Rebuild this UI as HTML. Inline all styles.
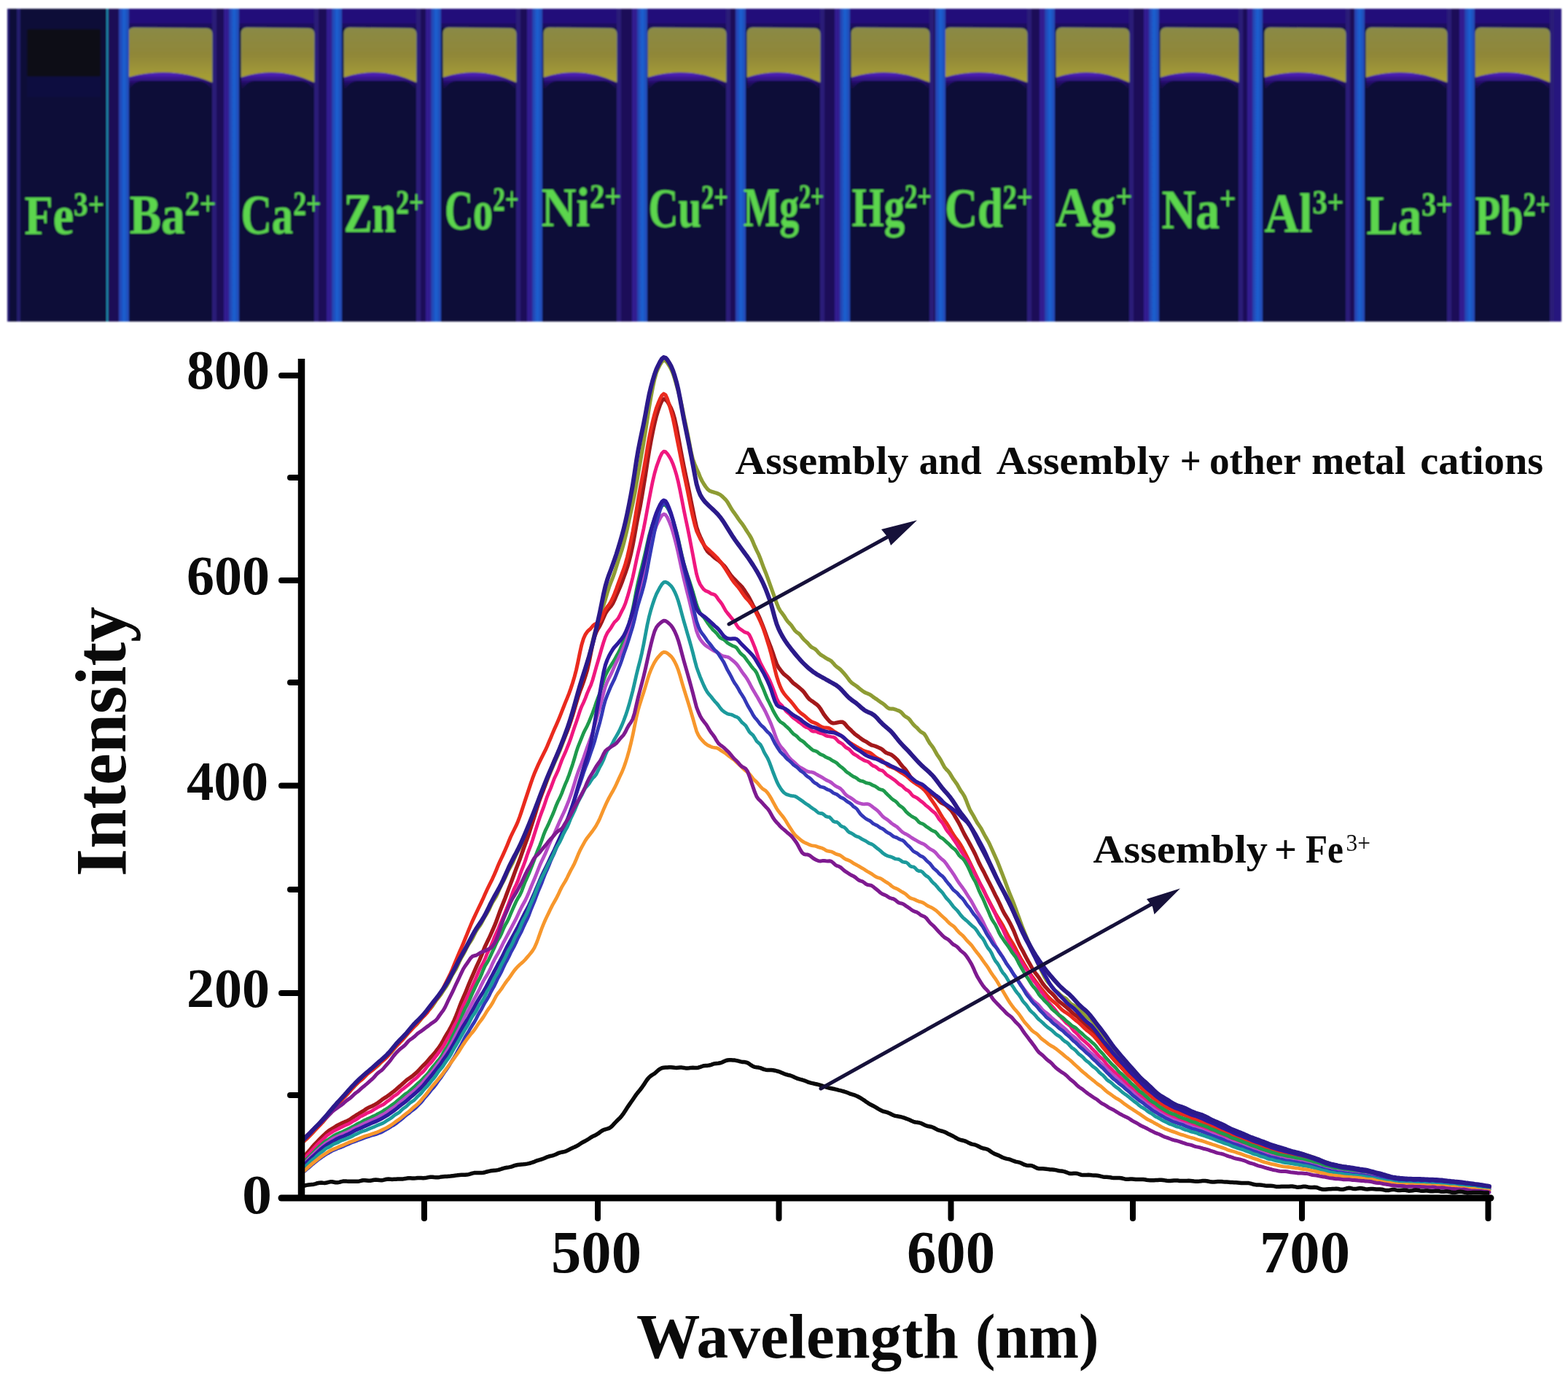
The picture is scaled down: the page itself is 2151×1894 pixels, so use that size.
<!DOCTYPE html>
<html><head><meta charset="utf-8"><title>Fluorescence spectra</title>
<style>
html,body{margin:0;padding:0;background:#fff;}
body{width:2151px;height:1894px;overflow:hidden;}
svg{display:block;}
.lab{font-family:"Liberation Serif",serif;font-weight:bold;font-size:77px;fill:#5cd64e;}
.tick{font-family:"Liberation Serif",serif;font-weight:bold;font-size:76px;fill:#0a0a0a;}
.tickx{font-family:"Liberation Serif",serif;font-weight:bold;font-size:83px;fill:#0a0a0a;}
.ylab{font-family:"Liberation Serif",serif;font-weight:bold;font-size:100px;fill:#0a0a0a;}
.xlab{font-family:"Liberation Serif",serif;font-weight:bold;font-size:86px;fill:#0a0a0a;}
.ann{font-family:"Liberation Serif",serif;font-weight:bold;font-size:55px;fill:#0a0a0a;}
.sup{font-family:"Liberation Serif",serif;font-size:34px;fill:#0a0a0a;}
</style></head>
<body>
<svg width="2151" height="1894" viewBox="0 0 2151 1894">
<defs>
<linearGradient id="yel" x1="0" y1="0" x2="0" y2="1">
<stop offset="0" stop-color="#8a8a46"/><stop offset="0.5" stop-color="#908738"/><stop offset="1" stop-color="#aaa236"/>
</linearGradient>
<linearGradient id="rim" gradientUnits="userSpaceOnUse" x1="0" y1="92" x2="0" y2="122">
<stop offset="0" stop-color="#6a34d4"/><stop offset="0.35" stop-color="#4a1eb0"/><stop offset="0.75" stop-color="#1e0c60"/><stop offset="1" stop-color="#0f0838"/>
</linearGradient>
<linearGradient id="bluestripe" x1="0" y1="0" x2="1" y2="0">
<stop offset="0" stop-color="#2a3aa8"/><stop offset="0.5" stop-color="#1a62d2"/><stop offset="1" stop-color="#2446b0"/>
</linearGradient>
<filter id="blurP" x="-1%" y="-3%" width="102%" height="106%"><feGaussianBlur stdDeviation="1.1"/></filter>
</defs>
<rect width="2151" height="1894" fill="#fff"/>
<g filter="url(#blurP)">
<rect x="10" y="12" width="2132" height="429" fill="#0f0838"/>
<rect x="170" y="12" width="1972" height="22" fill="#22107a"/>
<rect x="170" y="32" width="1972" height="6" fill="#1a0c5e"/>
<rect x="10" y="12" width="3" height="429" fill="#241470"/>
<rect x="23" y="12" width="5" height="429" fill="#262070" opacity="0.9"/>
<rect x="37" y="40" width="101" height="65" rx="3" fill="#101016"/>
<rect x="37" y="105" width="101" height="28" fill="#0d0c42" opacity="0.8"/>
<rect x="146" y="12" width="2.5" height="429" fill="#1a8ab0"/>
<rect x="149" y="12" width="14" height="429" fill="#1a0a56"/>
<rect x="291" y="12" width="6" height="429" fill="#2a1c78"/>
<rect x="297" y="12" width="17" height="429" fill="#1c0a58"/>
<rect x="307" y="12" width="7" height="429" fill="#301c90"/>
<rect x="431" y="12" width="6" height="429" fill="#2a1c78"/>
<rect x="437" y="12" width="18" height="429" fill="#1c0a58"/>
<rect x="448" y="12" width="7" height="429" fill="#301c90"/>
<rect x="571" y="12" width="6" height="429" fill="#2a1c78"/>
<rect x="577" y="12" width="14" height="429" fill="#1c0a58"/>
<rect x="584" y="12" width="7" height="429" fill="#301c90"/>
<rect x="708" y="12" width="6" height="429" fill="#2a1c78"/>
<rect x="714" y="12" width="16" height="429" fill="#1c0a58"/>
<rect x="723" y="12" width="7" height="429" fill="#301c90"/>
<rect x="846" y="12" width="6" height="429" fill="#2a1c78"/>
<rect x="852" y="12" width="22" height="429" fill="#1c0a58"/>
<rect x="867" y="12" width="7" height="429" fill="#301c90"/>
<rect x="996" y="12" width="6" height="429" fill="#2a1c78"/>
<rect x="1002" y="12" width="7" height="429" fill="#1c0a58"/>
<rect x="1125" y="12" width="6" height="429" fill="#2a1c78"/>
<rect x="1131" y="12" width="21" height="429" fill="#1c0a58"/>
<rect x="1145" y="12" width="7" height="429" fill="#301c90"/>
<rect x="1275" y="12" width="6" height="429" fill="#2a1c78"/>
<rect x="1281" y="12" width="2" height="429" fill="#1c0a58"/>
<rect x="1409" y="12" width="6" height="429" fill="#2a1c78"/>
<rect x="1415" y="12" width="18" height="429" fill="#1c0a58"/>
<rect x="1426" y="12" width="7" height="429" fill="#301c90"/>
<rect x="1549" y="12" width="6" height="429" fill="#2a1c78"/>
<rect x="1555" y="12" width="21" height="429" fill="#1c0a58"/>
<rect x="1569" y="12" width="7" height="429" fill="#301c90"/>
<rect x="1699" y="12" width="6" height="429" fill="#2a1c78"/>
<rect x="1705" y="12" width="13" height="429" fill="#1c0a58"/>
<rect x="1711" y="12" width="7" height="429" fill="#301c90"/>
<rect x="1846" y="12" width="6" height="429" fill="#2a1c78"/>
<rect x="1852" y="12" width="6" height="429" fill="#1c0a58"/>
<rect x="1985" y="12" width="6" height="429" fill="#2a1c78"/>
<rect x="1991" y="12" width="18" height="429" fill="#1c0a58"/>
<rect x="2002" y="12" width="7" height="429" fill="#301c90"/>
<rect x="2126" y="12" width="6" height="429" fill="#2a1c78"/>
<rect x="2132" y="12" width="3" height="429" fill="#1c0a58"/>
<path d="M176 441 L176 106 Q233.5 89.5 291 113 L291 441 Z" fill="url(#rim)"/>
<rect x="178" y="111" width="111" height="330" rx="17" fill="#0f0838"/>
<rect x="178" y="135" width="111" height="306" fill="#0f0838"/>
<path d="M176 106 L176 46 Q176 38 184 38 L283 39 Q291 39 291 47 L291 113 Q233.5 89.5 176 106 Z" fill="url(#yel)"/>
<path d="M176 106 L176 46 Q176 38 184 38 L283 39 Q291 39 291 47 L291 113" fill="none" stroke="#8a9a70" stroke-width="1.5" opacity="0.6"/>
<path d="M331 441 L331 106 Q381.0 89.5 431 113 L431 441 Z" fill="url(#rim)"/>
<rect x="333" y="111" width="96" height="330" rx="17" fill="#0f0838"/>
<rect x="333" y="135" width="96" height="306" fill="#0f0838"/>
<path d="M331 106 L331 46 Q331 38 339 38 L423 39 Q431 39 431 47 L431 113 Q381.0 89.5 331 106 Z" fill="url(#yel)"/>
<path d="M331 106 L331 46 Q331 38 339 38 L423 39 Q431 39 431 47 L431 113" fill="none" stroke="#8a9a70" stroke-width="1.5" opacity="0.6"/>
<path d="M472 441 L472 106 Q521.5 89.5 571 113 L571 441 Z" fill="url(#rim)"/>
<rect x="474" y="111" width="95" height="330" rx="17" fill="#0f0838"/>
<rect x="474" y="135" width="95" height="306" fill="#0f0838"/>
<path d="M472 106 L472 46 Q472 38 480 38 L563 39 Q571 39 571 47 L571 113 Q521.5 89.5 472 106 Z" fill="url(#yel)"/>
<path d="M472 106 L472 46 Q472 38 480 38 L563 39 Q571 39 571 47 L571 113" fill="none" stroke="#8a9a70" stroke-width="1.5" opacity="0.6"/>
<path d="M608 441 L608 106 Q658.0 89.5 708 113 L708 441 Z" fill="url(#rim)"/>
<rect x="610" y="111" width="96" height="330" rx="17" fill="#0f0838"/>
<rect x="610" y="135" width="96" height="306" fill="#0f0838"/>
<path d="M608 106 L608 46 Q608 38 616 38 L700 39 Q708 39 708 47 L708 113 Q658.0 89.5 608 106 Z" fill="url(#yel)"/>
<path d="M608 106 L608 46 Q608 38 616 38 L700 39 Q708 39 708 47 L708 113" fill="none" stroke="#8a9a70" stroke-width="1.5" opacity="0.6"/>
<path d="M746 441 L746 106 Q796.0 89.5 846 113 L846 441 Z" fill="url(#rim)"/>
<rect x="748" y="111" width="96" height="330" rx="17" fill="#0f0838"/>
<rect x="748" y="135" width="96" height="306" fill="#0f0838"/>
<path d="M746 106 L746 46 Q746 38 754 38 L838 39 Q846 39 846 47 L846 113 Q796.0 89.5 746 106 Z" fill="url(#yel)"/>
<path d="M746 106 L746 46 Q746 38 754 38 L838 39 Q846 39 846 47 L846 113" fill="none" stroke="#8a9a70" stroke-width="1.5" opacity="0.6"/>
<path d="M889 441 L889 106 Q942.5 89.5 996 113 L996 441 Z" fill="url(#rim)"/>
<rect x="891" y="111" width="103" height="330" rx="17" fill="#0f0838"/>
<rect x="891" y="135" width="103" height="306" fill="#0f0838"/>
<path d="M889 106 L889 46 Q889 38 897 38 L988 39 Q996 39 996 47 L996 113 Q942.5 89.5 889 106 Z" fill="url(#yel)"/>
<path d="M889 106 L889 46 Q889 38 897 38 L988 39 Q996 39 996 47 L996 113" fill="none" stroke="#8a9a70" stroke-width="1.5" opacity="0.6"/>
<path d="M1025 441 L1025 106 Q1075.0 89.5 1125 113 L1125 441 Z" fill="url(#rim)"/>
<rect x="1027" y="111" width="96" height="330" rx="17" fill="#0f0838"/>
<rect x="1027" y="135" width="96" height="306" fill="#0f0838"/>
<path d="M1025 106 L1025 46 Q1025 38 1033 38 L1117 39 Q1125 39 1125 47 L1125 113 Q1075.0 89.5 1025 106 Z" fill="url(#yel)"/>
<path d="M1025 106 L1025 46 Q1025 38 1033 38 L1117 39 Q1125 39 1125 47 L1125 113" fill="none" stroke="#8a9a70" stroke-width="1.5" opacity="0.6"/>
<path d="M1168 441 L1168 106 Q1221.5 89.5 1275 113 L1275 441 Z" fill="url(#rim)"/>
<rect x="1170" y="111" width="103" height="330" rx="17" fill="#0f0838"/>
<rect x="1170" y="135" width="103" height="306" fill="#0f0838"/>
<path d="M1168 106 L1168 46 Q1168 38 1176 38 L1267 39 Q1275 39 1275 47 L1275 113 Q1221.5 89.5 1168 106 Z" fill="url(#yel)"/>
<path d="M1168 106 L1168 46 Q1168 38 1176 38 L1267 39 Q1275 39 1275 47 L1275 113" fill="none" stroke="#8a9a70" stroke-width="1.5" opacity="0.6"/>
<path d="M1296 441 L1296 106 Q1352.5 89.5 1409 113 L1409 441 Z" fill="url(#rim)"/>
<rect x="1298" y="111" width="109" height="330" rx="17" fill="#0f0838"/>
<rect x="1298" y="135" width="109" height="306" fill="#0f0838"/>
<path d="M1296 106 L1296 46 Q1296 38 1304 38 L1401 39 Q1409 39 1409 47 L1409 113 Q1352.5 89.5 1296 106 Z" fill="url(#yel)"/>
<path d="M1296 106 L1296 46 Q1296 38 1304 38 L1401 39 Q1409 39 1409 47 L1409 113" fill="none" stroke="#8a9a70" stroke-width="1.5" opacity="0.6"/>
<path d="M1449 441 L1449 106 Q1499.0 89.5 1549 113 L1549 441 Z" fill="url(#rim)"/>
<rect x="1451" y="111" width="96" height="330" rx="17" fill="#0f0838"/>
<rect x="1451" y="135" width="96" height="306" fill="#0f0838"/>
<path d="M1449 106 L1449 46 Q1449 38 1457 38 L1541 39 Q1549 39 1549 47 L1549 113 Q1499.0 89.5 1449 106 Z" fill="url(#yel)"/>
<path d="M1449 106 L1449 46 Q1449 38 1457 38 L1541 39 Q1549 39 1549 47 L1549 113" fill="none" stroke="#8a9a70" stroke-width="1.5" opacity="0.6"/>
<path d="M1592 441 L1592 106 Q1645.5 89.5 1699 113 L1699 441 Z" fill="url(#rim)"/>
<rect x="1594" y="111" width="103" height="330" rx="17" fill="#0f0838"/>
<rect x="1594" y="135" width="103" height="306" fill="#0f0838"/>
<path d="M1592 106 L1592 46 Q1592 38 1600 38 L1691 39 Q1699 39 1699 47 L1699 113 Q1645.5 89.5 1592 106 Z" fill="url(#yel)"/>
<path d="M1592 106 L1592 46 Q1592 38 1600 38 L1691 39 Q1699 39 1699 47 L1699 113" fill="none" stroke="#8a9a70" stroke-width="1.5" opacity="0.6"/>
<path d="M1735 441 L1735 106 Q1790.5 89.5 1846 113 L1846 441 Z" fill="url(#rim)"/>
<rect x="1737" y="111" width="107" height="330" rx="17" fill="#0f0838"/>
<rect x="1737" y="135" width="107" height="306" fill="#0f0838"/>
<path d="M1735 106 L1735 46 Q1735 38 1743 38 L1838 39 Q1846 39 1846 47 L1846 113 Q1790.5 89.5 1735 106 Z" fill="url(#yel)"/>
<path d="M1735 106 L1735 46 Q1735 38 1743 38 L1838 39 Q1846 39 1846 47 L1846 113" fill="none" stroke="#8a9a70" stroke-width="1.5" opacity="0.6"/>
<path d="M1874 441 L1874 106 Q1929.5 89.5 1985 113 L1985 441 Z" fill="url(#rim)"/>
<rect x="1876" y="111" width="107" height="330" rx="17" fill="#0f0838"/>
<rect x="1876" y="135" width="107" height="306" fill="#0f0838"/>
<path d="M1874 106 L1874 46 Q1874 38 1882 38 L1977 39 Q1985 39 1985 47 L1985 113 Q1929.5 89.5 1874 106 Z" fill="url(#yel)"/>
<path d="M1874 106 L1874 46 Q1874 38 1882 38 L1977 39 Q1985 39 1985 47 L1985 113" fill="none" stroke="#8a9a70" stroke-width="1.5" opacity="0.6"/>
<path d="M2024 441 L2024 106 Q2075.0 89.5 2126 113 L2126 441 Z" fill="url(#rim)"/>
<rect x="2026" y="111" width="98" height="330" rx="17" fill="#0f0838"/>
<rect x="2026" y="135" width="98" height="306" fill="#0f0838"/>
<path d="M2024 106 L2024 46 Q2024 38 2032 38 L2118 39 Q2126 39 2126 47 L2126 113 Q2075.0 89.5 2024 106 Z" fill="url(#yel)"/>
<path d="M2024 106 L2024 46 Q2024 38 2032 38 L2118 39 Q2126 39 2126 47 L2126 113" fill="none" stroke="#8a9a70" stroke-width="1.5" opacity="0.6"/>
<rect x="163" y="12" width="14" height="429" fill="url(#bluestripe)"/>
<rect x="314" y="12" width="14" height="429" fill="url(#bluestripe)"/>
<rect x="455" y="12" width="14" height="429" fill="url(#bluestripe)"/>
<rect x="591" y="12" width="14" height="429" fill="url(#bluestripe)"/>
<rect x="730" y="12" width="14" height="429" fill="url(#bluestripe)"/>
<rect x="874" y="12" width="14" height="429" fill="url(#bluestripe)"/>
<rect x="1009" y="12" width="14" height="429" fill="url(#bluestripe)"/>
<rect x="1152" y="12" width="14" height="429" fill="url(#bluestripe)"/>
<rect x="1283" y="12" width="14" height="429" fill="url(#bluestripe)"/>
<rect x="1433" y="12" width="14" height="429" fill="url(#bluestripe)"/>
<rect x="1576" y="12" width="14" height="429" fill="url(#bluestripe)"/>
<rect x="1718" y="12" width="14" height="429" fill="url(#bluestripe)"/>
<rect x="1858" y="12" width="14" height="429" fill="url(#bluestripe)"/>
<rect x="2009" y="12" width="14" height="429" fill="url(#bluestripe)"/>
<rect x="2132" y="12" width="10" height="429" fill="#26167e"/>
<text x="33.5" y="321" class="lab" textLength="109.5" lengthAdjust="spacingAndGlyphs">Fe<tspan font-size="47" dy="-25">3+</tspan></text>
<text x="177.5" y="319.5" class="lab" textLength="119.0" lengthAdjust="spacingAndGlyphs">Ba<tspan font-size="47" dy="-25">2+</tspan></text>
<text x="330.5" y="320" class="lab" textLength="110.0" lengthAdjust="spacingAndGlyphs">Ca<tspan font-size="47" dy="-25">2+</tspan></text>
<text x="471.5" y="318" class="lab" textLength="110.0" lengthAdjust="spacingAndGlyphs">Zn<tspan font-size="47" dy="-25">2+</tspan></text>
<text x="610.0" y="314" class="lab" textLength="101.5" lengthAdjust="spacingAndGlyphs">Co<tspan font-size="47" dy="-25">2+</tspan></text>
<text x="742.5" y="310" class="lab" textLength="110.0" lengthAdjust="spacingAndGlyphs">Ni<tspan font-size="47" dy="-25">2+</tspan></text>
<text x="889.5" y="311" class="lab" textLength="109.5" lengthAdjust="spacingAndGlyphs">Cu<tspan font-size="47" dy="-25">2+</tspan></text>
<text x="1019.5" y="310" class="lab" textLength="111.0" lengthAdjust="spacingAndGlyphs">Mg<tspan font-size="47" dy="-25">2+</tspan></text>
<text x="1168.5" y="310" class="lab" textLength="109.6" lengthAdjust="spacingAndGlyphs">Hg<tspan font-size="47" dy="-25">2+</tspan></text>
<text x="1296.0" y="311" class="lab" textLength="120.5" lengthAdjust="spacingAndGlyphs">Cd<tspan font-size="47" dy="-25">2+</tspan></text>
<text x="1448.1" y="310" class="lab" textLength="105.4" lengthAdjust="spacingAndGlyphs">Ag<tspan font-size="47" dy="-25">+</tspan></text>
<text x="1593.5" y="312.6" class="lab" textLength="102.0" lengthAdjust="spacingAndGlyphs">Na<tspan font-size="47" dy="-25">+</tspan></text>
<text x="1734.5" y="317.5" class="lab" textLength="109.0" lengthAdjust="spacingAndGlyphs">Al<tspan font-size="47" dy="-25">3+</tspan></text>
<text x="1874.5" y="321" class="lab" textLength="118.0" lengthAdjust="spacingAndGlyphs">La<tspan font-size="47" dy="-25">3+</tspan></text>
<text x="2023.5" y="321" class="lab" textLength="103.0" lengthAdjust="spacingAndGlyphs">Pb<tspan font-size="47" dy="-25">2+</tspan></text>
</g>
<path d="M413.0 1568.8 L415.5 1566.3 L418.0 1564.1 L420.5 1562.0 L423.0 1559.5 L425.5 1556.8 L428.0 1554.3 L430.5 1551.8 L433.0 1549.1 L435.5 1546.2 L438.0 1543.5 L440.5 1541.1 L443.0 1538.6 L445.5 1535.5 L448.0 1532.3 L450.5 1529.4 L453.0 1526.8 L455.5 1523.8 L458.0 1520.7 L460.5 1518.0 L463.0 1515.5 L465.5 1512.7 L468.0 1509.5 L470.5 1506.5 L473.0 1504.0 L475.5 1501.7 L478.0 1498.9 L480.5 1495.8 L483.0 1493.1 L485.5 1490.6 L488.0 1488.0 L490.5 1485.2 L493.0 1482.8 L495.5 1481.0 L498.0 1479.0 L500.5 1476.3 L503.0 1473.6 L505.5 1471.4 L508.0 1469.7 L510.5 1467.8 L513.0 1465.7 L515.5 1463.8 L518.0 1461.8 L520.5 1459.3 L523.0 1456.4 L525.5 1453.8 L528.0 1451.6 L530.5 1449.7 L533.0 1447.3 L535.5 1444.6 L538.0 1441.7 L540.5 1438.6 L543.0 1435.3 L545.5 1432.3 L548.0 1429.8 L550.5 1427.6 L553.0 1425.1 L555.5 1422.2 L558.0 1419.1 L560.5 1415.9 L563.0 1412.9 L565.5 1410.2 L568.0 1408.0 L570.5 1406.0 L573.0 1403.4 L575.5 1400.3 L578.0 1397.2 L580.5 1394.2 L583.0 1391.2 L585.5 1388.2 L588.0 1385.4 L590.5 1383.0 L593.0 1380.1 L595.5 1376.4 L598.0 1372.5 L600.5 1369.3 L603.0 1366.3 L605.5 1362.9 L608.0 1358.9 L610.5 1355.2 L613.0 1351.5 L615.5 1347.1 L618.0 1341.8 L620.5 1336.9 L623.0 1332.9 L625.5 1328.9 L628.0 1323.7 L630.5 1318.0 L633.0 1313.1 L635.5 1308.9 L638.0 1304.3 L640.5 1299.2 L643.0 1294.8 L645.5 1291.1 L648.0 1287.1 L650.5 1282.0 L653.0 1277.0 L655.5 1273.2 L658.0 1270.0 L660.5 1265.9 L663.0 1261.0 L665.5 1256.5 L668.0 1252.6 L670.5 1248.1 L673.0 1242.6 L675.5 1237.5 L678.0 1233.5 L680.5 1229.5 L683.0 1224.3 L685.5 1218.5 L688.0 1213.3 L690.5 1208.8 L693.0 1203.7 L695.5 1197.9 L698.0 1192.7 L700.5 1188.2 L703.0 1183.6 L705.5 1178.0 L708.0 1172.3 L710.5 1167.2 L713.0 1162.5 L715.5 1157.0 L718.0 1151.1 L720.5 1145.6 L723.0 1140.6 L725.5 1135.0 L728.0 1128.4 L730.5 1121.5 L733.0 1114.9 L735.5 1108.3 L738.0 1101.3 L740.5 1094.5 L743.0 1088.5 L745.5 1082.8 L748.0 1076.9 L750.5 1070.5 L753.0 1064.2 L755.5 1058.2 L758.0 1052.2 L760.5 1046.3 L763.0 1040.6 L765.5 1035.1 L768.0 1029.2 L770.5 1022.7 L773.0 1016.0 L775.5 1009.3 L778.0 1002.3 L780.5 995.1 L783.0 987.6 L785.5 979.7 L788.0 970.9 L790.5 961.3 L793.0 951.7 L795.5 943.1 L798.0 935.1 L800.5 926.6 L803.0 917.8 L805.5 909.1 L808.0 900.1 L810.5 890.0 L813.0 879.3 L815.5 869.4 L818.0 860.7 L820.5 851.8 L823.0 843.9 L825.5 836.5 L828.0 829.6 L830.5 821.9 L833.0 813.2 L835.5 805.2 L838.0 798.6 L840.5 792.4 L843.0 785.3 L845.5 777.2 L848.0 769.2 L850.5 762.0 L853.0 754.5 L855.5 745.5 L858.0 735.5 L860.5 724.8 L863.0 713.3 L865.5 701.7 L868.0 690.7 L870.5 678.3 L873.0 664.1 L875.5 649.5 L878.0 635.2 L880.5 621.0 L883.0 606.6 L885.5 591.2 L888.0 574.9 L890.5 558.5 L893.0 544.0 L895.5 530.9 L898.0 519.5 L900.5 510.7 L903.0 505.0 L905.5 500.1 L908.0 496.1 L910.5 494.1 L913.0 494.8 L915.5 497.6 L918.0 501.5 L920.5 505.9 L923.0 511.8 L925.5 519.3 L928.0 528.0 L930.5 536.9 L933.0 546.4 L935.5 557.5 L938.0 570.0 L940.5 581.8 L943.0 593.9 L945.5 606.6 L948.0 619.9 L950.5 630.0 L953.0 636.7 L955.5 642.6 L958.0 648.0 L960.5 654.5 L963.0 659.5 L965.5 663.8 L968.0 667.5 L970.5 670.7 L973.0 672.8 L975.5 674.0 L978.0 674.8 L980.5 675.6 L983.0 676.3 L985.5 677.2 L988.0 678.5 L990.5 680.5 L993.0 682.8 L995.5 685.3 L998.0 688.6 L1000.5 692.9 L1003.0 697.3 L1005.5 701.1 L1008.0 704.4 L1010.5 708.0 L1013.0 711.8 L1015.5 715.2 L1018.0 718.3 L1020.5 721.9 L1023.0 726.0 L1025.5 729.9 L1028.0 733.6 L1030.5 737.9 L1033.0 743.4 L1035.5 749.4 L1038.0 754.8 L1040.5 759.8 L1043.0 765.9 L1045.5 772.9 L1048.0 779.6 L1050.5 785.7 L1053.0 792.3 L1055.5 799.4 L1058.0 806.4 L1060.5 813.3 L1063.0 820.3 L1065.5 827.5 L1068.0 833.6 L1070.5 838.0 L1073.0 841.2 L1075.5 844.6 L1078.0 848.7 L1080.5 852.3 L1083.0 854.9 L1085.5 857.6 L1088.0 861.2 L1090.5 864.8 L1093.0 867.1 L1095.5 868.7 L1098.0 871.2 L1100.5 874.5 L1103.0 877.4 L1105.5 879.6 L1108.0 882.0 L1110.5 884.9 L1113.0 887.4 L1115.5 888.7 L1118.0 890.0 L1120.5 892.3 L1123.0 895.3 L1125.5 897.7 L1128.0 899.3 L1130.5 900.8 L1133.0 902.5 L1135.5 904.0 L1138.0 905.1 L1140.5 906.7 L1143.0 909.4 L1145.5 912.4 L1148.0 914.6 L1150.5 916.4 L1153.0 918.4 L1155.5 921.0 L1158.0 923.8 L1160.5 926.7 L1163.0 930.0 L1165.5 933.4 L1168.0 936.1 L1170.5 938.0 L1173.0 939.6 L1175.5 941.4 L1178.0 943.4 L1180.5 945.5 L1183.0 947.4 L1185.5 949.1 L1188.0 950.4 L1190.5 951.3 L1193.0 952.4 L1195.5 954.0 L1198.0 956.0 L1200.5 957.7 L1203.0 959.3 L1205.5 961.2 L1208.0 963.0 L1210.5 964.5 L1213.0 966.3 L1215.5 968.7 L1218.0 970.9 L1220.5 972.0 L1223.0 972.1 L1225.5 972.2 L1228.0 972.9 L1230.5 973.9 L1233.0 974.7 L1235.5 976.2 L1238.0 978.7 L1240.5 981.5 L1243.0 983.3 L1245.5 984.7 L1248.0 987.1 L1250.5 990.5 L1253.0 993.7 L1255.5 996.1 L1258.0 998.3 L1260.5 1001.1 L1263.0 1003.4 L1265.5 1004.9 L1268.0 1006.7 L1270.5 1010.4 L1273.0 1015.2 L1275.5 1019.3 L1278.0 1022.5 L1280.5 1026.1 L1283.0 1030.6 L1285.5 1034.9 L1288.0 1038.5 L1290.5 1042.4 L1293.0 1047.2 L1295.5 1051.8 L1298.0 1055.0 L1300.5 1057.4 L1303.0 1060.6 L1305.5 1064.8 L1308.0 1068.8 L1310.5 1072.2 L1313.0 1075.8 L1315.5 1080.3 L1318.0 1084.6 L1320.5 1088.0 L1323.0 1092.1 L1325.5 1097.9 L1328.0 1104.6 L1330.5 1110.5 L1333.0 1114.9 L1335.5 1119.0 L1338.0 1123.7 L1340.5 1128.2 L1343.0 1131.9 L1345.5 1135.6 L1348.0 1140.2 L1350.5 1145.0 L1353.0 1149.4 L1355.5 1153.7 L1358.0 1158.7 L1360.5 1164.3 L1363.0 1169.9 L1365.5 1175.3 L1368.0 1181.0 L1370.5 1187.3 L1373.0 1193.7 L1375.5 1200.1 L1378.0 1206.6 L1380.5 1213.4 L1383.0 1220.1 L1385.5 1226.4 L1388.0 1232.4 L1390.5 1238.8 L1393.0 1245.5 L1395.5 1252.3 L1398.0 1259.1 L1400.5 1266.1 L1403.0 1272.8 L1405.5 1279.0 L1408.0 1285.0 L1410.5 1291.2 L1413.0 1297.1 L1415.5 1302.7 L1418.0 1308.1 L1420.5 1313.9 L1423.0 1319.8 L1425.5 1325.2 L1428.0 1330.1 L1430.5 1335.0 L1433.0 1340.0 L1435.5 1344.3 L1438.0 1347.4 L1440.5 1349.9 L1443.0 1353.0 L1445.5 1356.3 L1448.0 1358.8 L1450.5 1360.7 L1453.0 1363.0 L1455.5 1365.4 L1458.0 1367.3 L1460.5 1368.5 L1463.0 1370.2 L1465.5 1373.0 L1468.0 1375.8 L1470.5 1377.6 L1473.0 1378.8 L1475.5 1380.5 L1478.0 1382.8 L1480.5 1384.8 L1483.0 1386.5 L1485.5 1389.0 L1488.0 1392.3 L1490.5 1394.9 L1493.0 1396.4 L1495.5 1397.8 L1498.0 1400.2 L1500.5 1403.5 L1503.0 1406.6 L1505.5 1409.6 L1508.0 1413.1 L1510.5 1416.9 L1513.0 1420.1 L1515.5 1422.4 L1518.0 1425.2 L1520.5 1429.0 L1523.0 1433.1 L1525.5 1436.3 L1528.0 1439.0 L1530.5 1441.9 L1533.0 1445.0 L1535.5 1447.6 L1538.0 1450.1 L1540.5 1453.0 L1543.0 1456.5 L1545.5 1459.8 L1548.0 1462.3 L1550.5 1464.6 L1553.0 1467.2 L1555.5 1470.1 L1558.0 1472.8 L1560.5 1475.4 L1563.0 1478.2 L1565.5 1481.0 L1568.0 1483.4 L1570.5 1485.5 L1573.0 1487.7 L1575.5 1490.1 L1578.0 1492.6 L1580.5 1494.9 L1583.0 1497.0 L1585.5 1499.0 L1588.0 1501.0 L1590.5 1502.8 L1593.0 1504.7 L1595.5 1506.7 L1598.0 1508.6 L1600.5 1510.1 L1603.0 1511.4 L1605.5 1512.5 L1608.0 1513.7 L1610.5 1514.8 L1613.0 1516.1 L1615.5 1517.5 L1618.0 1518.8 L1620.5 1519.8 L1623.0 1520.6 L1625.5 1521.4 L1628.0 1522.5 L1630.5 1523.6 L1633.0 1524.6 L1635.5 1525.7 L1638.0 1526.9 L1640.5 1527.9 L1643.0 1528.5 L1645.5 1529.2 L1648.0 1530.2 L1650.5 1531.6 L1653.0 1532.7 L1655.5 1533.8 L1658.0 1534.9 L1660.5 1536.2 L1663.0 1537.3 L1665.5 1538.1 L1668.0 1539.1 L1670.5 1540.6 L1673.0 1542.0 L1675.5 1543.2 L1678.0 1544.1 L1680.5 1545.3 L1683.0 1546.7 L1685.5 1547.8 L1688.0 1548.7 L1690.5 1549.8 L1693.0 1551.1 L1695.5 1552.4 L1698.0 1553.3 L1700.5 1554.2 L1703.0 1555.3 L1705.5 1556.5 L1708.0 1557.5 L1710.5 1558.2 L1713.0 1559.2 L1715.5 1560.4 L1718.0 1561.6 L1720.5 1562.4 L1723.0 1563.2 L1725.5 1564.3 L1728.0 1565.4 L1730.5 1566.1 L1733.0 1566.8 L1735.5 1567.8 L1738.0 1569.0 L1740.5 1570.0 L1743.0 1570.7 L1745.5 1571.4 L1748.0 1572.3 L1750.5 1573.2 L1753.0 1573.9 L1755.5 1574.5 L1758.0 1575.4 L1760.5 1576.3 L1763.0 1576.9 L1765.5 1577.4 L1768.0 1577.9 L1770.5 1578.6 L1773.0 1579.3 L1775.5 1579.9 L1778.0 1580.5 L1780.5 1581.2 L1783.0 1581.8 L1785.5 1582.4 L1788.0 1583.0 L1790.5 1583.7 L1793.0 1584.6 L1795.5 1585.4 L1798.0 1586.1 L1800.5 1586.9 L1803.0 1587.8 L1805.5 1588.8 L1808.0 1589.8 L1810.5 1590.9 L1813.0 1592.0 L1815.5 1593.0 L1818.0 1593.8 L1820.5 1594.6 L1823.0 1595.4 L1825.5 1596.3 L1828.0 1597.0 L1830.5 1597.8 L1833.0 1598.4 L1835.5 1598.9 L1838.0 1599.1 L1840.5 1599.4 L1843.0 1600.0 L1845.5 1600.7 L1848.0 1601.2 L1850.5 1601.6 L1853.0 1602.0 L1855.5 1602.4 L1858.0 1602.6 L1860.5 1602.7 L1863.0 1603.2 L1865.5 1604.0 L1868.0 1604.7 L1870.5 1605.0 L1873.0 1605.3 L1875.5 1605.8 L1878.0 1606.3 L1880.5 1606.7 L1883.0 1607.3 L1885.5 1608.2 L1888.0 1609.3 L1890.5 1610.0 L1893.0 1610.4 L1895.5 1610.8 L1898.0 1611.6 L1900.5 1612.5 L1903.0 1613.1 L1905.5 1613.7 L1908.0 1614.5 L1910.5 1615.2 L1913.0 1615.5 L1915.5 1615.6 L1918.0 1615.9 L1920.5 1616.5 L1923.0 1616.9 L1925.5 1616.9 L1928.0 1616.9 L1930.5 1617.1 L1933.0 1617.3 L1935.5 1617.3 L1938.0 1617.2 L1940.5 1617.4 L1943.0 1617.8 L1945.5 1617.9 L1948.0 1617.6 L1950.5 1617.5 L1953.0 1617.8 L1955.5 1618.0 L1958.0 1618.1 L1960.5 1618.1 L1963.0 1618.3 L1965.5 1618.5 L1968.0 1618.5 L1970.5 1618.4 L1973.0 1618.6 L1975.5 1619.0 L1978.0 1619.4 L1980.5 1619.6 L1983.0 1619.6 L1985.5 1619.8 L1988.0 1620.1 L1990.5 1620.3 L1993.0 1620.5 L1995.5 1621.0 L1998.0 1621.4 L2000.5 1621.7 L2003.0 1621.8 L2005.5 1621.9 L2008.0 1622.2 L2010.5 1622.5 L2013.0 1622.9 L2015.5 1623.3 L2018.0 1623.7 L2020.5 1624.0 L2023.0 1624.2 L2025.5 1624.5 L2028.0 1624.8 L2030.5 1625.2 L2033.0 1625.5 L2035.5 1625.9 L2038.0 1626.4 L2040.5 1626.8 L2043.0 1627.1" stroke="#8e9c34" stroke-width="5.2" fill="none" stroke-linejoin="round" stroke-linecap="round"/>
<path d="M413.0 1588.7 L415.5 1587.1 L418.0 1585.0 L420.5 1582.3 L423.0 1579.6 L425.5 1576.7 L428.0 1573.6 L430.5 1570.7 L433.0 1568.1 L435.5 1565.5 L438.0 1562.9 L440.5 1560.4 L443.0 1558.0 L445.5 1555.6 L448.0 1553.3 L450.5 1551.2 L453.0 1549.5 L455.5 1548.0 L458.0 1546.5 L460.5 1544.9 L463.0 1543.4 L465.5 1542.1 L468.0 1540.9 L470.5 1539.7 L473.0 1538.6 L475.5 1537.7 L478.0 1536.5 L480.5 1534.9 L483.0 1533.2 L485.5 1531.5 L488.0 1529.9 L490.5 1528.4 L493.0 1526.8 L495.5 1525.4 L498.0 1523.9 L500.5 1522.3 L503.0 1520.5 L505.5 1519.1 L508.0 1518.0 L510.5 1517.0 L513.0 1515.7 L515.5 1514.2 L518.0 1512.7 L520.5 1511.0 L523.0 1509.1 L525.5 1507.2 L528.0 1505.6 L530.5 1504.1 L533.0 1502.3 L535.5 1500.3 L538.0 1498.4 L540.5 1496.6 L543.0 1494.5 L545.5 1492.3 L548.0 1490.1 L550.5 1488.0 L553.0 1485.7 L555.5 1483.4 L558.0 1481.2 L560.5 1479.4 L563.0 1477.8 L565.5 1476.0 L568.0 1473.9 L570.5 1471.7 L573.0 1469.4 L575.5 1466.8 L578.0 1464.0 L580.5 1461.4 L583.0 1459.0 L585.5 1456.4 L588.0 1453.4 L590.5 1450.4 L593.0 1447.8 L595.5 1445.1 L598.0 1442.0 L600.5 1438.7 L603.0 1435.2 L605.5 1431.4 L608.0 1427.0 L610.5 1422.4 L613.0 1418.2 L615.5 1414.1 L618.0 1409.7 L620.5 1404.7 L623.0 1399.3 L625.5 1393.5 L628.0 1387.2 L630.5 1380.4 L633.0 1374.0 L635.5 1368.2 L638.0 1362.7 L640.5 1356.6 L643.0 1350.3 L645.5 1344.3 L648.0 1338.6 L650.5 1332.7 L653.0 1327.0 L655.5 1321.6 L658.0 1316.3 L660.5 1310.3 L663.0 1303.9 L665.5 1297.9 L668.0 1292.6 L670.5 1287.5 L673.0 1282.0 L675.5 1276.4 L678.0 1270.7 L680.5 1264.5 L683.0 1257.6 L685.5 1250.6 L688.0 1244.2 L690.5 1238.1 L693.0 1231.8 L695.5 1225.0 L698.0 1218.4 L700.5 1211.9 L703.0 1205.2 L705.5 1198.3 L708.0 1191.6 L710.5 1185.3 L713.0 1178.8 L715.5 1171.7 L718.0 1164.5 L720.5 1157.6 L723.0 1150.9 L725.5 1143.6 L728.0 1135.8 L730.5 1127.9 L733.0 1120.1 L735.5 1112.0 L738.0 1103.9 L740.5 1096.5 L743.0 1089.8 L745.5 1083.2 L748.0 1076.1 L750.5 1068.8 L753.0 1062.0 L755.5 1055.6 L758.0 1049.2 L760.5 1043.1 L763.0 1037.6 L765.5 1032.3 L768.0 1026.5 L770.5 1020.3 L773.0 1014.4 L775.5 1008.7 L778.0 1002.8 L780.5 996.1 L783.0 988.7 L785.5 981.0 L788.0 972.6 L790.5 963.9 L793.0 955.6 L795.5 948.4 L798.0 941.9 L800.5 934.9 L803.0 927.2 L805.5 919.0 L808.0 908.2 L810.5 895.4 L813.0 882.9 L815.5 873.3 L818.0 866.8 L820.5 862.1 L823.0 857.8 L825.5 852.5 L828.0 847.0 L830.5 841.4 L833.0 837.3 L835.5 834.2 L838.0 831.5 L840.5 827.8 L843.0 822.6 L845.5 816.8 L848.0 810.9 L850.5 805.2 L853.0 799.1 L855.5 792.2 L858.0 785.3 L860.5 777.9 L863.0 769.4 L865.5 759.4 L868.0 747.7 L870.5 734.2 L873.0 720.0 L875.5 707.0 L878.0 695.2 L880.5 681.2 L883.0 666.1 L885.5 650.7 L888.0 634.4 L890.5 618.6 L893.0 604.7 L895.5 592.0 L898.0 580.4 L900.5 570.4 L903.0 562.3 L905.5 555.2 L908.0 549.7 L910.5 547.1 L913.0 547.8 L915.5 550.7 L918.0 554.9 L920.5 559.7 L923.0 566.0 L925.5 574.5 L928.0 585.8 L930.5 599.2 L933.0 613.0 L935.5 626.2 L938.0 639.1 L940.5 651.0 L943.0 662.7 L945.5 674.8 L948.0 687.4 L950.5 699.6 L953.0 711.7 L955.5 722.8 L958.0 730.2 L960.5 736.1 L963.0 741.4 L965.5 746.9 L968.0 752.1 L970.5 756.1 L973.0 758.5 L975.5 760.4 L978.0 762.8 L980.5 765.1 L983.0 766.9 L985.5 768.5 L988.0 770.6 L990.5 773.1 L993.0 775.6 L995.5 778.6 L998.0 782.2 L1000.5 786.2 L1003.0 789.6 L1005.5 792.3 L1008.0 794.8 L1010.5 797.5 L1013.0 800.1 L1015.5 802.5 L1018.0 805.2 L1020.5 808.6 L1023.0 812.4 L1025.5 816.2 L1028.0 820.4 L1030.5 825.3 L1033.0 830.3 L1035.5 834.7 L1038.0 839.1 L1040.5 844.1 L1043.0 849.9 L1045.5 856.1 L1048.0 862.5 L1050.5 869.4 L1053.0 876.5 L1055.5 883.0 L1058.0 889.3 L1060.5 896.4 L1063.0 904.0 L1065.5 910.8 L1068.0 915.3 L1070.5 918.7 L1073.0 921.9 L1075.5 924.7 L1078.0 926.7 L1080.5 928.6 L1083.0 931.0 L1085.5 933.9 L1088.0 936.6 L1090.5 938.5 L1093.0 940.4 L1095.5 942.4 L1098.0 944.5 L1100.5 946.7 L1103.0 949.4 L1105.5 952.9 L1108.0 956.4 L1110.5 959.1 L1113.0 960.9 L1115.5 962.6 L1118.0 964.5 L1120.5 966.2 L1123.0 968.6 L1125.5 972.0 L1128.0 976.2 L1130.5 980.2 L1133.0 983.5 L1135.5 986.5 L1138.0 989.3 L1140.5 991.2 L1143.0 991.9 L1145.5 991.6 L1148.0 991.1 L1150.5 990.6 L1153.0 990.2 L1155.5 990.2 L1158.0 991.6 L1160.5 994.4 L1163.0 997.4 L1165.5 999.8 L1168.0 1002.1 L1170.5 1004.6 L1173.0 1006.9 L1175.5 1008.7 L1178.0 1010.5 L1180.5 1012.5 L1183.0 1014.4 L1185.5 1015.9 L1188.0 1017.1 L1190.5 1018.7 L1193.0 1020.4 L1195.5 1021.8 L1198.0 1022.5 L1200.5 1023.3 L1203.0 1024.3 L1205.5 1025.4 L1208.0 1026.5 L1210.5 1028.1 L1213.0 1030.3 L1215.5 1032.3 L1218.0 1033.4 L1220.5 1034.1 L1223.0 1035.3 L1225.5 1037.1 L1228.0 1039.2 L1230.5 1041.6 L1233.0 1044.6 L1235.5 1048.0 L1238.0 1051.0 L1240.5 1053.6 L1243.0 1056.6 L1245.5 1060.3 L1248.0 1064.1 L1250.5 1067.4 L1253.0 1070.1 L1255.5 1072.7 L1258.0 1074.8 L1260.5 1076.5 L1263.0 1078.1 L1265.5 1080.3 L1268.0 1082.7 L1270.5 1084.6 L1273.0 1085.8 L1275.5 1087.0 L1278.0 1088.7 L1280.5 1090.6 L1283.0 1092.7 L1285.5 1095.1 L1288.0 1098.0 L1290.5 1100.4 L1293.0 1101.9 L1295.5 1103.1 L1298.0 1104.8 L1300.5 1107.0 L1303.0 1109.5 L1305.5 1112.3 L1308.0 1116.0 L1310.5 1120.3 L1313.0 1124.7 L1315.5 1129.0 L1318.0 1133.8 L1320.5 1139.1 L1323.0 1144.1 L1325.5 1148.6 L1328.0 1153.0 L1330.5 1157.6 L1333.0 1162.3 L1335.5 1167.0 L1338.0 1172.0 L1340.5 1177.6 L1343.0 1183.3 L1345.5 1188.3 L1348.0 1192.9 L1350.5 1197.6 L1353.0 1202.7 L1355.5 1207.8 L1358.0 1212.5 L1360.5 1217.4 L1363.0 1222.6 L1365.5 1227.7 L1368.0 1232.5 L1370.5 1237.6 L1373.0 1243.0 L1375.5 1248.5 L1378.0 1253.2 L1380.5 1257.2 L1383.0 1261.4 L1385.5 1266.1 L1388.0 1271.0 L1390.5 1276.3 L1393.0 1282.4 L1395.5 1288.9 L1398.0 1294.8 L1400.5 1299.7 L1403.0 1304.1 L1405.5 1308.9 L1408.0 1313.8 L1410.5 1318.4 L1413.0 1322.7 L1415.5 1327.1 L1418.0 1331.2 L1420.5 1334.6 L1423.0 1337.7 L1425.5 1341.2 L1428.0 1345.3 L1430.5 1349.0 L1433.0 1352.2 L1435.5 1355.0 L1438.0 1357.8 L1440.5 1360.3 L1443.0 1362.5 L1445.5 1365.0 L1448.0 1368.0 L1450.5 1371.1 L1453.0 1373.5 L1455.5 1375.4 L1458.0 1377.3 L1460.5 1379.5 L1463.0 1381.5 L1465.5 1383.6 L1468.0 1385.8 L1470.5 1388.4 L1473.0 1390.6 L1475.5 1392.4 L1478.0 1394.3 L1480.5 1396.8 L1483.0 1399.4 L1485.5 1401.7 L1488.0 1403.9 L1490.5 1406.3 L1493.0 1408.9 L1495.5 1411.3 L1498.0 1413.6 L1500.5 1416.3 L1503.0 1419.4 L1505.5 1422.2 L1508.0 1424.8 L1510.5 1427.6 L1513.0 1431.0 L1515.5 1434.5 L1518.0 1437.9 L1520.5 1441.2 L1523.0 1444.4 L1525.5 1447.2 L1528.0 1449.5 L1530.5 1451.7 L1533.0 1454.3 L1535.5 1457.3 L1538.0 1460.3 L1540.5 1463.0 L1543.0 1465.8 L1545.5 1468.5 L1548.0 1471.1 L1550.5 1473.4 L1553.0 1476.0 L1555.5 1478.8 L1558.0 1481.5 L1560.5 1483.7 L1563.0 1485.7 L1565.5 1488.0 L1568.0 1490.4 L1570.5 1492.9 L1573.0 1495.4 L1575.5 1497.9 L1578.0 1500.3 L1580.5 1502.3 L1583.0 1503.8 L1585.5 1505.4 L1588.0 1507.2 L1590.5 1509.2 L1593.0 1511.1 L1595.5 1513.0 L1598.0 1514.8 L1600.5 1516.5 L1603.0 1517.7 L1605.5 1518.8 L1608.0 1519.9 L1610.5 1521.2 L1613.0 1522.2 L1615.5 1523.1 L1618.0 1524.0 L1620.5 1525.1 L1623.0 1526.2 L1625.5 1527.3 L1628.0 1528.5 L1630.5 1529.7 L1633.0 1530.7 L1635.5 1531.5 L1638.0 1532.1 L1640.5 1533.0 L1643.0 1533.9 L1645.5 1534.8 L1648.0 1535.8 L1650.5 1536.9 L1653.0 1538.1 L1655.5 1539.1 L1658.0 1540.1 L1660.5 1541.2 L1663.0 1542.5 L1665.5 1543.6 L1668.0 1544.5 L1670.5 1545.5 L1673.0 1546.6 L1675.5 1547.8 L1678.0 1548.9 L1680.5 1550.2 L1683.0 1551.5 L1685.5 1552.7 L1688.0 1553.7 L1690.5 1554.5 L1693.0 1555.5 L1695.5 1556.6 L1698.0 1557.7 L1700.5 1558.8 L1703.0 1559.8 L1705.5 1560.9 L1708.0 1561.8 L1710.5 1562.6 L1713.0 1563.4 L1715.5 1564.5 L1718.0 1565.7 L1720.5 1566.8 L1723.0 1567.7 L1725.5 1568.6 L1728.0 1569.4 L1730.5 1570.2 L1733.0 1571.0 L1735.5 1572.0 L1738.0 1573.1 L1740.5 1574.0 L1743.0 1574.8 L1745.5 1575.4 L1748.0 1576.2 L1750.5 1577.1 L1753.0 1577.8 L1755.5 1578.6 L1758.0 1579.4 L1760.5 1580.1 L1763.0 1580.5 L1765.5 1580.9 L1768.0 1581.4 L1770.5 1582.0 L1773.0 1582.8 L1775.5 1583.4 L1778.0 1584.0 L1780.5 1584.7 L1783.0 1585.3 L1785.5 1585.7 L1788.0 1586.2 L1790.5 1586.9 L1793.0 1587.6 L1795.5 1588.2 L1798.0 1588.9 L1800.5 1589.8 L1803.0 1590.8 L1805.5 1591.9 L1808.0 1592.9 L1810.5 1593.8 L1813.0 1594.8 L1815.5 1595.6 L1818.0 1596.2 L1820.5 1596.9 L1823.0 1597.8 L1825.5 1598.7 L1828.0 1599.4 L1830.5 1600.0 L1833.0 1600.6 L1835.5 1601.2 L1838.0 1601.5 L1840.5 1601.9 L1843.0 1602.3 L1845.5 1602.8 L1848.0 1603.1 L1850.5 1603.3 L1853.0 1603.6 L1855.5 1604.0 L1858.0 1604.6 L1860.5 1605.1 L1863.0 1605.6 L1865.5 1606.2 L1868.0 1606.5 L1870.5 1606.6 L1873.0 1606.7 L1875.5 1607.1 L1878.0 1607.8 L1880.5 1608.5 L1883.0 1609.3 L1885.5 1610.1 L1888.0 1610.8 L1890.5 1611.4 L1893.0 1611.9 L1895.5 1612.4 L1898.0 1613.2 L1900.5 1614.0 L1903.0 1614.6 L1905.5 1615.1 L1908.0 1615.7 L1910.5 1616.2 L1913.0 1616.7 L1915.5 1617.1 L1918.0 1617.6 L1920.5 1618.0 L1923.0 1618.2 L1925.5 1618.1 L1928.0 1618.1 L1930.5 1618.2 L1933.0 1618.4 L1935.5 1618.5 L1938.0 1618.6 L1940.5 1618.9 L1943.0 1619.0 L1945.5 1619.0 L1948.0 1618.9 L1950.5 1619.0 L1953.0 1619.2 L1955.5 1619.3 L1958.0 1619.3 L1960.5 1619.3 L1963.0 1619.5 L1965.5 1619.6 L1968.0 1619.7 L1970.5 1619.9 L1973.0 1620.2 L1975.5 1620.4 L1978.0 1620.4 L1980.5 1620.5 L1983.0 1620.8 L1985.5 1621.2 L1988.0 1621.5 L1990.5 1621.8 L1993.0 1622.0 L1995.5 1622.2 L1998.0 1622.3 L2000.5 1622.4 L2003.0 1622.7 L2005.5 1623.3 L2008.0 1623.8 L2010.5 1624.1 L2013.0 1624.2 L2015.5 1624.4 L2018.0 1624.6 L2020.5 1624.8 L2023.0 1625.1 L2025.5 1625.5 L2028.0 1626.1 L2030.5 1626.4 L2033.0 1626.6 L2035.5 1626.9 L2038.0 1627.3 L2040.5 1627.8 L2043.0 1628.2" stroke="#a3191b" stroke-width="5.4" fill="none" stroke-linejoin="round" stroke-linecap="round"/>
<path d="M413.0 1568.8 L415.5 1566.4 L418.0 1564.1 L420.5 1561.9 L423.0 1559.6 L425.5 1557.0 L428.0 1554.3 L430.5 1551.6 L433.0 1549.0 L435.5 1546.5 L438.0 1543.9 L440.5 1541.2 L443.0 1538.3 L445.5 1535.3 L448.0 1532.3 L450.5 1529.5 L453.0 1526.7 L455.5 1523.9 L458.0 1521.0 L460.5 1518.1 L463.0 1515.1 L465.5 1512.3 L468.0 1509.6 L470.5 1506.9 L473.0 1504.2 L475.5 1501.6 L478.0 1498.9 L480.5 1496.1 L483.0 1493.2 L485.5 1490.3 L488.0 1487.6 L490.5 1485.3 L493.0 1483.2 L495.5 1481.1 L498.0 1478.8 L500.5 1476.4 L503.0 1473.9 L505.5 1471.7 L508.0 1469.7 L510.5 1467.9 L513.0 1465.8 L515.5 1463.5 L518.0 1461.0 L520.5 1458.6 L523.0 1456.5 L525.5 1454.6 L528.0 1452.6 L530.5 1450.1 L533.0 1447.2 L535.5 1444.0 L538.0 1440.9 L540.5 1438.1 L543.0 1435.5 L545.5 1433.0 L548.0 1430.4 L550.5 1427.6 L553.0 1424.8 L555.5 1421.9 L558.0 1419.1 L560.5 1416.4 L563.0 1413.7 L565.5 1411.0 L568.0 1408.3 L570.5 1405.5 L573.0 1402.6 L575.5 1399.8 L578.0 1397.1 L580.5 1394.6 L583.0 1392.2 L585.5 1389.4 L588.0 1386.0 L590.5 1382.2 L593.0 1378.2 L595.5 1374.5 L598.0 1371.2 L600.5 1368.0 L603.0 1364.4 L605.5 1360.0 L608.0 1355.0 L610.5 1350.0 L613.0 1345.1 L615.5 1340.2 L618.0 1335.1 L620.5 1329.4 L623.0 1323.3 L625.5 1317.1 L628.0 1311.1 L630.5 1305.3 L633.0 1299.7 L635.5 1293.9 L638.0 1287.8 L640.5 1281.6 L643.0 1275.4 L645.5 1269.4 L648.0 1263.6 L650.5 1258.1 L653.0 1252.7 L655.5 1247.5 L658.0 1242.4 L660.5 1237.2 L663.0 1231.7 L665.5 1226.0 L668.0 1220.5 L670.5 1215.4 L673.0 1210.4 L675.5 1205.3 L678.0 1199.8 L680.5 1193.9 L683.0 1187.8 L685.5 1182.1 L688.0 1176.7 L690.5 1171.4 L693.0 1165.8 L695.5 1159.9 L698.0 1153.7 L700.5 1147.8 L703.0 1142.5 L705.5 1137.5 L708.0 1132.4 L710.5 1126.7 L713.0 1120.0 L715.5 1112.6 L718.0 1105.0 L720.5 1097.4 L723.0 1089.9 L725.5 1082.4 L728.0 1074.9 L730.5 1067.7 L733.0 1061.1 L735.5 1055.2 L738.0 1049.6 L740.5 1044.2 L743.0 1039.1 L745.5 1034.2 L748.0 1029.2 L750.5 1023.7 L753.0 1017.8 L755.5 1011.9 L758.0 1005.9 L760.5 1000.1 L763.0 994.4 L765.5 988.7 L768.0 982.7 L770.5 976.4 L773.0 970.0 L775.5 963.7 L778.0 957.6 L780.5 951.4 L783.0 944.4 L785.5 936.8 L788.0 928.4 L790.5 918.9 L793.0 907.4 L795.5 895.1 L798.0 883.9 L800.5 875.7 L803.0 870.2 L805.5 866.6 L808.0 864.1 L810.5 861.8 L813.0 858.7 L815.5 856.5 L818.0 855.1 L820.5 853.8 L823.0 851.9 L825.5 847.3 L828.0 841.0 L830.5 835.9 L833.0 832.4 L835.5 829.3 L838.0 825.3 L840.5 820.1 L843.0 814.1 L845.5 807.6 L848.0 800.6 L850.5 793.8 L853.0 787.4 L855.5 780.7 L858.0 773.0 L860.5 763.8 L863.0 753.1 L865.5 741.4 L868.0 729.3 L870.5 715.2 L873.0 700.0 L875.5 685.2 L878.0 670.8 L880.5 657.4 L883.0 644.2 L885.5 630.0 L888.0 614.9 L890.5 600.5 L893.0 588.2 L895.5 577.4 L898.0 567.6 L900.5 559.3 L903.0 552.8 L905.5 546.9 L908.0 542.3 L910.5 540.1 L913.0 541.6 L915.5 547.1 L918.0 555.0 L920.5 563.6 L923.0 573.1 L925.5 585.1 L928.0 598.0 L930.5 610.6 L933.0 622.9 L935.5 635.8 L938.0 648.5 L940.5 660.3 L943.0 672.3 L945.5 684.7 L948.0 697.4 L950.5 709.0 L953.0 719.2 L955.5 727.9 L958.0 733.4 L960.5 738.7 L963.0 743.2 L965.5 747.0 L968.0 750.0 L970.5 752.5 L973.0 754.7 L975.5 757.0 L978.0 759.3 L980.5 761.7 L983.0 764.2 L985.5 767.0 L988.0 770.1 L990.5 773.5 L993.0 777.1 L995.5 780.9 L998.0 784.9 L1000.5 788.9 L1003.0 793.0 L1005.5 796.7 L1008.0 799.9 L1010.5 802.8 L1013.0 805.7 L1015.5 809.1 L1018.0 812.8 L1020.5 816.4 L1023.0 819.7 L1025.5 822.4 L1028.0 825.2 L1030.5 828.5 L1033.0 832.5 L1035.5 836.9 L1038.0 841.8 L1040.5 846.9 L1043.0 852.2 L1045.5 858.0 L1048.0 864.7 L1050.5 872.3 L1053.0 880.2 L1055.5 888.3 L1058.0 897.3 L1060.5 907.5 L1063.0 918.0 L1065.5 927.8 L1068.0 935.6 L1070.5 942.1 L1073.0 947.3 L1075.5 951.2 L1078.0 954.3 L1080.5 957.1 L1083.0 959.9 L1085.5 962.7 L1088.0 965.8 L1090.5 969.0 L1093.0 972.3 L1095.5 975.2 L1098.0 977.5 L1100.5 979.4 L1103.0 981.2 L1105.5 983.3 L1108.0 985.7 L1110.5 987.9 L1113.0 989.6 L1115.5 990.7 L1118.0 991.6 L1120.5 992.7 L1123.0 994.3 L1125.5 996.0 L1128.0 997.3 L1130.5 997.9 L1133.0 998.0 L1135.5 998.2 L1138.0 999.0 L1140.5 1000.4 L1143.0 1002.3 L1145.5 1004.0 L1148.0 1005.5 L1150.5 1006.9 L1153.0 1008.5 L1155.5 1010.3 L1158.0 1012.4 L1160.5 1014.5 L1163.0 1016.5 L1165.5 1018.3 L1168.0 1019.9 L1170.5 1021.5 L1173.0 1023.0 L1175.5 1024.4 L1178.0 1025.9 L1180.5 1027.3 L1183.0 1028.7 L1185.5 1029.8 L1188.0 1030.6 L1190.5 1031.3 L1193.0 1032.2 L1195.5 1033.7 L1198.0 1035.7 L1200.5 1037.8 L1203.0 1039.4 L1205.5 1040.7 L1208.0 1041.8 L1210.5 1043.4 L1213.0 1045.6 L1215.5 1047.9 L1218.0 1050.0 L1220.5 1051.4 L1223.0 1052.2 L1225.5 1053.1 L1228.0 1054.2 L1230.5 1055.8 L1233.0 1057.5 L1235.5 1059.1 L1238.0 1060.6 L1240.5 1062.1 L1243.0 1063.9 L1245.5 1066.0 L1248.0 1068.3 L1250.5 1070.5 L1253.0 1072.5 L1255.5 1074.2 L1258.0 1075.9 L1260.5 1077.5 L1263.0 1079.2 L1265.5 1081.1 L1268.0 1083.4 L1270.5 1086.4 L1273.0 1089.9 L1275.5 1093.7 L1278.0 1097.3 L1280.5 1100.9 L1283.0 1104.5 L1285.5 1108.5 L1288.0 1112.8 L1290.5 1117.1 L1293.0 1121.1 L1295.5 1124.6 L1298.0 1128.1 L1300.5 1132.0 L1303.0 1136.2 L1305.5 1140.7 L1308.0 1144.9 L1310.5 1148.5 L1313.0 1151.8 L1315.5 1155.1 L1318.0 1158.9 L1320.5 1163.3 L1323.0 1168.1 L1325.5 1173.0 L1328.0 1177.9 L1330.5 1182.9 L1333.0 1188.0 L1335.5 1193.3 L1338.0 1198.6 L1340.5 1203.8 L1343.0 1208.8 L1345.5 1213.8 L1348.0 1218.7 L1350.5 1223.7 L1353.0 1228.6 L1355.5 1233.4 L1358.0 1238.1 L1360.5 1242.9 L1363.0 1247.7 L1365.5 1252.4 L1368.0 1256.7 L1370.5 1260.7 L1373.0 1264.7 L1375.5 1269.0 L1378.0 1273.8 L1380.5 1278.7 L1383.0 1283.4 L1385.5 1287.7 L1388.0 1291.8 L1390.5 1295.9 L1393.0 1300.5 L1395.5 1305.3 L1398.0 1310.2 L1400.5 1314.7 L1403.0 1318.9 L1405.5 1323.0 L1408.0 1327.1 L1410.5 1331.2 L1413.0 1335.1 L1415.5 1338.7 L1418.0 1342.1 L1420.5 1345.4 L1423.0 1348.8 L1425.5 1352.1 L1428.0 1355.4 L1430.5 1358.4 L1433.0 1361.4 L1435.5 1364.3 L1438.0 1367.1 L1440.5 1369.7 L1443.0 1372.0 L1445.5 1374.0 L1448.0 1376.0 L1450.5 1378.3 L1453.0 1380.9 L1455.5 1383.6 L1458.0 1385.8 L1460.5 1387.6 L1463.0 1389.2 L1465.5 1390.8 L1468.0 1392.7 L1470.5 1394.9 L1473.0 1397.1 L1475.5 1399.2 L1478.0 1401.1 L1480.5 1403.1 L1483.0 1405.5 L1485.5 1408.0 L1488.0 1410.4 L1490.5 1412.7 L1493.0 1414.6 L1495.5 1416.5 L1498.0 1418.6 L1500.5 1421.0 L1503.0 1423.8 L1505.5 1426.8 L1508.0 1429.9 L1510.5 1433.2 L1513.0 1436.4 L1515.5 1439.4 L1518.0 1442.3 L1520.5 1445.0 L1523.0 1447.8 L1525.5 1450.6 L1528.0 1453.5 L1530.5 1456.3 L1533.0 1459.0 L1535.5 1461.6 L1538.0 1464.1 L1540.5 1466.7 L1543.0 1469.6 L1545.5 1472.4 L1548.0 1475.0 L1550.5 1477.2 L1553.0 1479.3 L1555.5 1481.6 L1558.0 1484.2 L1560.5 1487.0 L1563.0 1489.7 L1565.5 1492.1 L1568.0 1494.2 L1570.5 1496.2 L1573.0 1498.2 L1575.5 1500.4 L1578.0 1502.6 L1580.5 1504.7 L1583.0 1506.7 L1585.5 1508.6 L1588.0 1510.4 L1590.5 1512.2 L1593.0 1514.0 L1595.5 1515.7 L1598.0 1517.3 L1600.5 1518.7 L1603.0 1520.1 L1605.5 1521.3 L1608.0 1522.4 L1610.5 1523.5 L1613.0 1524.6 L1615.5 1525.7 L1618.0 1526.9 L1620.5 1528.0 L1623.0 1528.9 L1625.5 1529.7 L1628.0 1530.5 L1630.5 1531.4 L1633.0 1532.6 L1635.5 1533.8 L1638.0 1534.9 L1640.5 1535.7 L1643.0 1536.4 L1645.5 1537.1 L1648.0 1538.0 L1650.5 1539.1 L1653.0 1540.3 L1655.5 1541.3 L1658.0 1542.3 L1660.5 1543.2 L1663.0 1544.3 L1665.5 1545.5 L1668.0 1546.8 L1670.5 1548.0 L1673.0 1549.1 L1675.5 1550.0 L1678.0 1551.0 L1680.5 1552.0 L1683.0 1553.1 L1685.5 1554.2 L1688.0 1555.5 L1690.5 1556.7 L1693.0 1557.8 L1695.5 1558.8 L1698.0 1559.7 L1700.5 1560.5 L1703.0 1561.4 L1705.5 1562.4 L1708.0 1563.5 L1710.5 1564.6 L1713.0 1565.5 L1715.5 1566.4 L1718.0 1567.3 L1720.5 1568.3 L1723.0 1569.4 L1725.5 1570.5 L1728.0 1571.4 L1730.5 1572.2 L1733.0 1572.8 L1735.5 1573.6 L1738.0 1574.5 L1740.5 1575.5 L1743.0 1576.6 L1745.5 1577.4 L1748.0 1578.1 L1750.5 1578.7 L1753.0 1579.4 L1755.5 1580.1 L1758.0 1580.8 L1760.5 1581.5 L1763.0 1582.1 L1765.5 1582.6 L1768.0 1583.1 L1770.5 1583.6 L1773.0 1584.2 L1775.5 1584.8 L1778.0 1585.4 L1780.5 1585.9 L1783.0 1586.5 L1785.5 1587.1 L1788.0 1587.6 L1790.5 1588.2 L1793.0 1588.8 L1795.5 1589.6 L1798.0 1590.5 L1800.5 1591.3 L1803.0 1592.1 L1805.5 1592.8 L1808.0 1593.6 L1810.5 1594.5 L1813.0 1595.6 L1815.5 1596.7 L1818.0 1597.7 L1820.5 1598.5 L1823.0 1599.1 L1825.5 1599.7 L1828.0 1600.3 L1830.5 1600.9 L1833.0 1601.5 L1835.5 1602.0 L1838.0 1602.3 L1840.5 1602.7 L1843.0 1603.1 L1845.5 1603.6 L1848.0 1604.1 L1850.5 1604.6 L1853.0 1604.9 L1855.5 1605.1 L1858.0 1605.3 L1860.5 1605.6 L1863.0 1606.0 L1865.5 1606.4 L1868.0 1606.9 L1870.5 1607.4 L1873.0 1607.9 L1875.5 1608.5 L1878.0 1608.9 L1880.5 1609.4 L1883.0 1609.8 L1885.5 1610.4 L1888.0 1611.1 L1890.5 1611.8 L1893.0 1612.5 L1895.5 1613.2 L1898.0 1613.8 L1900.5 1614.5 L1903.0 1615.2 L1905.5 1616.0 L1908.0 1616.6 L1910.5 1617.0 L1913.0 1617.2 L1915.5 1617.5 L1918.0 1617.8 L1920.5 1618.2 L1923.0 1618.6 L1925.5 1618.8 L1928.0 1618.9 L1930.5 1618.9 L1933.0 1619.0 L1935.5 1619.1 L1938.0 1619.2 L1940.5 1619.3 L1943.0 1619.4 L1945.5 1619.4 L1948.0 1619.5 L1950.5 1619.6 L1953.0 1619.7 L1955.5 1619.8 L1958.0 1619.9 L1960.5 1620.0 L1963.0 1620.1 L1965.5 1620.3 L1968.0 1620.4 L1970.5 1620.4 L1973.0 1620.5 L1975.5 1620.7 L1978.0 1621.0 L1980.5 1621.3 L1983.0 1621.6 L1985.5 1621.7 L1988.0 1621.8 L1990.5 1622.0 L1993.0 1622.3 L1995.5 1622.7 L1998.0 1623.1 L2000.5 1623.4 L2003.0 1623.5 L2005.5 1623.7 L2008.0 1623.9 L2010.5 1624.2 L2013.0 1624.5 L2015.5 1624.8 L2018.0 1625.1 L2020.5 1625.4 L2023.0 1625.7 L2025.5 1626.1 L2028.0 1626.5 L2030.5 1626.8 L2033.0 1627.1 L2035.5 1627.5 L2038.0 1627.8 L2040.5 1628.1 L2043.0 1628.4" stroke="#ea2a1e" stroke-width="5.0" fill="none" stroke-linejoin="round" stroke-linecap="round"/>
<path d="M413.0 1591.7 L415.5 1590.3 L418.0 1588.3 L420.5 1585.6 L423.0 1582.9 L425.5 1580.3 L428.0 1577.5 L430.5 1574.8 L433.0 1572.2 L435.5 1569.5 L438.0 1566.9 L440.5 1564.8 L443.0 1562.7 L445.5 1560.2 L448.0 1557.7 L450.5 1555.9 L453.0 1554.3 L455.5 1552.7 L458.0 1551.1 L460.5 1549.9 L463.0 1548.7 L465.5 1547.4 L468.0 1546.0 L470.5 1544.8 L473.0 1543.6 L475.5 1542.5 L478.0 1541.5 L480.5 1540.2 L483.0 1538.5 L485.5 1537.0 L488.0 1535.8 L490.5 1534.2 L493.0 1532.3 L495.5 1530.8 L498.0 1529.7 L500.5 1528.4 L503.0 1526.9 L505.5 1525.8 L508.0 1524.8 L510.5 1523.4 L513.0 1521.8 L515.5 1520.3 L518.0 1518.7 L520.5 1517.3 L523.0 1516.2 L525.5 1515.0 L528.0 1513.2 L530.5 1511.1 L533.0 1509.4 L535.5 1507.6 L538.0 1505.3 L540.5 1503.2 L543.0 1501.7 L545.5 1500.0 L548.0 1497.6 L550.5 1495.2 L553.0 1493.3 L555.5 1491.3 L558.0 1489.3 L560.5 1487.3 L563.0 1485.2 L565.5 1482.8 L568.0 1480.8 L570.5 1479.0 L573.0 1476.7 L575.5 1474.0 L578.0 1471.8 L580.5 1469.7 L583.0 1466.8 L585.5 1463.3 L588.0 1460.5 L590.5 1458.1 L593.0 1455.2 L595.5 1451.8 L598.0 1448.6 L600.5 1445.4 L603.0 1442.0 L605.5 1438.6 L608.0 1435.1 L610.5 1430.8 L613.0 1426.3 L615.5 1422.1 L618.0 1417.4 L620.5 1412.0 L623.0 1406.9 L625.5 1402.7 L628.0 1397.7 L630.5 1391.1 L633.0 1384.6 L635.5 1379.1 L638.0 1373.8 L640.5 1368.2 L643.0 1363.1 L645.5 1358.2 L648.0 1352.6 L650.5 1346.7 L653.0 1341.0 L655.5 1335.0 L658.0 1329.2 L660.5 1324.6 L663.0 1320.3 L665.5 1314.6 L668.0 1308.3 L670.5 1303.2 L673.0 1298.5 L675.5 1292.5 L678.0 1286.0 L680.5 1280.4 L683.0 1275.1 L685.5 1269.0 L688.0 1262.9 L690.5 1257.2 L693.0 1251.2 L695.5 1244.9 L698.0 1238.6 L700.5 1231.9 L703.0 1224.7 L705.5 1218.5 L708.0 1213.5 L710.5 1207.7 L713.0 1200.5 L715.5 1193.6 L718.0 1187.5 L720.5 1180.7 L723.0 1173.0 L725.5 1166.1 L728.0 1159.6 L730.5 1152.3 L733.0 1144.2 L735.5 1136.3 L738.0 1128.5 L740.5 1121.0 L743.0 1114.2 L745.5 1107.7 L748.0 1100.3 L750.5 1092.8 L753.0 1086.7 L755.5 1080.9 L758.0 1074.2 L760.5 1067.5 L763.0 1062.2 L765.5 1056.8 L768.0 1050.0 L770.5 1043.1 L773.0 1037.4 L775.5 1031.8 L778.0 1025.7 L780.5 1019.5 L783.0 1012.7 L785.5 1005.0 L788.0 997.5 L790.5 990.5 L793.0 983.1 L795.5 975.2 L798.0 968.7 L800.5 963.5 L803.0 957.6 L805.5 950.9 L808.0 945.1 L810.5 939.7 L813.0 932.5 L815.5 923.6 L818.0 914.7 L820.5 906.2 L823.0 897.8 L825.5 889.0 L828.0 880.8 L830.5 873.5 L833.0 868.2 L835.5 864.6 L838.0 861.3 L840.5 857.0 L843.0 853.2 L845.5 851.0 L848.0 848.1 L850.5 843.3 L853.0 838.1 L855.5 833.3 L858.0 827.3 L860.5 819.6 L863.0 811.0 L865.5 801.9 L868.0 792.0 L870.5 780.5 L873.0 768.4 L875.5 757.4 L878.0 747.0 L880.5 736.3 L883.0 724.9 L885.5 712.1 L888.0 698.4 L890.5 684.9 L893.0 671.9 L895.5 659.6 L898.0 649.0 L900.5 640.4 L903.0 633.3 L905.5 626.7 L908.0 621.6 L910.5 619.1 L913.0 619.7 L915.5 622.3 L918.0 626.1 L920.5 630.3 L923.0 635.9 L925.5 643.1 L928.0 651.3 L930.5 661.2 L933.0 673.0 L935.5 685.8 L938.0 698.7 L940.5 710.9 L943.0 722.8 L945.5 735.1 L948.0 748.1 L950.5 761.1 L953.0 774.5 L955.5 787.2 L958.0 795.8 L960.5 801.5 L963.0 805.3 L965.5 808.4 L968.0 810.2 L970.5 811.2 L973.0 812.5 L975.5 814.2 L978.0 814.9 L980.5 815.7 L983.0 818.4 L985.5 822.2 L988.0 825.3 L990.5 828.6 L993.0 833.1 L995.5 837.6 L998.0 840.9 L1000.5 843.9 L1003.0 847.0 L1005.5 850.0 L1008.0 853.3 L1010.5 857.3 L1013.0 860.8 L1015.5 862.8 L1018.0 864.4 L1020.5 866.3 L1023.0 867.5 L1025.5 868.1 L1028.0 870.7 L1030.5 875.8 L1033.0 881.9 L1035.5 888.1 L1038.0 895.1 L1040.5 902.5 L1043.0 908.9 L1045.5 913.7 L1048.0 918.4 L1050.5 922.9 L1053.0 927.3 L1055.5 932.3 L1058.0 938.2 L1060.5 944.5 L1063.0 951.0 L1065.5 958.0 L1068.0 963.1 L1070.5 965.8 L1073.0 968.1 L1075.5 971.4 L1078.0 974.9 L1080.5 977.1 L1083.0 979.2 L1085.5 981.9 L1088.0 984.2 L1090.5 986.0 L1093.0 987.9 L1095.5 989.9 L1098.0 991.6 L1100.5 993.5 L1103.0 995.8 L1105.5 997.3 L1108.0 997.9 L1110.5 999.6 L1113.0 1002.0 L1115.5 1003.2 L1118.0 1003.0 L1120.5 1003.5 L1123.0 1004.8 L1125.5 1005.6 L1128.0 1006.1 L1130.5 1007.4 L1133.0 1008.9 L1135.5 1009.6 L1138.0 1010.0 L1140.5 1010.5 L1143.0 1010.9 L1145.5 1012.0 L1148.0 1014.6 L1150.5 1017.3 L1153.0 1018.7 L1155.5 1020.2 L1158.0 1022.8 L1160.5 1025.2 L1163.0 1026.5 L1165.5 1028.1 L1168.0 1031.0 L1170.5 1033.6 L1173.0 1035.1 L1175.5 1036.5 L1178.0 1038.4 L1180.5 1040.0 L1183.0 1041.4 L1185.5 1042.9 L1188.0 1043.8 L1190.5 1044.5 L1193.0 1046.2 L1195.5 1048.7 L1198.0 1050.4 L1200.5 1051.2 L1203.0 1053.0 L1205.5 1055.2 L1208.0 1056.2 L1210.5 1056.9 L1213.0 1059.0 L1215.5 1061.9 L1218.0 1063.8 L1220.5 1065.3 L1223.0 1067.0 L1225.5 1068.7 L1228.0 1070.4 L1230.5 1072.8 L1233.0 1075.1 L1235.5 1076.6 L1238.0 1078.2 L1240.5 1080.8 L1243.0 1083.0 L1245.5 1084.2 L1248.0 1086.3 L1250.5 1089.6 L1253.0 1092.1 L1255.5 1093.1 L1258.0 1094.3 L1260.5 1096.4 L1263.0 1098.5 L1265.5 1100.3 L1268.0 1102.6 L1270.5 1104.9 L1273.0 1106.7 L1275.5 1108.9 L1278.0 1111.3 L1280.5 1113.3 L1283.0 1115.4 L1285.5 1119.0 L1288.0 1123.1 L1290.5 1126.0 L1293.0 1128.7 L1295.5 1133.0 L1298.0 1137.6 L1300.5 1141.0 L1303.0 1143.8 L1305.5 1147.3 L1308.0 1151.1 L1310.5 1154.6 L1313.0 1158.5 L1315.5 1162.8 L1318.0 1166.7 L1320.5 1170.4 L1323.0 1174.2 L1325.5 1177.6 L1328.0 1180.4 L1330.5 1184.6 L1333.0 1190.3 L1335.5 1195.4 L1338.0 1199.3 L1340.5 1203.7 L1343.0 1209.0 L1345.5 1213.8 L1348.0 1218.0 L1350.5 1223.1 L1353.0 1228.9 L1355.5 1234.2 L1358.0 1239.2 L1360.5 1244.2 L1363.0 1249.0 L1365.5 1253.9 L1368.0 1259.6 L1370.5 1265.3 L1373.0 1269.7 L1375.5 1274.0 L1378.0 1279.7 L1380.5 1285.5 L1383.0 1289.9 L1385.5 1294.0 L1388.0 1299.0 L1390.5 1303.6 L1393.0 1306.8 L1395.5 1310.1 L1398.0 1314.2 L1400.5 1318.3 L1403.0 1322.2 L1405.5 1326.1 L1408.0 1329.6 L1410.5 1332.7 L1413.0 1336.6 L1415.5 1341.4 L1418.0 1345.2 L1420.5 1348.1 L1423.0 1351.8 L1425.5 1356.1 L1428.0 1359.6 L1430.5 1362.5 L1433.0 1366.5 L1435.5 1371.0 L1438.0 1374.5 L1440.5 1377.1 L1443.0 1379.8 L1445.5 1382.6 L1448.0 1385.6 L1450.5 1389.0 L1453.0 1392.5 L1455.5 1395.2 L1458.0 1397.7 L1460.5 1400.6 L1463.0 1403.3 L1465.5 1405.1 L1468.0 1407.2 L1470.5 1410.6 L1473.0 1413.8 L1475.5 1415.9 L1478.0 1418.2 L1480.5 1421.2 L1483.0 1424.0 L1485.5 1426.2 L1488.0 1428.3 L1490.5 1430.6 L1493.0 1432.8 L1495.5 1435.2 L1498.0 1438.1 L1500.5 1440.7 L1503.0 1443.0 L1505.5 1445.8 L1508.0 1448.7 L1510.5 1450.9 L1513.0 1452.9 L1515.5 1456.0 L1518.0 1459.6 L1520.5 1462.4 L1523.0 1464.6 L1525.5 1467.0 L1528.0 1469.5 L1530.5 1471.6 L1533.0 1473.8 L1535.5 1476.3 L1538.0 1478.8 L1540.5 1481.1 L1543.0 1483.5 L1545.5 1485.8 L1548.0 1487.7 L1550.5 1489.9 L1553.0 1492.7 L1555.5 1495.2 L1558.0 1496.9 L1560.5 1498.8 L1563.0 1501.3 L1565.5 1503.6 L1568.0 1505.4 L1570.5 1507.5 L1573.0 1509.7 L1575.5 1511.7 L1578.0 1513.3 L1580.5 1515.0 L1583.0 1516.8 L1585.5 1518.5 L1588.0 1520.4 L1590.5 1522.4 L1593.0 1523.8 L1595.5 1525.0 L1598.0 1526.7 L1600.5 1528.3 L1603.0 1529.4 L1605.5 1530.2 L1608.0 1531.4 L1610.5 1532.6 L1613.0 1533.5 L1615.5 1534.3 L1618.0 1535.6 L1620.5 1536.8 L1623.0 1537.7 L1625.5 1538.6 L1628.0 1539.3 L1630.5 1539.9 L1633.0 1540.8 L1635.5 1542.1 L1638.0 1543.1 L1640.5 1543.8 L1643.0 1544.7 L1645.5 1545.7 L1648.0 1546.5 L1650.5 1547.0 L1653.0 1547.9 L1655.5 1549.2 L1658.0 1550.4 L1660.5 1551.2 L1663.0 1552.2 L1665.5 1553.3 L1668.0 1554.3 L1670.5 1555.3 L1673.0 1556.3 L1675.5 1557.2 L1678.0 1558.1 L1680.5 1559.3 L1683.0 1560.6 L1685.5 1561.5 L1688.0 1562.4 L1690.5 1563.6 L1693.0 1564.7 L1695.5 1565.3 L1698.0 1566.0 L1700.5 1567.1 L1703.0 1568.3 L1705.5 1569.2 L1708.0 1570.1 L1710.5 1571.1 L1713.0 1571.9 L1715.5 1572.8 L1718.0 1573.8 L1720.5 1574.8 L1723.0 1575.6 L1725.5 1576.6 L1728.0 1577.7 L1730.5 1578.4 L1733.0 1579.0 L1735.5 1579.9 L1738.0 1581.2 L1740.5 1582.0 L1743.0 1582.5 L1745.5 1583.1 L1748.0 1583.9 L1750.5 1584.6 L1753.0 1585.2 L1755.5 1586.0 L1758.0 1586.7 L1760.5 1587.2 L1763.0 1587.7 L1765.5 1588.1 L1768.0 1588.4 L1770.5 1588.8 L1773.0 1589.5 L1775.5 1590.2 L1778.0 1590.5 L1780.5 1590.8 L1783.0 1591.5 L1785.5 1592.2 L1788.0 1592.5 L1790.5 1592.9 L1793.0 1593.6 L1795.5 1594.2 L1798.0 1594.8 L1800.5 1595.6 L1803.0 1596.5 L1805.5 1597.4 L1808.0 1598.3 L1810.5 1599.1 L1813.0 1599.7 L1815.5 1600.2 L1818.0 1601.1 L1820.5 1602.2 L1823.0 1603.0 L1825.5 1603.5 L1828.0 1604.1 L1830.5 1604.7 L1833.0 1604.9 L1835.5 1605.0 L1838.0 1605.5 L1840.5 1606.2 L1843.0 1606.6 L1845.5 1606.9 L1848.0 1607.3 L1850.5 1607.5 L1853.0 1607.7 L1855.5 1608.2 L1858.0 1608.6 L1860.5 1608.7 L1863.0 1608.9 L1865.5 1609.5 L1868.0 1609.9 L1870.5 1610.1 L1873.0 1610.4 L1875.5 1611.1 L1878.0 1611.6 L1880.5 1611.9 L1883.0 1612.2 L1885.5 1612.9 L1888.0 1613.6 L1890.5 1614.3 L1893.0 1615.0 L1895.5 1615.5 L1898.0 1616.0 L1900.5 1616.6 L1903.0 1617.4 L1905.5 1617.8 L1908.0 1618.2 L1910.5 1618.8 L1913.0 1619.4 L1915.5 1619.6 L1918.0 1619.7 L1920.5 1620.1 L1923.0 1620.6 L1925.5 1620.7 L1928.0 1620.6 L1930.5 1620.7 L1933.0 1620.7 L1935.5 1620.7 L1938.0 1621.0 L1940.5 1621.2 L1943.0 1621.3 L1945.5 1621.4 L1948.0 1621.6 L1950.5 1621.5 L1953.0 1621.2 L1955.5 1621.3 L1958.0 1621.7 L1960.5 1622.0 L1963.0 1621.9 L1965.5 1622.0 L1968.0 1622.3 L1970.5 1622.4 L1973.0 1622.4 L1975.5 1622.5 L1978.0 1622.7 L1980.5 1622.9 L1983.0 1623.2 L1985.5 1623.5 L1988.0 1623.8 L1990.5 1623.9 L1993.0 1624.3 L1995.5 1624.7 L1998.0 1624.6 L2000.5 1624.5 L2003.0 1625.0 L2005.5 1625.6 L2008.0 1625.8 L2010.5 1626.0 L2013.0 1626.4 L2015.5 1626.7 L2018.0 1626.7 L2020.5 1626.9 L2023.0 1627.2 L2025.5 1627.7 L2028.0 1628.1 L2030.5 1628.5 L2033.0 1628.7 L2035.5 1628.8 L2038.0 1629.1 L2040.5 1629.7 L2043.0 1630.1" stroke="#f0177f" stroke-width="4.8" fill="none" stroke-linejoin="round" stroke-linecap="round"/>
<path d="M413.0 1596.3 L415.5 1594.6 L418.0 1592.4 L420.5 1590.0 L423.0 1587.8 L425.5 1585.3 L428.0 1582.7 L430.5 1580.1 L433.0 1577.5 L435.5 1574.9 L438.0 1572.6 L440.5 1570.4 L443.0 1568.1 L445.5 1565.9 L448.0 1564.2 L450.5 1562.7 L453.0 1560.9 L455.5 1559.2 L458.0 1557.6 L460.5 1556.2 L463.0 1554.9 L465.5 1553.9 L468.0 1553.1 L470.5 1551.9 L473.0 1550.6 L475.5 1549.4 L478.0 1548.3 L480.5 1547.0 L483.0 1545.6 L485.5 1544.3 L488.0 1542.9 L490.5 1541.4 L493.0 1540.2 L495.5 1539.1 L498.0 1537.6 L500.5 1536.2 L503.0 1535.1 L505.5 1534.1 L508.0 1532.8 L510.5 1531.6 L513.0 1530.6 L515.5 1529.3 L518.0 1527.9 L520.5 1526.7 L523.0 1525.4 L525.5 1523.7 L528.0 1522.0 L530.5 1520.6 L533.0 1519.0 L535.5 1517.1 L538.0 1515.2 L540.5 1513.6 L543.0 1511.6 L545.5 1509.4 L548.0 1507.4 L550.5 1505.3 L553.0 1503.0 L555.5 1500.9 L558.0 1499.4 L560.5 1497.6 L563.0 1495.3 L565.5 1493.0 L568.0 1490.9 L570.5 1488.6 L573.0 1486.2 L575.5 1484.1 L578.0 1481.9 L580.5 1479.1 L583.0 1476.4 L585.5 1474.0 L588.0 1471.1 L590.5 1467.4 L593.0 1464.1 L595.5 1461.2 L598.0 1458.2 L600.5 1455.1 L603.0 1452.2 L605.5 1448.6 L608.0 1444.1 L610.5 1439.9 L613.0 1436.3 L615.5 1432.1 L618.0 1427.0 L620.5 1421.9 L623.0 1417.0 L625.5 1411.9 L628.0 1406.6 L630.5 1401.5 L633.0 1395.7 L635.5 1389.1 L638.0 1383.4 L640.5 1378.8 L643.0 1373.9 L645.5 1368.0 L648.0 1362.3 L650.5 1357.0 L653.0 1351.6 L655.5 1346.5 L658.0 1341.9 L660.5 1336.3 L663.0 1329.9 L665.5 1324.5 L668.0 1320.5 L670.5 1316.1 L673.0 1310.7 L675.5 1305.2 L678.0 1299.9 L680.5 1294.3 L683.0 1289.3 L685.5 1285.2 L688.0 1280.1 L690.5 1274.1 L693.0 1268.8 L695.5 1264.5 L698.0 1259.4 L700.5 1253.4 L703.0 1247.6 L705.5 1242.0 L708.0 1236.4 L710.5 1231.8 L713.0 1227.8 L715.5 1222.4 L718.0 1215.6 L720.5 1209.2 L723.0 1203.8 L725.5 1198.1 L728.0 1191.8 L730.5 1185.6 L733.0 1179.0 L735.5 1171.9 L738.0 1165.4 L740.5 1159.7 L743.0 1153.0 L745.5 1145.7 L748.0 1139.4 L750.5 1134.3 L753.0 1128.9 L755.5 1123.1 L758.0 1117.5 L760.5 1111.4 L763.0 1104.7 L765.5 1099.0 L768.0 1094.1 L770.5 1088.4 L773.0 1081.6 L775.5 1075.4 L778.0 1069.7 L780.5 1063.1 L783.0 1055.8 L785.5 1048.4 L788.0 1040.3 L790.5 1031.6 L793.0 1024.1 L795.5 1017.9 L798.0 1011.7 L800.5 1005.4 L803.0 1000.3 L805.5 995.6 L808.0 990.0 L810.5 983.8 L813.0 977.7 L815.5 970.9 L818.0 963.3 L820.5 956.6 L823.0 950.4 L825.5 942.3 L828.0 933.4 L830.5 926.4 L833.0 921.4 L835.5 916.8 L838.0 912.7 L840.5 908.9 L843.0 904.8 L845.5 900.1 L848.0 895.6 L850.5 890.8 L853.0 884.9 L855.5 878.3 L858.0 871.7 L860.5 864.3 L863.0 855.4 L865.5 845.6 L868.0 835.4 L870.5 823.0 L873.0 809.6 L875.5 797.8 L878.0 787.3 L880.5 777.4 L883.0 767.4 L885.5 756.7 L888.0 745.4 L890.5 734.6 L893.0 725.8 L895.5 718.1 L898.0 711.3 L900.5 705.6 L903.0 701.1 L905.5 697.0 L908.0 693.7 L910.5 692.1 L913.0 692.9 L915.5 696.1 L918.0 700.7 L920.5 706.1 L923.0 712.8 L925.5 720.9 L928.0 729.7 L930.5 739.6 L933.0 750.9 L935.5 762.2 L938.0 772.4 L940.5 780.9 L943.0 788.7 L945.5 796.1 L948.0 803.8 L950.5 811.8 L953.0 820.4 L955.5 829.1 L958.0 835.5 L960.5 840.8 L963.0 844.0 L965.5 846.7 L968.0 850.2 L970.5 854.0 L973.0 857.4 L975.5 860.6 L978.0 863.7 L980.5 866.0 L983.0 868.4 L985.5 871.7 L988.0 874.7 L990.5 876.0 L993.0 877.1 L995.5 879.3 L998.0 881.7 L1000.5 883.3 L1003.0 884.7 L1005.5 886.0 L1008.0 886.8 L1010.5 888.5 L1013.0 892.1 L1015.5 895.7 L1018.0 897.8 L1020.5 899.8 L1023.0 903.1 L1025.5 906.6 L1028.0 909.9 L1030.5 913.4 L1033.0 916.6 L1035.5 919.1 L1038.0 922.9 L1040.5 929.0 L1043.0 935.5 L1045.5 941.1 L1048.0 946.9 L1050.5 953.3 L1053.0 959.2 L1055.5 964.0 L1058.0 969.1 L1060.5 974.5 L1063.0 979.0 L1065.5 983.2 L1068.0 987.1 L1070.5 990.0 L1073.0 991.5 L1075.5 993.3 L1078.0 995.7 L1080.5 997.9 L1083.0 1000.3 L1085.5 1003.4 L1088.0 1006.2 L1090.5 1007.9 L1093.0 1009.7 L1095.5 1012.4 L1098.0 1014.8 L1100.5 1016.2 L1103.0 1018.0 L1105.5 1020.6 L1108.0 1022.9 L1110.5 1024.9 L1113.0 1027.3 L1115.5 1029.1 L1118.0 1029.8 L1120.5 1030.7 L1123.0 1032.7 L1125.5 1034.5 L1128.0 1035.4 L1130.5 1036.7 L1133.0 1038.4 L1135.5 1039.5 L1138.0 1040.4 L1140.5 1042.2 L1143.0 1043.8 L1145.5 1044.9 L1148.0 1046.5 L1150.5 1049.1 L1153.0 1051.3 L1155.5 1052.9 L1158.0 1055.2 L1160.5 1057.9 L1163.0 1059.8 L1165.5 1061.3 L1168.0 1063.3 L1170.5 1064.9 L1173.0 1065.9 L1175.5 1067.5 L1178.0 1069.6 L1180.5 1070.9 L1183.0 1071.3 L1185.5 1072.3 L1188.0 1073.6 L1190.5 1074.2 L1193.0 1074.7 L1195.5 1076.0 L1198.0 1077.3 L1200.5 1078.3 L1203.0 1079.9 L1205.5 1081.9 L1208.0 1082.8 L1210.5 1083.3 L1213.0 1085.0 L1215.5 1087.8 L1218.0 1090.3 L1220.5 1092.6 L1223.0 1095.2 L1225.5 1097.1 L1228.0 1098.5 L1230.5 1100.8 L1233.0 1103.8 L1235.5 1105.8 L1238.0 1107.4 L1240.5 1110.0 L1243.0 1113.2 L1245.5 1115.6 L1248.0 1117.5 L1250.5 1119.5 L1253.0 1120.9 L1255.5 1122.1 L1258.0 1124.5 L1260.5 1127.4 L1263.0 1129.0 L1265.5 1129.7 L1268.0 1131.3 L1270.5 1133.4 L1273.0 1135.1 L1275.5 1136.8 L1278.0 1138.6 L1280.5 1139.7 L1283.0 1140.7 L1285.5 1143.3 L1288.0 1146.5 L1290.5 1148.6 L1293.0 1149.9 L1295.5 1152.0 L1298.0 1154.4 L1300.5 1156.6 L1303.0 1159.0 L1305.5 1161.6 L1308.0 1163.6 L1310.5 1165.5 L1313.0 1168.9 L1315.5 1172.8 L1318.0 1175.4 L1320.5 1177.3 L1323.0 1180.3 L1325.5 1184.4 L1328.0 1189.0 L1330.5 1194.6 L1333.0 1200.4 L1335.5 1205.1 L1338.0 1209.4 L1340.5 1215.1 L1343.0 1221.5 L1345.5 1226.8 L1348.0 1231.6 L1350.5 1237.3 L1353.0 1243.2 L1355.5 1248.9 L1358.0 1254.9 L1360.5 1260.4 L1363.0 1264.5 L1365.5 1268.3 L1368.0 1273.4 L1370.5 1279.1 L1373.0 1283.6 L1375.5 1287.2 L1378.0 1291.0 L1380.5 1294.4 L1383.0 1297.7 L1385.5 1301.6 L1388.0 1305.8 L1390.5 1309.0 L1393.0 1312.2 L1395.5 1316.8 L1398.0 1321.9 L1400.5 1326.3 L1403.0 1330.5 L1405.5 1334.9 L1408.0 1338.8 L1410.5 1342.4 L1413.0 1346.5 L1415.5 1350.6 L1418.0 1353.7 L1420.5 1356.5 L1423.0 1360.3 L1425.5 1364.2 L1428.0 1367.1 L1430.5 1369.7 L1433.0 1372.6 L1435.5 1375.1 L1438.0 1377.4 L1440.5 1380.5 L1443.0 1383.8 L1445.5 1386.0 L1448.0 1387.9 L1450.5 1390.2 L1453.0 1392.4 L1455.5 1393.9 L1458.0 1395.7 L1460.5 1398.1 L1463.0 1400.4 L1465.5 1402.3 L1468.0 1404.6 L1470.5 1406.8 L1473.0 1408.1 L1475.5 1409.6 L1478.0 1411.9 L1480.5 1414.4 L1483.0 1416.4 L1485.5 1418.6 L1488.0 1421.2 L1490.5 1423.2 L1493.0 1425.0 L1495.5 1427.2 L1498.0 1429.5 L1500.5 1431.6 L1503.0 1434.1 L1505.5 1437.5 L1508.0 1440.6 L1510.5 1443.0 L1513.0 1445.6 L1515.5 1448.7 L1518.0 1451.6 L1520.5 1454.3 L1523.0 1457.2 L1525.5 1459.8 L1528.0 1462.0 L1530.5 1464.5 L1533.0 1467.6 L1535.5 1470.3 L1538.0 1472.3 L1540.5 1474.5 L1543.0 1477.1 L1545.5 1479.5 L1548.0 1481.8 L1550.5 1484.5 L1553.0 1486.9 L1555.5 1488.9 L1558.0 1491.3 L1560.5 1494.1 L1563.0 1496.4 L1565.5 1498.1 L1568.0 1500.0 L1570.5 1502.2 L1573.0 1504.4 L1575.5 1506.7 L1578.0 1509.0 L1580.5 1510.8 L1583.0 1512.2 L1585.5 1513.8 L1588.0 1516.0 L1590.5 1517.9 L1593.0 1519.4 L1595.5 1520.9 L1598.0 1522.6 L1600.5 1523.9 L1603.0 1525.3 L1605.5 1526.6 L1608.0 1527.6 L1610.5 1528.1 L1613.0 1529.2 L1615.5 1530.7 L1618.0 1532.0 L1620.5 1532.8 L1623.0 1533.7 L1625.5 1534.5 L1628.0 1535.3 L1630.5 1536.3 L1633.0 1537.6 L1635.5 1538.5 L1638.0 1539.0 L1640.5 1539.8 L1643.0 1541.0 L1645.5 1542.1 L1648.0 1542.9 L1650.5 1543.7 L1653.0 1544.6 L1655.5 1545.4 L1658.0 1546.5 L1660.5 1547.9 L1663.0 1548.9 L1665.5 1549.7 L1668.0 1550.7 L1670.5 1552.0 L1673.0 1553.2 L1675.5 1554.1 L1678.0 1555.1 L1680.5 1556.1 L1683.0 1557.0 L1685.5 1558.2 L1688.0 1559.6 L1690.5 1560.7 L1693.0 1561.4 L1695.5 1562.2 L1698.0 1563.3 L1700.5 1564.2 L1703.0 1565.1 L1705.5 1566.2 L1708.0 1567.2 L1710.5 1568.1 L1713.0 1569.1 L1715.5 1570.3 L1718.0 1571.1 L1720.5 1571.7 L1723.0 1572.5 L1725.5 1573.7 L1728.0 1574.7 L1730.5 1575.7 L1733.0 1576.7 L1735.5 1577.5 L1738.0 1578.0 L1740.5 1578.8 L1743.0 1579.8 L1745.5 1580.6 L1748.0 1581.2 L1750.5 1582.0 L1753.0 1582.9 L1755.5 1583.5 L1758.0 1584.0 L1760.5 1584.6 L1763.0 1585.1 L1765.5 1585.5 L1768.0 1586.0 L1770.5 1586.8 L1773.0 1587.3 L1775.5 1587.6 L1778.0 1588.2 L1780.5 1588.8 L1783.0 1589.2 L1785.5 1589.7 L1788.0 1590.3 L1790.5 1590.9 L1793.0 1591.4 L1795.5 1592.1 L1798.0 1593.0 L1800.5 1593.8 L1803.0 1594.4 L1805.5 1595.4 L1808.0 1596.3 L1810.5 1597.0 L1813.0 1597.7 L1815.5 1598.7 L1818.0 1599.7 L1820.5 1600.4 L1823.0 1601.3 L1825.5 1602.1 L1828.0 1602.4 L1830.5 1602.6 L1833.0 1603.2 L1835.5 1603.8 L1838.0 1604.2 L1840.5 1604.6 L1843.0 1605.2 L1845.5 1605.5 L1848.0 1605.7 L1850.5 1606.1 L1853.0 1606.5 L1855.5 1606.6 L1858.0 1606.8 L1860.5 1607.4 L1863.0 1608.1 L1865.5 1608.4 L1868.0 1608.5 L1870.5 1608.9 L1873.0 1609.1 L1875.5 1609.5 L1878.0 1610.2 L1880.5 1611.0 L1883.0 1611.3 L1885.5 1611.7 L1888.0 1612.5 L1890.5 1613.4 L1893.0 1613.9 L1895.5 1614.4 L1898.0 1615.0 L1900.5 1615.6 L1903.0 1616.2 L1905.5 1617.0 L1908.0 1617.7 L1910.5 1618.0 L1913.0 1618.2 L1915.5 1618.7 L1918.0 1619.2 L1920.5 1619.4 L1923.0 1619.5 L1925.5 1619.6 L1928.0 1619.6 L1930.5 1619.8 L1933.0 1620.3 L1935.5 1620.6 L1938.0 1620.3 L1940.5 1620.1 L1943.0 1620.2 L1945.5 1620.4 L1948.0 1620.6 L1950.5 1620.7 L1953.0 1620.9 L1955.5 1620.8 L1958.0 1620.8 L1960.5 1621.1 L1963.0 1621.3 L1965.5 1621.1 L1968.0 1621.0 L1970.5 1621.3 L1973.0 1621.8 L1975.5 1622.0 L1978.0 1622.3 L1980.5 1622.4 L1983.0 1622.2 L1985.5 1622.3 L1988.0 1622.8 L1990.5 1623.4 L1993.0 1623.5 L1995.5 1623.6 L1998.0 1623.9 L2000.5 1624.2 L2003.0 1624.4 L2005.5 1624.7 L2008.0 1625.0 L2010.5 1625.0 L2013.0 1625.2 L2015.5 1625.9 L2018.0 1626.4 L2020.5 1626.5 L2023.0 1626.6 L2025.5 1626.9 L2028.0 1627.2 L2030.5 1627.5 L2033.0 1628.0 L2035.5 1628.4 L2038.0 1628.5 L2040.5 1628.7 L2043.0 1629.3" stroke="#1e9a4c" stroke-width="4.8" fill="none" stroke-linejoin="round" stroke-linecap="round"/>
<path d="M413.0 1598.2 L415.5 1596.9 L418.0 1595.1 L420.5 1592.6 L423.0 1590.0 L425.5 1587.5 L428.0 1585.0 L430.5 1582.5 L433.0 1580.1 L435.5 1577.8 L438.0 1575.6 L440.5 1573.3 L443.0 1571.0 L445.5 1569.0 L448.0 1567.3 L450.5 1565.7 L453.0 1564.0 L455.5 1562.3 L458.0 1560.8 L460.5 1559.6 L463.0 1558.5 L465.5 1557.4 L468.0 1556.2 L470.5 1555.0 L473.0 1554.0 L475.5 1553.0 L478.0 1551.9 L480.5 1550.5 L483.0 1549.1 L485.5 1547.7 L488.0 1546.5 L490.5 1545.4 L493.0 1544.1 L495.5 1542.8 L498.0 1541.6 L500.5 1540.4 L503.0 1539.3 L505.5 1538.1 L508.0 1536.9 L510.5 1535.9 L513.0 1534.9 L515.5 1533.8 L518.0 1532.5 L520.5 1531.0 L523.0 1529.7 L525.5 1528.5 L528.0 1527.1 L530.5 1525.4 L533.0 1523.5 L535.5 1521.6 L538.0 1520.0 L540.5 1518.4 L543.0 1516.6 L545.5 1514.5 L548.0 1512.3 L550.5 1510.2 L553.0 1508.3 L555.5 1506.3 L558.0 1504.2 L560.5 1502.0 L563.0 1500.0 L565.5 1498.1 L568.0 1496.1 L570.5 1493.9 L573.0 1491.5 L575.5 1489.1 L578.0 1486.7 L580.5 1483.9 L583.0 1480.9 L585.5 1477.9 L588.0 1475.1 L590.5 1472.5 L593.0 1469.7 L595.5 1466.4 L598.0 1462.8 L600.5 1459.4 L603.0 1456.3 L605.5 1453.1 L608.0 1449.5 L610.5 1445.5 L613.0 1441.4 L615.5 1437.4 L618.0 1433.3 L620.5 1428.8 L623.0 1424.0 L625.5 1419.1 L628.0 1414.3 L630.5 1409.5 L633.0 1404.4 L635.5 1399.1 L638.0 1393.9 L640.5 1389.1 L643.0 1384.6 L645.5 1380.0 L648.0 1375.1 L650.5 1370.2 L653.0 1365.6 L655.5 1361.0 L658.0 1356.0 L660.5 1350.6 L663.0 1345.6 L665.5 1341.3 L668.0 1337.4 L670.5 1333.0 L673.0 1327.7 L675.5 1321.9 L678.0 1316.7 L680.5 1312.2 L683.0 1307.9 L685.5 1303.2 L688.0 1298.1 L690.5 1293.0 L693.0 1288.3 L695.5 1283.7 L698.0 1279.0 L700.5 1274.2 L703.0 1269.4 L705.5 1264.7 L708.0 1259.9 L710.5 1254.6 L713.0 1249.1 L715.5 1244.0 L718.0 1239.5 L720.5 1235.0 L723.0 1229.8 L725.5 1223.9 L728.0 1217.7 L730.5 1211.7 L733.0 1205.8 L735.5 1199.6 L738.0 1193.1 L740.5 1186.8 L743.0 1181.2 L745.5 1176.1 L748.0 1170.8 L750.5 1164.9 L753.0 1158.8 L755.5 1153.2 L758.0 1148.2 L760.5 1143.2 L763.0 1137.6 L765.5 1131.7 L768.0 1125.9 L770.5 1120.5 L773.0 1115.3 L775.5 1109.7 L778.0 1103.6 L780.5 1097.3 L783.0 1090.4 L785.5 1082.8 L788.0 1074.6 L790.5 1066.3 L793.0 1058.9 L795.5 1052.4 L798.0 1046.3 L800.5 1039.6 L803.0 1032.3 L805.5 1025.1 L808.0 1018.3 L810.5 1011.6 L813.0 1004.3 L815.5 995.9 L818.0 987.0 L820.5 978.2 L823.0 969.7 L825.5 960.0 L828.0 950.1 L830.5 941.3 L833.0 934.9 L835.5 929.8 L838.0 925.0 L840.5 919.6 L843.0 913.9 L845.5 908.5 L848.0 903.5 L850.5 898.6 L853.0 893.3 L855.5 887.6 L858.0 881.5 L860.5 874.7 L863.0 867.0 L865.5 858.4 L868.0 849.3 L870.5 838.6 L873.0 827.3 L875.5 817.1 L878.0 807.6 L880.5 798.1 L883.0 788.1 L885.5 777.2 L888.0 765.3 L890.5 753.9 L893.0 744.2 L895.5 735.5 L898.0 727.7 L900.5 720.9 L903.0 715.6 L905.5 710.8 L908.0 706.9 L910.5 705.1 L913.0 706.0 L915.5 709.7 L918.0 715.2 L920.5 721.5 L923.0 729.3 L925.5 738.4 L928.0 748.2 L930.5 759.0 L933.0 770.7 L935.5 782.3 L938.0 793.2 L940.5 803.4 L943.0 813.3 L945.5 823.2 L948.0 833.6 L950.5 844.3 L953.0 855.3 L955.5 865.5 L958.0 872.0 L960.5 876.7 L963.0 880.1 L965.5 882.9 L968.0 885.3 L970.5 887.0 L973.0 888.6 L975.5 890.2 L978.0 891.8 L980.5 893.1 L983.0 894.3 L985.5 895.7 L988.0 897.7 L990.5 899.3 L993.0 900.2 L995.5 900.5 L998.0 901.0 L1000.5 902.2 L1003.0 904.1 L1005.5 906.1 L1008.0 908.3 L1010.5 910.8 L1013.0 914.0 L1015.5 917.8 L1018.0 921.6 L1020.5 925.0 L1023.0 928.3 L1025.5 932.1 L1028.0 936.6 L1030.5 941.5 L1033.0 946.1 L1035.5 950.3 L1038.0 954.4 L1040.5 958.8 L1043.0 963.4 L1045.5 967.7 L1048.0 972.1 L1050.5 976.9 L1053.0 982.3 L1055.5 987.8 L1058.0 993.5 L1060.5 1000.1 L1063.0 1007.2 L1065.5 1014.0 L1068.0 1019.3 L1070.5 1023.2 L1073.0 1026.2 L1075.5 1029.0 L1078.0 1032.4 L1080.5 1036.1 L1083.0 1039.5 L1085.5 1042.0 L1088.0 1044.1 L1090.5 1046.3 L1093.0 1048.7 L1095.5 1051.0 L1098.0 1052.7 L1100.5 1054.0 L1103.0 1055.3 L1105.5 1056.9 L1108.0 1058.1 L1110.5 1058.7 L1113.0 1058.9 L1115.5 1059.5 L1118.0 1060.7 L1120.5 1062.2 L1123.0 1063.6 L1125.5 1064.9 L1128.0 1066.3 L1130.5 1067.9 L1133.0 1069.5 L1135.5 1070.8 L1138.0 1071.9 L1140.5 1073.4 L1143.0 1075.5 L1145.5 1077.5 L1148.0 1079.0 L1150.5 1080.1 L1153.0 1081.6 L1155.5 1084.1 L1158.0 1087.3 L1160.5 1090.1 L1163.0 1092.0 L1165.5 1093.4 L1168.0 1094.8 L1170.5 1096.7 L1173.0 1098.7 L1175.5 1100.2 L1178.0 1101.2 L1180.5 1102.0 L1183.0 1102.6 L1185.5 1102.8 L1188.0 1102.7 L1190.5 1102.7 L1193.0 1103.6 L1195.5 1105.4 L1198.0 1107.4 L1200.5 1109.2 L1203.0 1111.1 L1205.5 1113.4 L1208.0 1116.4 L1210.5 1119.3 L1213.0 1121.4 L1215.5 1123.0 L1218.0 1124.7 L1220.5 1126.9 L1223.0 1129.1 L1225.5 1130.9 L1228.0 1132.4 L1230.5 1134.0 L1233.0 1136.4 L1235.5 1139.0 L1238.0 1141.3 L1240.5 1142.8 L1243.0 1144.0 L1245.5 1145.4 L1248.0 1147.1 L1250.5 1148.9 L1253.0 1150.4 L1255.5 1151.8 L1258.0 1153.3 L1260.5 1154.8 L1263.0 1155.9 L1265.5 1156.9 L1268.0 1158.1 L1270.5 1160.0 L1273.0 1162.2 L1275.5 1164.1 L1278.0 1165.5 L1280.5 1166.9 L1283.0 1168.9 L1285.5 1171.8 L1288.0 1174.7 L1290.5 1177.1 L1293.0 1179.1 L1295.5 1181.3 L1298.0 1184.4 L1300.5 1188.1 L1303.0 1191.7 L1305.5 1195.2 L1308.0 1198.8 L1310.5 1202.8 L1313.0 1207.0 L1315.5 1210.8 L1318.0 1214.1 L1320.5 1217.5 L1323.0 1221.1 L1325.5 1225.1 L1328.0 1229.0 L1330.5 1232.8 L1333.0 1236.8 L1335.5 1241.4 L1338.0 1246.1 L1340.5 1250.6 L1343.0 1254.6 L1345.5 1258.7 L1348.0 1263.4 L1350.5 1268.6 L1353.0 1273.7 L1355.5 1278.2 L1358.0 1282.3 L1360.5 1286.8 L1363.0 1291.8 L1365.5 1296.7 L1368.0 1300.9 L1370.5 1304.7 L1373.0 1308.4 L1375.5 1312.6 L1378.0 1316.8 L1380.5 1320.8 L1383.0 1324.5 L1385.5 1328.1 L1388.0 1332.1 L1390.5 1336.1 L1393.0 1339.8 L1395.5 1343.2 L1398.0 1346.6 L1400.5 1350.4 L1403.0 1354.2 L1405.5 1357.6 L1408.0 1360.7 L1410.5 1363.9 L1413.0 1367.2 L1415.5 1370.4 L1418.0 1373.0 L1420.5 1374.9 L1423.0 1376.8 L1425.5 1379.3 L1428.0 1382.3 L1430.5 1385.2 L1433.0 1387.4 L1435.5 1389.2 L1438.0 1391.2 L1440.5 1393.6 L1443.0 1396.1 L1445.5 1398.2 L1448.0 1400.1 L1450.5 1402.1 L1453.0 1404.2 L1455.5 1406.4 L1458.0 1408.4 L1460.5 1410.5 L1463.0 1412.8 L1465.5 1415.5 L1468.0 1418.0 L1470.5 1420.1 L1473.0 1421.8 L1475.5 1423.9 L1478.0 1426.4 L1480.5 1429.2 L1483.0 1431.7 L1485.5 1433.9 L1488.0 1436.1 L1490.5 1438.6 L1493.0 1441.2 L1495.5 1443.4 L1498.0 1445.3 L1500.5 1447.3 L1503.0 1449.8 L1505.5 1452.7 L1508.0 1455.6 L1510.5 1458.1 L1513.0 1460.4 L1515.5 1462.9 L1518.0 1465.7 L1520.5 1468.5 L1523.0 1471.0 L1525.5 1473.2 L1528.0 1475.4 L1530.5 1477.6 L1533.0 1479.8 L1535.5 1481.9 L1538.0 1484.1 L1540.5 1486.6 L1543.0 1489.1 L1545.5 1491.4 L1548.0 1493.3 L1550.5 1495.0 L1553.0 1497.0 L1555.5 1499.4 L1558.0 1501.9 L1560.5 1504.2 L1563.0 1506.1 L1565.5 1507.9 L1568.0 1509.9 L1570.5 1512.0 L1573.0 1513.9 L1575.5 1515.6 L1578.0 1517.3 L1580.5 1519.1 L1583.0 1521.0 L1585.5 1522.7 L1588.0 1524.3 L1590.5 1525.9 L1593.0 1527.5 L1595.5 1529.1 L1598.0 1530.6 L1600.5 1531.7 L1603.0 1532.8 L1605.5 1533.8 L1608.0 1535.0 L1610.5 1536.0 L1613.0 1537.0 L1615.5 1538.0 L1618.0 1539.0 L1620.5 1540.1 L1623.0 1541.1 L1625.5 1541.8 L1628.0 1542.5 L1630.5 1543.3 L1633.0 1544.3 L1635.5 1545.4 L1638.0 1546.4 L1640.5 1547.0 L1643.0 1547.7 L1645.5 1548.6 L1648.0 1549.6 L1650.5 1550.5 L1653.0 1551.4 L1655.5 1552.3 L1658.0 1553.2 L1660.5 1554.2 L1663.0 1555.1 L1665.5 1556.1 L1668.0 1557.1 L1670.5 1558.2 L1673.0 1559.4 L1675.5 1560.3 L1678.0 1561.2 L1680.5 1562.0 L1683.0 1563.0 L1685.5 1564.2 L1688.0 1565.3 L1690.5 1566.2 L1693.0 1567.0 L1695.5 1568.0 L1698.0 1569.0 L1700.5 1570.0 L1703.0 1570.8 L1705.5 1571.5 L1708.0 1572.4 L1710.5 1573.4 L1713.0 1574.5 L1715.5 1575.5 L1718.0 1576.3 L1720.5 1577.2 L1723.0 1578.1 L1725.5 1579.1 L1728.0 1580.0 L1730.5 1580.8 L1733.0 1581.6 L1735.5 1582.5 L1738.0 1583.3 L1740.5 1584.1 L1743.0 1584.8 L1745.5 1585.6 L1748.0 1586.4 L1750.5 1587.2 L1753.0 1587.8 L1755.5 1588.1 L1758.0 1588.5 L1760.5 1589.1 L1763.0 1589.8 L1765.5 1590.4 L1768.0 1590.7 L1770.5 1591.1 L1773.0 1591.5 L1775.5 1592.1 L1778.0 1592.6 L1780.5 1593.0 L1783.0 1593.3 L1785.5 1593.7 L1788.0 1594.2 L1790.5 1594.9 L1793.0 1595.5 L1795.5 1596.1 L1798.0 1596.7 L1800.5 1597.5 L1803.0 1598.2 L1805.5 1598.9 L1808.0 1599.6 L1810.5 1600.4 L1813.0 1601.4 L1815.5 1602.3 L1818.0 1603.0 L1820.5 1603.5 L1823.0 1604.1 L1825.5 1604.9 L1828.0 1605.6 L1830.5 1606.1 L1833.0 1606.3 L1835.5 1606.5 L1838.0 1606.9 L1840.5 1607.4 L1843.0 1607.9 L1845.5 1608.2 L1848.0 1608.5 L1850.5 1608.8 L1853.0 1609.1 L1855.5 1609.4 L1858.0 1609.6 L1860.5 1609.8 L1863.0 1610.1 L1865.5 1610.5 L1868.0 1611.0 L1870.5 1611.4 L1873.0 1611.7 L1875.5 1612.0 L1878.0 1612.5 L1880.5 1613.0 L1883.0 1613.4 L1885.5 1613.9 L1888.0 1614.5 L1890.5 1615.2 L1893.0 1615.9 L1895.5 1616.4 L1898.0 1616.8 L1900.5 1617.4 L1903.0 1618.1 L1905.5 1618.8 L1908.0 1619.3 L1910.5 1619.6 L1913.0 1619.7 L1915.5 1620.1 L1918.0 1620.5 L1920.5 1621.0 L1923.0 1621.2 L1925.5 1621.3 L1928.0 1621.4 L1930.5 1621.5 L1933.0 1621.5 L1935.5 1621.5 L1938.0 1621.6 L1940.5 1621.7 L1943.0 1622.0 L1945.5 1622.1 L1948.0 1622.1 L1950.5 1622.0 L1953.0 1622.1 L1955.5 1622.3 L1958.0 1622.5 L1960.5 1622.5 L1963.0 1622.5 L1965.5 1622.5 L1968.0 1622.8 L1970.5 1623.0 L1973.0 1623.2 L1975.5 1623.3 L1978.0 1623.4 L1980.5 1623.8 L1983.0 1624.1 L1985.5 1624.3 L1988.0 1624.3 L1990.5 1624.4 L1993.0 1624.6 L1995.5 1625.1 L1998.0 1625.5 L2000.5 1625.7 L2003.0 1625.9 L2005.5 1626.1 L2008.0 1626.3 L2010.5 1626.5 L2013.0 1626.7 L2015.5 1627.0 L2018.0 1627.4 L2020.5 1627.9 L2023.0 1628.1 L2025.5 1628.3 L2028.0 1628.4 L2030.5 1628.8 L2033.0 1629.3 L2035.5 1629.7 L2038.0 1629.9 L2040.5 1630.0 L2043.0 1630.2" stroke="#b64cc6" stroke-width="4.8" fill="none" stroke-linejoin="round" stroke-linecap="round"/>
<path d="M413.0 1608.8 L415.5 1607.8 L418.0 1606.1 L420.5 1604.0 L423.0 1602.0 L425.5 1599.7 L428.0 1597.4 L430.5 1595.5 L433.0 1593.5 L435.5 1591.4 L438.0 1589.4 L440.5 1587.7 L443.0 1585.9 L445.5 1584.2 L448.0 1582.7 L450.5 1581.4 L453.0 1579.8 L455.5 1578.4 L458.0 1577.3 L460.5 1576.3 L463.0 1575.1 L465.5 1574.2 L468.0 1573.4 L470.5 1572.3 L473.0 1571.0 L475.5 1570.0 L478.0 1569.0 L480.5 1567.8 L483.0 1566.8 L485.5 1566.0 L488.0 1565.1 L490.5 1564.0 L493.0 1563.1 L495.5 1562.3 L498.0 1561.3 L500.5 1560.3 L503.0 1559.5 L505.5 1558.8 L508.0 1557.8 L510.5 1557.0 L513.0 1556.4 L515.5 1555.7 L518.0 1554.7 L520.5 1553.8 L523.0 1552.9 L525.5 1551.6 L528.0 1550.0 L530.5 1548.7 L533.0 1547.3 L535.5 1545.7 L538.0 1544.1 L540.5 1542.8 L543.0 1541.1 L545.5 1539.1 L548.0 1537.2 L550.5 1535.3 L553.0 1533.1 L555.5 1530.8 L558.0 1528.9 L560.5 1527.1 L563.0 1524.9 L565.5 1522.9 L568.0 1521.2 L570.5 1519.1 L573.0 1516.5 L575.5 1514.0 L578.0 1511.5 L580.5 1508.4 L583.0 1505.1 L585.5 1502.3 L588.0 1499.4 L590.5 1496.2 L593.0 1493.3 L595.5 1490.6 L598.0 1487.3 L600.5 1483.6 L603.0 1480.3 L605.5 1477.0 L608.0 1473.2 L610.5 1469.5 L613.0 1466.1 L615.5 1462.5 L618.0 1458.2 L620.5 1454.1 L623.0 1450.3 L625.5 1446.0 L628.0 1441.2 L630.5 1436.8 L633.0 1432.4 L635.5 1427.3 L638.0 1422.5 L640.5 1418.5 L643.0 1414.4 L645.5 1409.9 L648.0 1405.9 L650.5 1402.1 L653.0 1397.6 L655.5 1392.6 L658.0 1388.3 L660.5 1384.1 L663.0 1379.2 L665.5 1374.7 L668.0 1370.8 L670.5 1366.4 L673.0 1361.2 L675.5 1356.5 L678.0 1352.2 L680.5 1347.0 L683.0 1341.6 L685.5 1337.0 L688.0 1332.3 L690.5 1326.7 L693.0 1321.4 L695.5 1317.0 L698.0 1312.2 L700.5 1306.7 L703.0 1302.0 L705.5 1297.6 L708.0 1292.2 L710.5 1286.6 L713.0 1281.9 L715.5 1277.1 L718.0 1271.3 L720.5 1265.9 L723.0 1261.0 L725.5 1255.2 L728.0 1248.4 L730.5 1242.3 L733.0 1236.4 L735.5 1229.7 L738.0 1223.1 L740.5 1217.3 L743.0 1211.3 L745.5 1204.5 L748.0 1198.2 L750.5 1192.8 L753.0 1186.8 L755.5 1180.4 L758.0 1175.0 L760.5 1169.7 L763.0 1163.4 L765.5 1157.1 L768.0 1151.8 L770.5 1146.2 L773.0 1139.6 L775.5 1133.3 L778.0 1127.3 L780.5 1120.1 L783.0 1112.1 L785.5 1104.8 L788.0 1097.6 L790.5 1089.6 L793.0 1081.8 L795.5 1074.9 L798.0 1067.8 L800.5 1060.0 L803.0 1053.0 L805.5 1046.6 L808.0 1039.5 L810.5 1032.0 L813.0 1024.9 L815.5 1017.3 L818.0 1008.2 L820.5 999.0 L823.0 990.3 L825.5 980.1 L828.0 969.1 L830.5 960.1 L833.0 953.5 L835.5 947.3 L838.0 941.4 L840.5 936.3 L843.0 931.1 L845.5 924.9 L848.0 918.5 L850.5 912.2 L853.0 905.1 L855.5 897.5 L858.0 890.5 L860.5 883.4 L863.0 875.5 L865.5 867.3 L868.0 859.2 L870.5 849.4 L873.0 838.5 L875.5 829.0 L878.0 820.8 L880.5 812.7 L883.0 803.8 L885.5 793.3 L888.0 780.5 L890.5 766.8 L893.0 753.7 L895.5 741.0 L898.0 728.6 L900.5 717.4 L903.0 707.9 L905.5 699.5 L908.0 693.1 L910.5 690.1 L913.0 691.0 L915.5 694.6 L918.0 700.0 L920.5 706.3 L923.0 713.9 L925.5 723.0 L928.0 732.8 L930.5 743.6 L933.0 755.5 L935.5 767.3 L938.0 778.5 L940.5 788.7 L943.0 798.8 L945.5 809.0 L948.0 819.5 L950.5 830.5 L953.0 841.7 L955.5 852.0 L958.0 859.1 L960.5 864.9 L963.0 868.7 L965.5 871.8 L968.0 875.4 L970.5 879.2 L973.0 882.1 L975.5 885.1 L978.0 888.7 L980.5 891.5 L983.0 893.6 L985.5 896.7 L988.0 900.7 L990.5 904.5 L993.0 908.4 L995.5 913.6 L998.0 918.9 L1000.5 923.2 L1003.0 927.8 L1005.5 932.9 L1008.0 937.2 L1010.5 940.7 L1013.0 944.8 L1015.5 949.5 L1018.0 953.3 L1020.5 957.2 L1023.0 962.2 L1025.5 967.2 L1028.0 971.4 L1030.5 975.7 L1033.0 980.4 L1035.5 984.1 L1038.0 986.8 L1040.5 990.2 L1043.0 993.6 L1045.5 995.9 L1048.0 998.1 L1050.5 1001.1 L1053.0 1003.9 L1055.5 1006.0 L1058.0 1009.2 L1060.5 1014.5 L1063.0 1019.5 L1065.5 1023.6 L1068.0 1027.4 L1070.5 1031.1 L1073.0 1033.7 L1075.5 1036.0 L1078.0 1039.0 L1080.5 1041.6 L1083.0 1043.4 L1085.5 1045.7 L1088.0 1048.5 L1090.5 1050.4 L1093.0 1051.9 L1095.5 1054.3 L1098.0 1056.9 L1100.5 1058.6 L1103.0 1060.4 L1105.5 1063.1 L1108.0 1065.3 L1110.5 1066.8 L1113.0 1069.0 L1115.5 1071.8 L1118.0 1073.8 L1120.5 1075.2 L1123.0 1077.3 L1125.5 1079.0 L1128.0 1079.5 L1130.5 1080.1 L1133.0 1081.7 L1135.5 1083.0 L1138.0 1083.7 L1140.5 1085.3 L1143.0 1087.4 L1145.5 1088.6 L1148.0 1089.5 L1150.5 1091.4 L1153.0 1093.4 L1155.5 1094.4 L1158.0 1095.8 L1160.5 1098.1 L1163.0 1099.8 L1165.5 1101.1 L1168.0 1103.2 L1170.5 1105.9 L1173.0 1107.5 L1175.5 1109.5 L1178.0 1113.1 L1180.5 1116.6 L1183.0 1118.9 L1185.5 1121.0 L1188.0 1123.0 L1190.5 1124.4 L1193.0 1125.5 L1195.5 1127.4 L1198.0 1129.7 L1200.5 1130.9 L1203.0 1131.9 L1205.5 1133.8 L1208.0 1135.6 L1210.5 1136.5 L1213.0 1138.2 L1215.5 1140.5 L1218.0 1142.1 L1220.5 1143.2 L1223.0 1145.1 L1225.5 1147.2 L1228.0 1148.1 L1230.5 1148.9 L1233.0 1150.5 L1235.5 1151.7 L1238.0 1152.4 L1240.5 1154.2 L1243.0 1157.1 L1245.5 1159.6 L1248.0 1161.8 L1250.5 1164.7 L1253.0 1167.5 L1255.5 1168.9 L1258.0 1170.2 L1260.5 1172.2 L1263.0 1173.9 L1265.5 1174.9 L1268.0 1176.9 L1270.5 1179.7 L1273.0 1182.0 L1275.5 1184.1 L1278.0 1187.3 L1280.5 1190.5 L1283.0 1192.7 L1285.5 1194.8 L1288.0 1197.7 L1290.5 1200.1 L1293.0 1201.8 L1295.5 1204.6 L1298.0 1208.3 L1300.5 1211.3 L1303.0 1214.1 L1305.5 1217.6 L1308.0 1220.7 L1310.5 1222.6 L1313.0 1224.6 L1315.5 1227.6 L1318.0 1230.3 L1320.5 1232.6 L1323.0 1235.9 L1325.5 1239.8 L1328.0 1242.9 L1330.5 1245.8 L1333.0 1249.7 L1335.5 1253.4 L1338.0 1256.3 L1340.5 1259.5 L1343.0 1263.6 L1345.5 1267.3 L1348.0 1270.6 L1350.5 1275.0 L1353.0 1279.9 L1355.5 1283.9 L1358.0 1287.6 L1360.5 1291.9 L1363.0 1295.6 L1365.5 1298.3 L1368.0 1301.5 L1370.5 1305.7 L1373.0 1309.3 L1375.5 1312.7 L1378.0 1316.9 L1380.5 1321.4 L1383.0 1324.8 L1385.5 1328.1 L1388.0 1332.3 L1390.5 1336.3 L1393.0 1339.5 L1395.5 1343.4 L1398.0 1347.8 L1400.5 1351.6 L1403.0 1355.0 L1405.5 1359.2 L1408.0 1363.6 L1410.5 1366.8 L1413.0 1369.8 L1415.5 1373.3 L1418.0 1376.2 L1420.5 1378.4 L1423.0 1381.1 L1425.5 1384.4 L1428.0 1387.1 L1430.5 1389.4 L1433.0 1392.3 L1435.5 1395.1 L1438.0 1397.0 L1440.5 1399.0 L1443.0 1401.7 L1445.5 1404.0 L1448.0 1405.7 L1450.5 1407.9 L1453.0 1410.3 L1455.5 1412.1 L1458.0 1413.8 L1460.5 1416.2 L1463.0 1418.7 L1465.5 1420.6 L1468.0 1422.8 L1470.5 1425.5 L1473.0 1427.9 L1475.5 1429.7 L1478.0 1432.2 L1480.5 1435.0 L1483.0 1437.1 L1485.5 1439.1 L1488.0 1441.6 L1490.5 1444.0 L1493.0 1445.9 L1495.5 1448.1 L1498.0 1450.9 L1500.5 1453.3 L1503.0 1455.4 L1505.5 1458.0 L1508.0 1460.7 L1510.5 1462.8 L1513.0 1464.9 L1515.5 1467.7 L1518.0 1470.4 L1520.5 1472.7 L1523.0 1475.2 L1525.5 1477.9 L1528.0 1480.1 L1530.5 1481.9 L1533.0 1484.1 L1535.5 1486.4 L1538.0 1488.2 L1540.5 1490.1 L1543.0 1492.4 L1545.5 1494.7 L1548.0 1496.6 L1550.5 1498.8 L1553.0 1501.4 L1555.5 1503.5 L1558.0 1505.3 L1560.5 1507.4 L1563.0 1509.4 L1565.5 1511.0 L1568.0 1512.7 L1570.5 1514.8 L1573.0 1516.9 L1575.5 1518.6 L1578.0 1520.5 L1580.5 1522.6 L1583.0 1524.2 L1585.5 1525.5 L1588.0 1527.1 L1590.5 1528.7 L1593.0 1530.0 L1595.5 1531.3 L1598.0 1532.9 L1600.5 1534.3 L1603.0 1535.3 L1605.5 1536.6 L1608.0 1537.9 L1610.5 1538.9 L1613.0 1539.6 L1615.5 1540.5 L1618.0 1541.4 L1620.5 1542.0 L1623.0 1542.8 L1625.5 1544.1 L1628.0 1545.2 L1630.5 1546.0 L1633.0 1547.0 L1635.5 1548.0 L1638.0 1548.6 L1640.5 1549.2 L1643.0 1550.0 L1645.5 1550.9 L1648.0 1551.5 L1650.5 1552.4 L1653.0 1553.6 L1655.5 1554.6 L1658.0 1555.5 L1660.5 1556.5 L1663.0 1557.6 L1665.5 1558.4 L1668.0 1559.2 L1670.5 1560.2 L1673.0 1561.1 L1675.5 1561.9 L1678.0 1562.9 L1680.5 1564.3 L1683.0 1565.4 L1685.5 1566.3 L1688.0 1567.3 L1690.5 1568.3 L1693.0 1569.0 L1695.5 1569.7 L1698.0 1570.6 L1700.5 1571.6 L1703.0 1572.4 L1705.5 1573.4 L1708.0 1574.5 L1710.5 1575.5 L1713.0 1576.3 L1715.5 1577.3 L1718.0 1578.3 L1720.5 1579.0 L1723.0 1579.7 L1725.5 1580.7 L1728.0 1581.6 L1730.5 1582.4 L1733.0 1583.3 L1735.5 1584.4 L1738.0 1585.2 L1740.5 1585.9 L1743.0 1586.7 L1745.5 1587.4 L1748.0 1587.9 L1750.5 1588.4 L1753.0 1589.2 L1755.5 1589.8 L1758.0 1590.2 L1760.5 1590.8 L1763.0 1591.5 L1765.5 1591.9 L1768.0 1592.1 L1770.5 1592.6 L1773.0 1593.2 L1775.5 1593.4 L1778.0 1593.8 L1780.5 1594.4 L1783.0 1594.8 L1785.5 1595.1 L1788.0 1595.7 L1790.5 1596.4 L1793.0 1596.9 L1795.5 1597.3 L1798.0 1598.0 L1800.5 1598.7 L1803.0 1599.3 L1805.5 1600.0 L1808.0 1600.9 L1810.5 1601.8 L1813.0 1602.4 L1815.5 1603.2 L1818.0 1604.1 L1820.5 1604.6 L1823.0 1605.1 L1825.5 1605.9 L1828.0 1606.5 L1830.5 1606.8 L1833.0 1607.2 L1835.5 1607.8 L1838.0 1608.0 L1840.5 1608.2 L1843.0 1608.6 L1845.5 1609.0 L1848.0 1609.3 L1850.5 1609.5 L1853.0 1610.0 L1855.5 1610.3 L1858.0 1610.4 L1860.5 1610.7 L1863.0 1611.2 L1865.5 1611.4 L1868.0 1611.5 L1870.5 1611.9 L1873.0 1612.4 L1875.5 1612.7 L1878.0 1613.1 L1880.5 1613.8 L1883.0 1614.4 L1885.5 1614.8 L1888.0 1615.3 L1890.5 1615.9 L1893.0 1616.3 L1895.5 1616.7 L1898.0 1617.4 L1900.5 1618.1 L1903.0 1618.6 L1905.5 1619.2 L1908.0 1619.9 L1910.5 1620.4 L1913.0 1620.5 L1915.5 1620.8 L1918.0 1621.2 L1920.5 1621.3 L1923.0 1621.3 L1925.5 1621.6 L1928.0 1621.9 L1930.5 1621.9 L1933.0 1622.0 L1935.5 1622.4 L1938.0 1622.5 L1940.5 1622.4 L1943.0 1622.4 L1945.5 1622.5 L1948.0 1622.3 L1950.5 1622.3 L1953.0 1622.5 L1955.5 1622.9 L1958.0 1623.0 L1960.5 1623.1 L1963.0 1623.4 L1965.5 1623.4 L1968.0 1623.2 L1970.5 1623.3 L1973.0 1623.6 L1975.5 1623.6 L1978.0 1623.7 L1980.5 1624.2 L1983.0 1624.5 L1985.5 1624.7 L1988.0 1624.9 L1990.5 1625.4 L1993.0 1625.6 L1995.5 1625.5 L1998.0 1625.7 L2000.5 1626.0 L2003.0 1626.1 L2005.5 1626.2 L2008.0 1626.8 L2010.5 1627.3 L2013.0 1627.5 L2015.5 1627.8 L2018.0 1628.2 L2020.5 1628.3 L2023.0 1628.2 L2025.5 1628.5 L2028.0 1628.9 L2030.5 1629.2 L2033.0 1629.5 L2035.5 1630.0 L2038.0 1630.5 L2040.5 1630.6 L2043.0 1630.9" stroke="#3438b8" stroke-width="4.8" fill="none" stroke-linejoin="round" stroke-linecap="round"/>
<path d="M413.0 1600.4 L415.5 1598.9 L418.0 1597.1 L420.5 1594.7 L423.0 1592.2 L425.5 1589.9 L428.0 1587.5 L430.5 1585.3 L433.0 1583.0 L435.5 1580.7 L438.0 1578.3 L440.5 1576.0 L443.0 1573.9 L445.5 1572.1 L448.0 1570.3 L450.5 1568.7 L453.0 1567.2 L455.5 1565.8 L458.0 1564.4 L460.5 1562.9 L463.0 1561.6 L465.5 1560.5 L468.0 1559.5 L470.5 1558.6 L473.0 1557.6 L475.5 1556.4 L478.0 1555.3 L480.5 1554.1 L483.0 1552.8 L485.5 1551.3 L488.0 1550.0 L490.5 1548.9 L493.0 1547.9 L495.5 1546.8 L498.0 1545.7 L500.5 1544.5 L503.0 1543.4 L505.5 1542.3 L508.0 1541.2 L510.5 1540.0 L513.0 1539.0 L515.5 1538.0 L518.0 1536.9 L520.5 1535.7 L523.0 1534.4 L525.5 1533.0 L528.0 1531.6 L530.5 1530.1 L533.0 1528.5 L535.5 1526.7 L538.0 1524.9 L540.5 1523.1 L543.0 1521.2 L545.5 1519.2 L548.0 1517.1 L550.5 1515.2 L553.0 1513.4 L555.5 1511.5 L558.0 1509.4 L560.5 1507.2 L563.0 1505.1 L565.5 1503.0 L568.0 1500.8 L570.5 1498.6 L573.0 1496.3 L575.5 1494.0 L578.0 1491.6 L580.5 1488.9 L583.0 1486.0 L585.5 1482.9 L588.0 1479.9 L590.5 1476.9 L593.0 1473.9 L595.5 1470.7 L598.0 1467.6 L600.5 1464.4 L603.0 1461.2 L605.5 1457.7 L608.0 1454.0 L610.5 1450.5 L613.0 1446.9 L615.5 1443.3 L618.0 1439.3 L620.5 1435.0 L623.0 1430.6 L625.5 1426.1 L628.0 1421.4 L630.5 1416.5 L633.0 1411.7 L635.5 1407.4 L638.0 1403.5 L640.5 1399.5 L643.0 1395.2 L645.5 1390.6 L648.0 1386.0 L650.5 1381.4 L653.0 1376.8 L655.5 1372.3 L658.0 1368.1 L660.5 1364.2 L663.0 1360.4 L665.5 1356.2 L668.0 1351.5 L670.5 1346.6 L673.0 1341.8 L675.5 1337.1 L678.0 1332.3 L680.5 1327.6 L683.0 1322.9 L685.5 1318.5 L688.0 1313.8 L690.5 1308.8 L693.0 1303.6 L695.5 1298.6 L698.0 1294.1 L700.5 1289.6 L703.0 1285.1 L705.5 1280.4 L708.0 1275.8 L710.5 1271.2 L713.0 1266.3 L715.5 1261.2 L718.0 1256.1 L720.5 1251.3 L723.0 1246.7 L725.5 1241.9 L728.0 1236.6 L730.5 1230.9 L733.0 1225.2 L735.5 1219.4 L738.0 1213.4 L740.5 1207.4 L743.0 1201.7 L745.5 1196.5 L748.0 1191.5 L750.5 1186.3 L753.0 1181.0 L755.5 1175.7 L758.0 1170.7 L760.5 1165.6 L763.0 1160.2 L765.5 1154.6 L768.0 1149.0 L770.5 1143.5 L773.0 1137.7 L775.5 1131.5 L778.0 1124.9 L780.5 1118.3 L783.0 1111.4 L785.5 1104.1 L788.0 1096.0 L790.5 1087.4 L793.0 1078.7 L795.5 1070.3 L798.0 1062.0 L800.5 1053.8 L803.0 1045.9 L805.5 1038.1 L808.0 1029.4 L810.5 1018.8 L813.0 1006.4 L815.5 992.7 L818.0 978.4 L820.5 964.1 L823.0 949.9 L825.5 935.5 L828.0 922.2 L830.5 911.9 L833.0 905.0 L835.5 899.6 L838.0 895.0 L840.5 890.8 L843.0 887.4 L845.5 884.7 L848.0 881.9 L850.5 878.9 L853.0 875.8 L855.5 872.2 L858.0 867.5 L860.5 861.6 L863.0 854.8 L865.5 847.3 L868.0 839.1 L870.5 828.8 L873.0 817.2 L875.5 806.3 L878.0 796.0 L880.5 785.9 L883.0 775.2 L885.5 763.5 L888.0 750.9 L890.5 738.7 L893.0 728.3 L895.5 718.9 L898.0 710.4 L900.5 703.2 L903.0 697.4 L905.5 692.2 L908.0 688.1 L910.5 686.1 L913.0 687.1 L915.5 691.2 L918.0 697.1 L920.5 704.0 L923.0 712.2 L925.5 721.6 L928.0 731.5 L930.5 741.9 L933.0 753.0 L935.5 763.8 L938.0 773.8 L940.5 782.6 L943.0 791.0 L945.5 799.4 L948.0 808.2 L950.5 817.2 L953.0 826.2 L955.5 834.4 L958.0 838.9 L960.5 841.7 L963.0 843.4 L965.5 845.1 L968.0 847.1 L970.5 849.2 L973.0 851.3 L975.5 853.6 L978.0 856.0 L980.5 858.4 L983.0 860.5 L985.5 862.9 L988.0 865.9 L990.5 869.2 L993.0 872.4 L995.5 874.4 L998.0 875.6 L1000.5 876.1 L1003.0 876.2 L1005.5 875.9 L1008.0 875.8 L1010.5 876.5 L1013.0 878.6 L1015.5 881.5 L1018.0 884.2 L1020.5 886.7 L1023.0 889.1 L1025.5 891.6 L1028.0 894.1 L1030.5 896.7 L1033.0 899.5 L1035.5 903.0 L1038.0 907.1 L1040.5 911.4 L1043.0 915.5 L1045.5 919.6 L1048.0 924.0 L1050.5 929.0 L1053.0 934.2 L1055.5 939.9 L1058.0 946.5 L1060.5 954.5 L1063.0 961.6 L1065.5 966.6 L1068.0 968.9 L1070.5 969.8 L1073.0 970.5 L1075.5 971.4 L1078.0 972.6 L1080.5 974.3 L1083.0 976.4 L1085.5 978.6 L1088.0 980.6 L1090.5 982.1 L1093.0 983.4 L1095.5 984.8 L1098.0 986.6 L1100.5 988.7 L1103.0 990.7 L1105.5 992.4 L1108.0 994.0 L1110.5 995.5 L1113.0 996.7 L1115.5 997.4 L1118.0 998.0 L1120.5 998.8 L1123.0 999.9 L1125.5 1001.1 L1128.0 1001.9 L1130.5 1002.6 L1133.0 1003.2 L1135.5 1003.8 L1138.0 1004.2 L1140.5 1004.4 L1143.0 1004.6 L1145.5 1005.3 L1148.0 1006.3 L1150.5 1007.5 L1153.0 1008.6 L1155.5 1010.0 L1158.0 1012.0 L1160.5 1014.5 L1163.0 1017.0 L1165.5 1019.3 L1168.0 1021.5 L1170.5 1023.8 L1173.0 1025.9 L1175.5 1027.5 L1178.0 1028.9 L1180.5 1030.5 L1183.0 1032.3 L1185.5 1034.2 L1188.0 1035.8 L1190.5 1037.0 L1193.0 1038.1 L1195.5 1039.1 L1198.0 1039.9 L1200.5 1040.6 L1203.0 1041.3 L1205.5 1042.4 L1208.0 1043.8 L1210.5 1045.1 L1213.0 1046.0 L1215.5 1046.9 L1218.0 1048.1 L1220.5 1049.6 L1223.0 1050.9 L1225.5 1052.0 L1228.0 1053.1 L1230.5 1054.4 L1233.0 1055.6 L1235.5 1056.6 L1238.0 1057.4 L1240.5 1058.6 L1243.0 1060.4 L1245.5 1062.6 L1248.0 1064.9 L1250.5 1067.1 L1253.0 1069.1 L1255.5 1071.1 L1258.0 1072.7 L1260.5 1073.8 L1263.0 1074.8 L1265.5 1076.1 L1268.0 1078.0 L1270.5 1080.2 L1273.0 1082.4 L1275.5 1084.4 L1278.0 1086.4 L1280.5 1088.4 L1283.0 1090.3 L1285.5 1092.0 L1288.0 1093.9 L1290.5 1096.3 L1293.0 1099.0 L1295.5 1101.5 L1298.0 1103.5 L1300.5 1105.2 L1303.0 1106.9 L1305.5 1108.7 L1308.0 1110.5 L1310.5 1112.3 L1313.0 1114.3 L1315.5 1116.8 L1318.0 1119.5 L1320.5 1122.1 L1323.0 1124.3 L1325.5 1126.6 L1328.0 1129.3 L1330.5 1132.5 L1333.0 1135.8 L1335.5 1139.5 L1338.0 1143.6 L1340.5 1148.1 L1343.0 1152.7 L1345.5 1157.3 L1348.0 1161.9 L1350.5 1166.9 L1353.0 1172.4 L1355.5 1178.0 L1358.0 1183.5 L1360.5 1188.8 L1363.0 1194.2 L1365.5 1199.7 L1368.0 1205.1 L1370.5 1210.3 L1373.0 1215.4 L1375.5 1220.6 L1378.0 1226.0 L1380.5 1231.2 L1383.0 1236.1 L1385.5 1241.0 L1388.0 1246.1 L1390.5 1251.7 L1393.0 1257.5 L1395.5 1263.2 L1398.0 1268.8 L1400.5 1274.6 L1403.0 1280.1 L1405.5 1285.2 L1408.0 1290.0 L1410.5 1294.6 L1413.0 1299.5 L1415.5 1304.5 L1418.0 1309.5 L1420.5 1314.4 L1423.0 1319.2 L1425.5 1324.0 L1428.0 1328.5 L1430.5 1332.8 L1433.0 1336.9 L1435.5 1341.1 L1438.0 1345.6 L1440.5 1349.8 L1443.0 1353.4 L1445.5 1356.5 L1448.0 1359.2 L1450.5 1361.8 L1453.0 1364.3 L1455.5 1366.8 L1458.0 1369.3 L1460.5 1372.0 L1463.0 1374.8 L1465.5 1377.2 L1468.0 1379.1 L1470.5 1380.9 L1473.0 1383.0 L1475.5 1385.4 L1478.0 1387.9 L1480.5 1390.6 L1483.0 1393.4 L1485.5 1396.2 L1488.0 1398.9 L1490.5 1401.1 L1493.0 1403.1 L1495.5 1405.2 L1498.0 1407.7 L1500.5 1410.7 L1503.0 1413.8 L1505.5 1417.1 L1508.0 1420.4 L1510.5 1423.8 L1513.0 1427.1 L1515.5 1430.1 L1518.0 1432.9 L1520.5 1436.0 L1523.0 1439.2 L1525.5 1442.3 L1528.0 1445.3 L1530.5 1448.0 L1533.0 1450.8 L1535.5 1453.6 L1538.0 1456.4 L1540.5 1459.0 L1543.0 1461.6 L1545.5 1464.5 L1548.0 1467.3 L1550.5 1470.1 L1553.0 1472.6 L1555.5 1475.0 L1558.0 1477.5 L1560.5 1480.1 L1563.0 1482.7 L1565.5 1485.2 L1568.0 1487.6 L1570.5 1490.1 L1573.0 1492.5 L1575.5 1494.7 L1578.0 1496.7 L1580.5 1498.7 L1583.0 1500.8 L1585.5 1502.9 L1588.0 1504.9 L1590.5 1506.8 L1593.0 1508.6 L1595.5 1510.4 L1598.0 1512.0 L1600.5 1513.5 L1603.0 1514.8 L1605.5 1516.2 L1608.0 1517.5 L1610.5 1518.8 L1613.0 1519.8 L1615.5 1520.7 L1618.0 1521.7 L1620.5 1522.7 L1623.0 1523.8 L1625.5 1525.0 L1628.0 1526.1 L1630.5 1527.2 L1633.0 1528.3 L1635.5 1529.2 L1638.0 1529.9 L1640.5 1530.6 L1643.0 1531.5 L1645.5 1532.5 L1648.0 1533.6 L1650.5 1534.7 L1653.0 1535.9 L1655.5 1537.0 L1658.0 1538.1 L1660.5 1539.1 L1663.0 1540.0 L1665.5 1541.1 L1668.0 1542.3 L1670.5 1543.6 L1673.0 1544.8 L1675.5 1546.0 L1678.0 1547.1 L1680.5 1548.2 L1683.0 1549.3 L1685.5 1550.4 L1688.0 1551.4 L1690.5 1552.6 L1693.0 1553.8 L1695.5 1555.0 L1698.0 1556.1 L1700.5 1557.0 L1703.0 1557.9 L1705.5 1558.8 L1708.0 1559.8 L1710.5 1560.7 L1713.0 1561.8 L1715.5 1562.9 L1718.0 1564.1 L1720.5 1565.1 L1723.0 1565.9 L1725.5 1566.7 L1728.0 1567.5 L1730.5 1568.4 L1733.0 1569.4 L1735.5 1570.3 L1738.0 1571.2 L1740.5 1572.2 L1743.0 1573.2 L1745.5 1574.0 L1748.0 1574.7 L1750.5 1575.4 L1753.0 1576.2 L1755.5 1576.9 L1758.0 1577.6 L1760.5 1578.3 L1763.0 1578.9 L1765.5 1579.5 L1768.0 1580.2 L1770.5 1580.7 L1773.0 1581.3 L1775.5 1581.9 L1778.0 1582.5 L1780.5 1583.2 L1783.0 1583.8 L1785.5 1584.3 L1788.0 1584.9 L1790.5 1585.6 L1793.0 1586.3 L1795.5 1587.0 L1798.0 1587.8 L1800.5 1588.7 L1803.0 1589.7 L1805.5 1590.6 L1808.0 1591.5 L1810.5 1592.4 L1813.0 1593.4 L1815.5 1594.4 L1818.0 1595.4 L1820.5 1596.2 L1823.0 1597.0 L1825.5 1597.8 L1828.0 1598.4 L1830.5 1599.0 L1833.0 1599.5 L1835.5 1600.0 L1838.0 1600.6 L1840.5 1601.2 L1843.0 1601.6 L1845.5 1601.9 L1848.0 1602.2 L1850.5 1602.5 L1853.0 1602.9 L1855.5 1603.3 L1858.0 1603.7 L1860.5 1604.2 L1863.0 1604.8 L1865.5 1605.3 L1868.0 1605.6 L1870.5 1605.9 L1873.0 1606.2 L1875.5 1606.6 L1878.0 1607.2 L1880.5 1607.8 L1883.0 1608.5 L1885.5 1609.3 L1888.0 1610.1 L1890.5 1610.8 L1893.0 1611.3 L1895.5 1611.9 L1898.0 1612.5 L1900.5 1613.2 L1903.0 1614.0 L1905.5 1614.6 L1908.0 1615.2 L1910.5 1615.8 L1913.0 1616.3 L1915.5 1616.6 L1918.0 1616.8 L1920.5 1617.1 L1923.0 1617.3 L1925.5 1617.6 L1928.0 1617.8 L1930.5 1617.9 L1933.0 1618.0 L1935.5 1618.0 L1938.0 1618.1 L1940.5 1618.1 L1943.0 1618.1 L1945.5 1618.2 L1948.0 1618.5 L1950.5 1618.7 L1953.0 1618.8 L1955.5 1618.7 L1958.0 1618.7 L1960.5 1618.8 L1963.0 1618.9 L1965.5 1618.9 L1968.0 1619.1 L1970.5 1619.3 L1973.0 1619.6 L1975.5 1619.8 L1978.0 1620.0 L1980.5 1620.1 L1983.0 1620.3 L1985.5 1620.6 L1988.0 1620.9 L1990.5 1621.1 L1993.0 1621.3 L1995.5 1621.6 L1998.0 1621.9 L2000.5 1622.1 L2003.0 1622.4 L2005.5 1622.7 L2008.0 1623.0 L2010.5 1623.4 L2013.0 1623.7 L2015.5 1623.9 L2018.0 1624.1 L2020.5 1624.4 L2023.0 1624.7 L2025.5 1625.1 L2028.0 1625.4 L2030.5 1625.9 L2033.0 1626.3 L2035.5 1626.7 L2038.0 1627.0 L2040.5 1627.2 L2043.0 1627.5" stroke="#2c1a9e" stroke-width="5.2" fill="none" stroke-linejoin="round" stroke-linecap="round"/>
<path d="M413.0 1603.4 L415.5 1602.2 L418.0 1600.6 L420.5 1598.4 L423.0 1596.0 L425.5 1593.4 L428.0 1591.2 L430.5 1589.2 L433.0 1587.0 L435.5 1584.5 L438.0 1582.3 L440.5 1580.6 L443.0 1578.7 L445.5 1576.4 L448.0 1574.6 L450.5 1573.5 L453.0 1572.2 L455.5 1570.5 L458.0 1569.0 L460.5 1568.1 L463.0 1567.1 L465.5 1565.6 L468.0 1564.3 L470.5 1563.5 L473.0 1562.6 L475.5 1561.4 L478.0 1560.4 L480.5 1559.5 L483.0 1558.3 L485.5 1556.9 L488.0 1555.7 L490.5 1554.6 L493.0 1553.4 L495.5 1552.2 L498.0 1551.3 L500.5 1550.6 L503.0 1549.7 L505.5 1548.5 L508.0 1547.5 L510.5 1546.6 L513.0 1545.6 L515.5 1544.4 L518.0 1543.3 L520.5 1542.3 L523.0 1541.3 L525.5 1540.2 L528.0 1538.7 L530.5 1537.1 L533.0 1535.5 L535.5 1534.0 L538.0 1532.2 L540.5 1530.1 L543.0 1528.3 L545.5 1526.9 L548.0 1525.2 L550.5 1522.7 L553.0 1520.4 L555.5 1518.8 L558.0 1516.9 L560.5 1514.4 L563.0 1512.1 L565.5 1510.6 L568.0 1508.9 L570.5 1506.4 L573.0 1503.7 L575.5 1501.5 L578.0 1499.0 L580.5 1495.8 L583.0 1492.8 L585.5 1490.3 L588.0 1487.5 L590.5 1484.2 L593.0 1481.1 L595.5 1478.3 L598.0 1475.0 L600.5 1471.1 L603.0 1467.8 L605.5 1465.0 L608.0 1461.7 L610.5 1457.8 L613.0 1454.2 L615.5 1450.9 L618.0 1447.0 L620.5 1442.3 L623.0 1437.8 L625.5 1433.7 L628.0 1429.5 L630.5 1425.1 L633.0 1420.6 L635.5 1416.2 L638.0 1412.1 L640.5 1408.1 L643.0 1403.7 L645.5 1398.7 L648.0 1394.2 L650.5 1390.7 L653.0 1387.0 L655.5 1382.2 L658.0 1377.7 L660.5 1374.4 L663.0 1370.7 L665.5 1365.4 L668.0 1360.0 L670.5 1356.1 L673.0 1352.3 L675.5 1347.1 L678.0 1341.9 L680.5 1337.8 L683.0 1333.7 L685.5 1328.1 L688.0 1322.6 L690.5 1318.0 L693.0 1313.2 L695.5 1307.5 L698.0 1302.4 L700.5 1298.4 L703.0 1293.7 L705.5 1287.8 L708.0 1282.6 L710.5 1278.4 L713.0 1273.4 L715.5 1267.0 L718.0 1261.4 L720.5 1257.1 L723.0 1252.2 L725.5 1245.8 L728.0 1239.5 L730.5 1233.9 L733.0 1228.2 L735.5 1221.6 L738.0 1215.1 L740.5 1209.3 L743.0 1204.1 L745.5 1199.2 L748.0 1194.1 L750.5 1188.6 L753.0 1183.4 L755.5 1178.9 L758.0 1174.2 L760.5 1168.5 L763.0 1162.9 L765.5 1158.7 L768.0 1154.6 L770.5 1149.3 L773.0 1143.5 L775.5 1138.8 L778.0 1134.5 L780.5 1128.7 L783.0 1122.4 L785.5 1117.2 L788.0 1112.0 L790.5 1105.9 L793.0 1099.9 L795.5 1095.2 L798.0 1090.7 L800.5 1085.3 L803.0 1080.6 L805.5 1077.8 L808.0 1074.9 L810.5 1070.9 L813.0 1067.3 L815.5 1064.9 L818.0 1061.7 L820.5 1056.6 L823.0 1051.5 L825.5 1047.0 L828.0 1041.7 L830.5 1035.1 L833.0 1029.6 L835.5 1026.4 L838.0 1023.4 L840.5 1018.9 L843.0 1013.9 L845.5 1009.6 L848.0 1005.3 L850.5 1000.3 L853.0 994.8 L855.5 988.7 L858.0 981.9 L860.5 974.5 L863.0 966.3 L865.5 957.2 L868.0 947.6 L870.5 936.9 L873.0 925.8 L875.5 915.6 L878.0 906.2 L880.5 895.6 L883.0 883.4 L885.5 870.0 L888.0 856.8 L890.5 845.5 L893.0 836.2 L895.5 828.1 L898.0 820.9 L900.5 814.7 L903.0 809.8 L905.5 805.2 L908.0 801.2 L910.5 798.7 L913.0 798.2 L915.5 799.2 L918.0 801.2 L920.5 803.5 L923.0 806.9 L925.5 811.6 L928.0 817.2 L930.5 824.3 L933.0 833.0 L935.5 842.5 L938.0 851.6 L940.5 860.2 L943.0 868.8 L945.5 877.3 L948.0 886.1 L950.5 895.4 L953.0 905.3 L955.5 914.7 L958.0 921.7 L960.5 928.3 L963.0 934.4 L965.5 940.1 L968.0 945.3 L970.5 949.6 L973.0 952.7 L975.5 955.5 L978.0 958.8 L980.5 961.8 L983.0 964.4 L985.5 967.4 L988.0 971.0 L990.5 973.9 L993.0 975.9 L995.5 977.5 L998.0 979.0 L1000.5 979.6 L1003.0 980.0 L1005.5 981.0 L1008.0 982.4 L1010.5 983.3 L1013.0 984.8 L1015.5 987.8 L1018.0 990.9 L1020.5 992.9 L1023.0 995.2 L1025.5 999.5 L1028.0 1003.8 L1030.5 1006.2 L1033.0 1008.3 L1035.5 1012.3 L1038.0 1016.5 L1040.5 1018.8 L1043.0 1021.0 L1045.5 1025.4 L1048.0 1031.1 L1050.5 1035.6 L1053.0 1039.7 L1055.5 1045.4 L1058.0 1052.2 L1060.5 1059.0 L1063.0 1065.3 L1065.5 1071.6 L1068.0 1076.7 L1070.5 1080.8 L1073.0 1084.3 L1075.5 1087.1 L1078.0 1088.9 L1080.5 1089.9 L1083.0 1090.7 L1085.5 1091.4 L1088.0 1091.6 L1090.5 1092.0 L1093.0 1093.3 L1095.5 1095.1 L1098.0 1096.7 L1100.5 1098.4 L1103.0 1100.4 L1105.5 1102.2 L1108.0 1103.7 L1110.5 1105.5 L1113.0 1107.6 L1115.5 1109.2 L1118.0 1110.7 L1120.5 1113.0 L1123.0 1115.0 L1125.5 1115.5 L1128.0 1115.7 L1130.5 1117.5 L1133.0 1119.7 L1135.5 1120.3 L1138.0 1120.7 L1140.5 1123.2 L1143.0 1126.2 L1145.5 1127.3 L1148.0 1127.4 L1150.5 1129.3 L1153.0 1132.2 L1155.5 1133.8 L1158.0 1134.5 L1160.5 1136.7 L1163.0 1139.8 L1165.5 1141.8 L1168.0 1142.8 L1170.5 1144.3 L1173.0 1146.1 L1175.5 1147.2 L1178.0 1148.0 L1180.5 1149.5 L1183.0 1151.2 L1185.5 1152.4 L1188.0 1153.6 L1190.5 1155.4 L1193.0 1156.8 L1195.5 1157.6 L1198.0 1159.0 L1200.5 1161.1 L1203.0 1163.2 L1205.5 1165.0 L1208.0 1167.1 L1210.5 1169.5 L1213.0 1171.4 L1215.5 1172.9 L1218.0 1174.0 L1220.5 1174.7 L1223.0 1175.3 L1225.5 1176.5 L1228.0 1177.8 L1230.5 1178.2 L1233.0 1178.5 L1235.5 1180.0 L1238.0 1181.9 L1240.5 1182.5 L1243.0 1182.6 L1245.5 1184.4 L1248.0 1187.3 L1250.5 1188.6 L1253.0 1188.8 L1255.5 1190.5 L1258.0 1193.3 L1260.5 1194.6 L1263.0 1194.6 L1265.5 1196.0 L1268.0 1198.9 L1270.5 1201.1 L1273.0 1202.6 L1275.5 1205.1 L1278.0 1208.5 L1280.5 1211.1 L1283.0 1213.2 L1285.5 1216.1 L1288.0 1219.3 L1290.5 1221.8 L1293.0 1224.4 L1295.5 1228.0 L1298.0 1231.5 L1300.5 1234.2 L1303.0 1236.8 L1305.5 1240.3 L1308.0 1243.6 L1310.5 1246.1 L1313.0 1248.6 L1315.5 1251.8 L1318.0 1255.1 L1320.5 1257.9 L1323.0 1260.2 L1325.5 1262.3 L1328.0 1264.5 L1330.5 1266.9 L1333.0 1269.3 L1335.5 1271.3 L1338.0 1273.6 L1340.5 1277.0 L1343.0 1281.1 L1345.5 1284.3 L1348.0 1286.9 L1350.5 1291.1 L1353.0 1296.3 L1355.5 1300.4 L1358.0 1303.4 L1360.5 1307.7 L1363.0 1313.4 L1365.5 1317.9 L1368.0 1320.9 L1370.5 1324.7 L1373.0 1329.7 L1375.5 1333.8 L1378.0 1336.6 L1380.5 1340.2 L1383.0 1344.6 L1385.5 1348.1 L1388.0 1350.9 L1390.5 1354.5 L1393.0 1358.5 L1395.5 1361.7 L1398.0 1364.6 L1400.5 1368.5 L1403.0 1372.7 L1405.5 1375.7 L1408.0 1378.4 L1410.5 1381.9 L1413.0 1385.6 L1415.5 1388.0 L1418.0 1390.1 L1420.5 1392.8 L1423.0 1396.0 L1425.5 1398.5 L1428.0 1400.5 L1430.5 1402.7 L1433.0 1405.2 L1435.5 1407.5 L1438.0 1409.6 L1440.5 1411.3 L1443.0 1413.1 L1445.5 1415.4 L1448.0 1417.9 L1450.5 1419.7 L1453.0 1421.1 L1455.5 1423.1 L1458.0 1425.9 L1460.5 1428.0 L1463.0 1429.3 L1465.5 1431.4 L1468.0 1434.4 L1470.5 1437.0 L1473.0 1438.6 L1475.5 1440.6 L1478.0 1443.5 L1480.5 1446.1 L1483.0 1447.8 L1485.5 1449.9 L1488.0 1452.7 L1490.5 1455.1 L1493.0 1456.8 L1495.5 1459.1 L1498.0 1461.6 L1500.5 1463.6 L1503.0 1465.3 L1505.5 1467.7 L1508.0 1470.6 L1510.5 1472.8 L1513.0 1474.7 L1515.5 1477.3 L1518.0 1480.3 L1520.5 1482.4 L1523.0 1483.9 L1525.5 1485.9 L1528.0 1488.4 L1530.5 1490.5 L1533.0 1492.2 L1535.5 1494.2 L1538.0 1496.5 L1540.5 1498.6 L1543.0 1500.4 L1545.5 1502.1 L1548.0 1504.0 L1550.5 1506.1 L1553.0 1508.2 L1555.5 1510.2 L1558.0 1512.0 L1560.5 1513.9 L1563.0 1516.2 L1565.5 1518.1 L1568.0 1519.4 L1570.5 1521.0 L1573.0 1523.0 L1575.5 1524.9 L1578.0 1526.3 L1580.5 1527.8 L1583.0 1529.7 L1585.5 1531.5 L1588.0 1532.7 L1590.5 1534.0 L1593.0 1535.6 L1595.5 1537.0 L1598.0 1538.1 L1600.5 1539.3 L1603.0 1540.8 L1605.5 1541.8 L1608.0 1542.5 L1610.5 1543.5 L1613.0 1544.7 L1615.5 1545.5 L1618.0 1546.0 L1620.5 1546.9 L1623.0 1548.3 L1625.5 1549.3 L1628.0 1549.8 L1630.5 1550.6 L1633.0 1551.7 L1635.5 1552.5 L1638.0 1552.9 L1640.5 1553.6 L1643.0 1554.6 L1645.5 1555.7 L1648.0 1556.4 L1650.5 1557.2 L1653.0 1558.1 L1655.5 1559.0 L1658.0 1559.8 L1660.5 1560.6 L1663.0 1561.4 L1665.5 1562.4 L1668.0 1563.6 L1670.5 1564.6 L1673.0 1565.5 L1675.5 1566.3 L1678.0 1567.3 L1680.5 1568.3 L1683.0 1569.0 L1685.5 1569.8 L1688.0 1570.9 L1690.5 1572.0 L1693.0 1572.9 L1695.5 1573.7 L1698.0 1574.7 L1700.5 1575.5 L1703.0 1576.1 L1705.5 1576.9 L1708.0 1578.0 L1710.5 1578.9 L1713.0 1579.7 L1715.5 1580.7 L1718.0 1581.9 L1720.5 1582.8 L1723.0 1583.3 L1725.5 1584.1 L1728.0 1585.3 L1730.5 1586.2 L1733.0 1586.7 L1735.5 1587.5 L1738.0 1588.7 L1740.5 1589.6 L1743.0 1590.0 L1745.5 1590.4 L1748.0 1591.3 L1750.5 1592.0 L1753.0 1592.4 L1755.5 1592.8 L1758.0 1593.5 L1760.5 1594.2 L1763.0 1594.6 L1765.5 1594.9 L1768.0 1595.2 L1770.5 1595.5 L1773.0 1595.9 L1775.5 1596.4 L1778.0 1596.8 L1780.5 1597.1 L1783.0 1597.6 L1785.5 1598.2 L1788.0 1598.6 L1790.5 1598.8 L1793.0 1599.3 L1795.5 1599.9 L1798.0 1600.4 L1800.5 1601.0 L1803.0 1601.8 L1805.5 1602.7 L1808.0 1603.3 L1810.5 1603.9 L1813.0 1604.8 L1815.5 1605.4 L1818.0 1605.8 L1820.5 1606.4 L1823.0 1607.4 L1825.5 1608.1 L1828.0 1608.2 L1830.5 1608.6 L1833.0 1609.3 L1835.5 1609.7 L1838.0 1609.6 L1840.5 1609.7 L1843.0 1610.4 L1845.5 1611.0 L1848.0 1611.0 L1850.5 1611.1 L1853.0 1611.6 L1855.5 1612.1 L1858.0 1612.1 L1860.5 1612.1 L1863.0 1612.5 L1865.5 1613.0 L1868.0 1613.2 L1870.5 1613.5 L1873.0 1613.9 L1875.5 1614.3 L1878.0 1614.7 L1880.5 1615.1 L1883.0 1615.5 L1885.5 1616.0 L1888.0 1616.5 L1890.5 1617.1 L1893.0 1617.8 L1895.5 1618.3 L1898.0 1618.8 L1900.5 1619.4 L1903.0 1619.9 L1905.5 1620.2 L1908.0 1620.7 L1910.5 1621.2 L1913.0 1621.6 L1915.5 1621.9 L1918.0 1622.3 L1920.5 1622.6 L1923.0 1622.5 L1925.5 1622.6 L1928.0 1622.9 L1930.5 1623.1 L1933.0 1622.9 L1935.5 1622.9 L1938.0 1623.4 L1940.5 1623.7 L1943.0 1623.4 L1945.5 1623.2 L1948.0 1623.6 L1950.5 1623.9 L1953.0 1623.7 L1955.5 1623.5 L1958.0 1623.9 L1960.5 1624.3 L1963.0 1624.2 L1965.5 1624.0 L1968.0 1624.3 L1970.5 1624.6 L1973.0 1624.7 L1975.5 1624.7 L1978.0 1625.0 L1980.5 1625.3 L1983.0 1625.4 L1985.5 1625.6 L1988.0 1625.9 L1990.5 1626.1 L1993.0 1626.2 L1995.5 1626.5 L1998.0 1626.9 L2000.5 1627.1 L2003.0 1627.2 L2005.5 1627.5 L2008.0 1627.8 L2010.5 1628.1 L2013.0 1628.2 L2015.5 1628.5 L2018.0 1628.8 L2020.5 1629.1 L2023.0 1629.4 L2025.5 1629.7 L2028.0 1629.8 L2030.5 1630.1 L2033.0 1630.5 L2035.5 1630.9 L2038.0 1631.0 L2040.5 1631.1 L2043.0 1631.8" stroke="#1c9a9c" stroke-width="4.8" fill="none" stroke-linejoin="round" stroke-linecap="round"/>
<path d="M413.0 1607.6 L415.5 1606.7 L418.0 1605.2 L420.5 1603.0 L423.0 1600.6 L425.5 1598.4 L428.0 1596.2 L430.5 1594.1 L433.0 1592.1 L435.5 1590.1 L438.0 1588.1 L440.5 1586.2 L443.0 1584.4 L445.5 1582.8 L448.0 1581.2 L450.5 1579.6 L453.0 1578.0 L455.5 1576.8 L458.0 1575.8 L460.5 1574.8 L463.0 1573.6 L465.5 1572.5 L468.0 1571.4 L470.5 1570.5 L473.0 1569.4 L475.5 1568.2 L478.0 1567.1 L480.5 1566.1 L483.0 1565.3 L485.5 1564.3 L488.0 1563.2 L490.5 1562.2 L493.0 1561.2 L495.5 1560.2 L498.0 1559.2 L500.5 1558.2 L503.0 1557.5 L505.5 1556.8 L508.0 1556.0 L510.5 1555.1 L513.0 1554.2 L515.5 1553.4 L518.0 1552.5 L520.5 1551.4 L523.0 1550.2 L525.5 1549.0 L528.0 1547.9 L530.5 1546.6 L533.0 1545.1 L535.5 1543.6 L538.0 1541.9 L540.5 1540.1 L543.0 1538.2 L545.5 1536.4 L548.0 1534.7 L550.5 1532.8 L553.0 1530.6 L555.5 1528.6 L558.0 1526.7 L560.5 1524.8 L563.0 1522.7 L565.5 1520.3 L568.0 1518.1 L570.5 1516.1 L573.0 1514.0 L575.5 1511.4 L578.0 1508.5 L580.5 1505.5 L583.0 1502.7 L585.5 1499.6 L588.0 1496.3 L590.5 1492.9 L593.0 1489.8 L595.5 1486.9 L598.0 1484.0 L600.5 1481.0 L603.0 1477.9 L605.5 1474.9 L608.0 1471.7 L610.5 1468.2 L613.0 1464.8 L615.5 1461.4 L618.0 1458.2 L620.5 1454.8 L623.0 1451.3 L625.5 1447.9 L628.0 1444.4 L630.5 1440.6 L633.0 1436.6 L635.5 1432.6 L638.0 1428.9 L640.5 1425.4 L643.0 1422.0 L645.5 1418.8 L648.0 1415.9 L650.5 1412.8 L653.0 1409.2 L655.5 1405.3 L658.0 1401.7 L660.5 1398.5 L663.0 1395.0 L665.5 1391.0 L668.0 1386.8 L670.5 1383.2 L673.0 1379.8 L675.5 1375.8 L678.0 1371.0 L680.5 1366.3 L683.0 1362.5 L685.5 1359.4 L688.0 1356.1 L690.5 1352.3 L693.0 1348.5 L695.5 1345.1 L698.0 1341.9 L700.5 1338.3 L703.0 1334.6 L705.5 1331.1 L708.0 1328.1 L710.5 1325.4 L713.0 1323.0 L715.5 1320.9 L718.0 1318.7 L720.5 1316.1 L723.0 1313.1 L725.5 1310.2 L728.0 1307.3 L730.5 1304.0 L733.0 1300.0 L735.5 1294.6 L738.0 1288.0 L740.5 1280.9 L743.0 1273.9 L745.5 1267.6 L748.0 1261.8 L750.5 1256.5 L753.0 1251.4 L755.5 1246.1 L758.0 1241.1 L760.5 1236.7 L763.0 1232.3 L765.5 1227.4 L768.0 1221.9 L770.5 1216.9 L773.0 1212.6 L775.5 1208.5 L778.0 1203.8 L780.5 1198.6 L783.0 1193.7 L785.5 1189.2 L788.0 1184.3 L790.5 1178.5 L793.0 1172.3 L795.5 1166.7 L798.0 1161.8 L800.5 1157.3 L803.0 1152.9 L805.5 1149.2 L808.0 1146.0 L810.5 1142.8 L813.0 1139.5 L815.5 1135.9 L818.0 1131.9 L820.5 1127.4 L823.0 1122.2 L825.5 1116.2 L828.0 1110.2 L830.5 1104.5 L833.0 1099.1 L835.5 1094.1 L838.0 1089.6 L840.5 1085.3 L843.0 1080.7 L845.5 1075.5 L848.0 1069.9 L850.5 1064.6 L853.0 1059.3 L855.5 1053.2 L858.0 1046.1 L860.5 1038.2 L863.0 1029.4 L865.5 1019.4 L868.0 1008.4 L870.5 996.1 L873.0 983.8 L875.5 973.4 L878.0 964.9 L880.5 957.1 L883.0 949.5 L885.5 941.4 L888.0 932.9 L890.5 924.9 L893.0 918.5 L895.5 913.0 L898.0 908.2 L900.5 904.2 L903.0 901.1 L905.5 898.2 L908.0 895.7 L910.5 894.4 L913.0 894.6 L915.5 895.9 L918.0 897.9 L920.5 900.1 L923.0 903.2 L925.5 907.5 L928.0 912.6 L930.5 919.0 L933.0 927.0 L935.5 935.8 L938.0 944.3 L940.5 952.2 L943.0 960.2 L945.5 968.3 L948.0 976.7 L950.5 985.2 L953.0 994.1 L955.5 1002.7 L958.0 1008.2 L960.5 1012.1 L963.0 1015.0 L965.5 1017.7 L968.0 1020.1 L970.5 1021.8 L973.0 1023.0 L975.5 1024.2 L978.0 1025.0 L980.5 1025.4 L983.0 1025.7 L985.5 1026.7 L988.0 1028.5 L990.5 1030.2 L993.0 1031.7 L995.5 1033.3 L998.0 1035.3 L1000.5 1037.3 L1003.0 1039.2 L1005.5 1041.0 L1008.0 1043.0 L1010.5 1045.4 L1013.0 1047.8 L1015.5 1050.1 L1018.0 1052.5 L1020.5 1054.9 L1023.0 1057.1 L1025.5 1059.0 L1028.0 1061.4 L1030.5 1064.6 L1033.0 1067.8 L1035.5 1070.4 L1038.0 1072.6 L1040.5 1075.4 L1043.0 1078.6 L1045.5 1081.2 L1048.0 1082.9 L1050.5 1084.6 L1053.0 1087.3 L1055.5 1091.0 L1058.0 1095.2 L1060.5 1099.8 L1063.0 1104.4 L1065.5 1109.0 L1068.0 1112.6 L1070.5 1115.7 L1073.0 1118.7 L1075.5 1122.0 L1078.0 1125.8 L1080.5 1129.9 L1083.0 1133.9 L1085.5 1137.8 L1088.0 1141.7 L1090.5 1144.9 L1093.0 1147.4 L1095.5 1149.5 L1098.0 1151.6 L1100.5 1153.6 L1103.0 1155.1 L1105.5 1156.3 L1108.0 1157.4 L1110.5 1158.6 L1113.0 1159.5 L1115.5 1159.9 L1118.0 1160.2 L1120.5 1160.9 L1123.0 1161.9 L1125.5 1162.6 L1128.0 1163.3 L1130.5 1164.6 L1133.0 1166.2 L1135.5 1167.2 L1138.0 1167.6 L1140.5 1168.0 L1143.0 1169.1 L1145.5 1170.6 L1148.0 1171.7 L1150.5 1172.3 L1153.0 1173.3 L1155.5 1175.2 L1158.0 1177.2 L1160.5 1178.6 L1163.0 1179.4 L1165.5 1180.4 L1168.0 1182.0 L1170.5 1183.8 L1173.0 1185.2 L1175.5 1186.5 L1178.0 1187.9 L1180.5 1189.4 L1183.0 1190.8 L1185.5 1192.3 L1188.0 1193.9 L1190.5 1195.5 L1193.0 1196.9 L1195.5 1198.3 L1198.0 1200.1 L1200.5 1201.9 L1203.0 1203.2 L1205.5 1204.0 L1208.0 1204.8 L1210.5 1206.3 L1213.0 1208.1 L1215.5 1209.7 L1218.0 1211.1 L1220.5 1212.9 L1223.0 1215.1 L1225.5 1216.9 L1228.0 1218.1 L1230.5 1219.0 L1233.0 1220.4 L1235.5 1222.1 L1238.0 1223.5 L1240.5 1224.8 L1243.0 1226.7 L1245.5 1229.1 L1248.0 1231.2 L1250.5 1232.3 L1253.0 1233.0 L1255.5 1234.0 L1258.0 1235.3 L1260.5 1236.3 L1263.0 1236.9 L1265.5 1237.7 L1268.0 1239.1 L1270.5 1240.9 L1273.0 1242.5 L1275.5 1243.6 L1278.0 1244.7 L1280.5 1246.2 L1283.0 1247.9 L1285.5 1249.9 L1288.0 1252.2 L1290.5 1254.7 L1293.0 1257.0 L1295.5 1259.2 L1298.0 1261.6 L1300.5 1264.3 L1303.0 1266.7 L1305.5 1268.6 L1308.0 1270.3 L1310.5 1272.8 L1313.0 1275.9 L1315.5 1278.7 L1318.0 1280.9 L1320.5 1283.0 L1323.0 1285.7 L1325.5 1288.8 L1328.0 1291.5 L1330.5 1294.0 L1333.0 1296.7 L1335.5 1300.1 L1338.0 1303.6 L1340.5 1306.7 L1343.0 1309.8 L1345.5 1313.2 L1348.0 1316.9 L1350.5 1320.4 L1353.0 1323.7 L1355.5 1327.3 L1358.0 1331.4 L1360.5 1335.4 L1363.0 1339.0 L1365.5 1342.4 L1368.0 1346.2 L1370.5 1350.4 L1373.0 1354.7 L1375.5 1358.8 L1378.0 1363.0 L1380.5 1367.3 L1383.0 1371.5 L1385.5 1375.4 L1388.0 1378.9 L1390.5 1382.2 L1393.0 1385.2 L1395.5 1388.0 L1398.0 1391.0 L1400.5 1394.6 L1403.0 1398.4 L1405.5 1401.8 L1408.0 1404.6 L1410.5 1407.4 L1413.0 1410.4 L1415.5 1413.2 L1418.0 1415.2 L1420.5 1416.7 L1423.0 1418.6 L1425.5 1421.2 L1428.0 1423.8 L1430.5 1425.9 L1433.0 1427.7 L1435.5 1429.6 L1438.0 1431.6 L1440.5 1433.4 L1443.0 1434.8 L1445.5 1436.2 L1448.0 1437.9 L1450.5 1439.9 L1453.0 1441.8 L1455.5 1443.8 L1458.0 1445.9 L1460.5 1448.1 L1463.0 1450.1 L1465.5 1452.0 L1468.0 1454.0 L1470.5 1456.3 L1473.0 1458.7 L1475.5 1461.0 L1478.0 1463.2 L1480.5 1465.6 L1483.0 1467.9 L1485.5 1470.1 L1488.0 1472.1 L1490.5 1474.2 L1493.0 1476.4 L1495.5 1478.4 L1498.0 1480.3 L1500.5 1482.3 L1503.0 1484.5 L1505.5 1486.5 L1508.0 1488.3 L1510.5 1490.0 L1513.0 1492.2 L1515.5 1494.6 L1518.0 1496.8 L1520.5 1498.7 L1523.0 1500.3 L1525.5 1502.2 L1528.0 1504.1 L1530.5 1505.8 L1533.0 1507.2 L1535.5 1508.6 L1538.0 1510.4 L1540.5 1512.4 L1543.0 1514.3 L1545.5 1516.0 L1548.0 1517.7 L1550.5 1519.5 L1553.0 1521.1 L1555.5 1522.7 L1558.0 1524.3 L1560.5 1525.9 L1563.0 1527.6 L1565.5 1529.3 L1568.0 1531.0 L1570.5 1532.8 L1573.0 1534.5 L1575.5 1535.8 L1578.0 1537.0 L1580.5 1538.3 L1583.0 1539.8 L1585.5 1541.2 L1588.0 1542.5 L1590.5 1543.9 L1593.0 1545.4 L1595.5 1546.7 L1598.0 1547.9 L1600.5 1548.8 L1603.0 1549.8 L1605.5 1550.8 L1608.0 1551.6 L1610.5 1552.4 L1613.0 1553.2 L1615.5 1554.3 L1618.0 1555.3 L1620.5 1556.1 L1623.0 1556.7 L1625.5 1557.5 L1628.0 1558.4 L1630.5 1559.3 L1633.0 1560.0 L1635.5 1560.6 L1638.0 1561.3 L1640.5 1562.2 L1643.0 1563.1 L1645.5 1563.8 L1648.0 1564.4 L1650.5 1565.2 L1653.0 1566.0 L1655.5 1566.9 L1658.0 1567.8 L1660.5 1568.6 L1663.0 1569.5 L1665.5 1570.2 L1668.0 1571.0 L1670.5 1571.9 L1673.0 1572.8 L1675.5 1573.6 L1678.0 1574.4 L1680.5 1575.3 L1683.0 1576.4 L1685.5 1577.4 L1688.0 1578.2 L1690.5 1578.8 L1693.0 1579.5 L1695.5 1580.3 L1698.0 1581.2 L1700.5 1581.9 L1703.0 1582.7 L1705.5 1583.7 L1708.0 1584.7 L1710.5 1585.6 L1713.0 1586.3 L1715.5 1587.1 L1718.0 1588.0 L1720.5 1588.9 L1723.0 1589.6 L1725.5 1590.4 L1728.0 1591.4 L1730.5 1592.5 L1733.0 1593.4 L1735.5 1594.1 L1738.0 1594.7 L1740.5 1595.4 L1743.0 1596.1 L1745.5 1596.6 L1748.0 1597.1 L1750.5 1597.7 L1753.0 1598.3 L1755.5 1598.9 L1758.0 1599.4 L1760.5 1599.8 L1763.0 1600.1 L1765.5 1600.3 L1768.0 1600.5 L1770.5 1600.9 L1773.0 1601.3 L1775.5 1601.7 L1778.0 1602.0 L1780.5 1602.2 L1783.0 1602.6 L1785.5 1603.2 L1788.0 1603.5 L1790.5 1603.7 L1793.0 1604.0 L1795.5 1604.5 L1798.0 1605.2 L1800.5 1605.8 L1803.0 1606.2 L1805.5 1606.7 L1808.0 1607.4 L1810.5 1608.1 L1813.0 1608.6 L1815.5 1609.2 L1818.0 1609.8 L1820.5 1610.5 L1823.0 1611.0 L1825.5 1611.4 L1828.0 1611.8 L1830.5 1612.1 L1833.0 1612.4 L1835.5 1612.7 L1838.0 1612.9 L1840.5 1613.3 L1843.0 1613.7 L1845.5 1614.0 L1848.0 1614.2 L1850.5 1614.4 L1853.0 1614.5 L1855.5 1614.7 L1858.0 1614.8 L1860.5 1615.1 L1863.0 1615.4 L1865.5 1615.7 L1868.0 1616.0 L1870.5 1616.4 L1873.0 1616.8 L1875.5 1617.1 L1878.0 1617.3 L1880.5 1617.4 L1883.0 1617.7 L1885.5 1618.4 L1888.0 1619.1 L1890.5 1619.6 L1893.0 1620.0 L1895.5 1620.5 L1898.0 1621.2 L1900.5 1621.7 L1903.0 1622.0 L1905.5 1622.2 L1908.0 1622.5 L1910.5 1623.1 L1913.0 1623.6 L1915.5 1623.9 L1918.0 1624.2 L1920.5 1624.4 L1923.0 1624.6 L1925.5 1624.7 L1928.0 1624.7 L1930.5 1624.7 L1933.0 1624.8 L1935.5 1624.9 L1938.0 1625.0 L1940.5 1625.2 L1943.0 1625.4 L1945.5 1625.5 L1948.0 1625.4 L1950.5 1625.4 L1953.0 1625.5 L1955.5 1625.7 L1958.0 1625.8 L1960.5 1625.8 L1963.0 1626.0 L1965.5 1626.1 L1968.0 1626.2 L1970.5 1626.3 L1973.0 1626.4 L1975.5 1626.6 L1978.0 1626.9 L1980.5 1627.0 L1983.0 1627.2 L1985.5 1627.5 L1988.0 1627.8 L1990.5 1628.0 L1993.0 1628.0 L1995.5 1628.0 L1998.0 1628.3 L2000.5 1628.8 L2003.0 1629.1 L2005.5 1629.3 L2008.0 1629.5 L2010.5 1629.8 L2013.0 1630.1 L2015.5 1630.3 L2018.0 1630.3 L2020.5 1630.4 L2023.0 1630.7 L2025.5 1631.1 L2028.0 1631.5 L2030.5 1631.9 L2033.0 1632.2 L2035.5 1632.4 L2038.0 1632.6 L2040.5 1632.8 L2043.0 1633.0" stroke="#f7972c" stroke-width="4.8" fill="none" stroke-linejoin="round" stroke-linecap="round"/>
<path d="M413.0 1564.0 L415.5 1562.0 L418.0 1559.9 L420.5 1557.7 L423.0 1555.4 L425.5 1553.1 L428.0 1550.6 L430.5 1548.0 L433.0 1545.8 L435.5 1543.9 L438.0 1541.9 L440.5 1539.6 L443.0 1537.0 L445.5 1534.7 L448.0 1532.5 L450.5 1530.0 L453.0 1527.4 L455.5 1524.9 L458.0 1522.8 L460.5 1520.9 L463.0 1519.1 L465.5 1517.4 L468.0 1515.7 L470.5 1513.8 L473.0 1511.5 L475.5 1509.4 L478.0 1507.6 L480.5 1505.9 L483.0 1503.6 L485.5 1501.2 L488.0 1499.0 L490.5 1497.2 L493.0 1495.2 L495.5 1492.9 L498.0 1490.7 L500.5 1488.7 L503.0 1486.6 L505.5 1484.4 L508.0 1482.1 L510.5 1480.0 L513.0 1477.5 L515.5 1474.6 L518.0 1472.0 L520.5 1470.0 L523.0 1468.3 L525.5 1466.0 L528.0 1463.0 L530.5 1460.1 L533.0 1457.3 L535.5 1454.4 L538.0 1450.9 L540.5 1447.5 L543.0 1444.6 L545.5 1442.0 L548.0 1439.5 L550.5 1437.4 L553.0 1435.5 L555.5 1433.3 L558.0 1430.5 L560.5 1427.6 L563.0 1425.6 L565.5 1424.0 L568.0 1422.1 L570.5 1419.7 L573.0 1417.4 L575.5 1415.7 L578.0 1414.1 L580.5 1412.2 L583.0 1410.2 L585.5 1408.4 L588.0 1406.6 L590.5 1404.6 L593.0 1402.8 L595.5 1401.2 L598.0 1399.3 L600.5 1396.2 L603.0 1392.5 L605.5 1389.1 L608.0 1385.8 L610.5 1381.5 L613.0 1376.2 L615.5 1370.8 L618.0 1365.9 L620.5 1360.9 L623.0 1355.5 L625.5 1350.0 L628.0 1344.8 L630.5 1339.5 L633.0 1334.1 L635.5 1329.0 L638.0 1325.0 L640.5 1321.5 L643.0 1317.8 L645.5 1314.1 L648.0 1311.7 L650.5 1310.8 L653.0 1310.2 L655.5 1308.9 L658.0 1307.3 L660.5 1305.9 L663.0 1305.0 L665.5 1303.9 L668.0 1302.7 L670.5 1301.6 L673.0 1300.2 L675.5 1297.7 L678.0 1294.3 L680.5 1289.6 L683.0 1283.1 L685.5 1275.4 L688.0 1267.8 L690.5 1260.8 L693.0 1254.7 L695.5 1249.1 L698.0 1243.1 L700.5 1237.3 L703.0 1232.4 L705.5 1228.4 L708.0 1224.2 L710.5 1219.6 L713.0 1215.0 L715.5 1210.4 L718.0 1205.1 L720.5 1199.5 L723.0 1194.5 L725.5 1190.2 L728.0 1185.9 L730.5 1181.1 L733.0 1176.7 L735.5 1173.8 L738.0 1171.6 L740.5 1169.0 L743.0 1165.8 L745.5 1162.6 L748.0 1159.7 L750.5 1156.6 L753.0 1153.3 L755.5 1150.5 L758.0 1147.9 L760.5 1145.0 L763.0 1142.0 L765.5 1139.8 L768.0 1138.4 L770.5 1136.6 L773.0 1133.1 L775.5 1128.8 L778.0 1124.8 L780.5 1121.2 L783.0 1116.9 L785.5 1111.9 L788.0 1107.2 L790.5 1102.8 L793.0 1098.3 L795.5 1093.5 L798.0 1088.9 L800.5 1084.3 L803.0 1079.0 L805.5 1073.1 L808.0 1067.7 L810.5 1063.5 L813.0 1059.6 L815.5 1055.4 L818.0 1051.0 L820.5 1047.3 L823.0 1044.1 L825.5 1039.5 L828.0 1034.1 L830.5 1029.9 L833.0 1027.7 L835.5 1026.1 L838.0 1024.5 L840.5 1022.8 L843.0 1021.4 L845.5 1019.4 L848.0 1016.4 L850.5 1013.2 L853.0 1010.6 L855.5 1007.8 L858.0 1003.6 L860.5 998.4 L863.0 994.1 L865.5 990.6 L868.0 986.1 L870.5 977.9 L873.0 966.7 L875.5 956.2 L878.0 946.5 L880.5 937.2 L883.0 927.5 L885.5 916.9 L888.0 905.5 L890.5 894.3 L893.0 883.7 L895.5 873.9 L898.0 865.6 L900.5 860.2 L903.0 857.1 L905.5 854.7 L908.0 852.7 L910.5 851.3 L913.0 851.6 L915.5 853.1 L918.0 855.3 L920.5 857.7 L923.0 861.2 L925.5 865.8 L928.0 871.4 L930.5 878.3 L933.0 887.0 L935.5 896.5 L938.0 905.8 L940.5 914.6 L943.0 923.4 L945.5 932.2 L948.0 941.3 L950.5 950.6 L953.0 960.4 L955.5 969.8 L958.0 976.4 L960.5 981.9 L963.0 986.2 L965.5 989.6 L968.0 992.7 L970.5 996.4 L973.0 1000.8 L975.5 1004.6 L978.0 1007.7 L980.5 1011.3 L983.0 1015.7 L985.5 1019.5 L988.0 1021.7 L990.5 1023.4 L993.0 1025.4 L995.5 1027.8 L998.0 1030.1 L1000.5 1032.6 L1003.0 1035.6 L1005.5 1038.8 L1008.0 1041.4 L1010.5 1043.6 L1013.0 1046.3 L1015.5 1049.3 L1018.0 1051.5 L1020.5 1052.7 L1023.0 1054.4 L1025.5 1058.0 L1028.0 1064.5 L1030.5 1071.9 L1033.0 1079.4 L1035.5 1086.6 L1038.0 1092.5 L1040.5 1096.0 L1043.0 1098.3 L1045.5 1100.9 L1048.0 1103.8 L1050.5 1106.4 L1053.0 1109.1 L1055.5 1112.5 L1058.0 1116.9 L1060.5 1121.5 L1063.0 1125.1 L1065.5 1128.0 L1068.0 1130.6 L1070.5 1133.5 L1073.0 1135.9 L1075.5 1137.9 L1078.0 1140.0 L1080.5 1142.3 L1083.0 1144.3 L1085.5 1146.5 L1088.0 1149.4 L1090.5 1152.7 L1093.0 1156.3 L1095.5 1160.8 L1098.0 1165.6 L1100.5 1169.6 L1103.0 1171.5 L1105.5 1172.0 L1108.0 1172.1 L1110.5 1173.1 L1113.0 1175.0 L1115.5 1177.0 L1118.0 1178.5 L1120.5 1179.8 L1123.0 1180.8 L1125.5 1181.0 L1128.0 1180.6 L1130.5 1180.4 L1133.0 1180.7 L1135.5 1180.9 L1138.0 1180.8 L1140.5 1181.4 L1143.0 1183.4 L1145.5 1185.8 L1148.0 1187.3 L1150.5 1188.1 L1153.0 1189.5 L1155.5 1191.7 L1158.0 1193.9 L1160.5 1195.6 L1163.0 1197.2 L1165.5 1198.9 L1168.0 1200.4 L1170.5 1201.5 L1173.0 1203.0 L1175.5 1205.2 L1178.0 1207.1 L1180.5 1208.1 L1183.0 1208.9 L1185.5 1210.5 L1188.0 1212.5 L1190.5 1213.6 L1193.0 1213.9 L1195.5 1214.5 L1198.0 1216.2 L1200.5 1218.3 L1203.0 1220.3 L1205.5 1222.3 L1208.0 1224.5 L1210.5 1226.1 L1213.0 1227.1 L1215.5 1228.2 L1218.0 1229.8 L1220.5 1231.4 L1223.0 1232.2 L1225.5 1232.8 L1228.0 1234.2 L1230.5 1236.4 L1233.0 1238.1 L1235.5 1238.8 L1238.0 1239.4 L1240.5 1240.8 L1243.0 1242.6 L1245.5 1244.2 L1248.0 1245.9 L1250.5 1247.9 L1253.0 1249.4 L1255.5 1250.3 L1258.0 1251.2 L1260.5 1252.9 L1263.0 1254.9 L1265.5 1256.1 L1268.0 1257.0 L1270.5 1258.9 L1273.0 1262.1 L1275.5 1265.3 L1278.0 1267.7 L1280.5 1269.8 L1283.0 1272.4 L1285.5 1275.3 L1288.0 1278.0 L1290.5 1280.6 L1293.0 1283.2 L1295.5 1285.5 L1298.0 1287.0 L1300.5 1288.4 L1303.0 1290.6 L1305.5 1293.3 L1308.0 1295.5 L1310.5 1296.8 L1313.0 1298.5 L1315.5 1301.1 L1318.0 1303.9 L1320.5 1305.9 L1323.0 1307.9 L1325.5 1310.8 L1328.0 1314.5 L1330.5 1318.5 L1333.0 1322.8 L1335.5 1328.1 L1338.0 1333.9 L1340.5 1339.1 L1343.0 1343.3 L1345.5 1347.4 L1348.0 1351.2 L1350.5 1354.4 L1353.0 1356.9 L1355.5 1359.7 L1358.0 1363.5 L1360.5 1367.7 L1363.0 1371.2 L1365.5 1373.9 L1368.0 1376.5 L1370.5 1379.1 L1373.0 1381.7 L1375.5 1384.1 L1378.0 1386.8 L1380.5 1389.5 L1383.0 1391.7 L1385.5 1393.3 L1388.0 1395.5 L1390.5 1398.4 L1393.0 1401.4 L1395.5 1403.8 L1398.0 1406.2 L1400.5 1409.5 L1403.0 1413.3 L1405.5 1417.0 L1408.0 1420.2 L1410.5 1423.5 L1413.0 1426.9 L1415.5 1430.1 L1418.0 1433.4 L1420.5 1437.0 L1423.0 1440.6 L1425.5 1443.5 L1428.0 1445.5 L1430.5 1447.5 L1433.0 1450.0 L1435.5 1452.5 L1438.0 1454.6 L1440.5 1456.4 L1443.0 1458.7 L1445.5 1461.5 L1448.0 1464.0 L1450.5 1466.1 L1453.0 1467.9 L1455.5 1469.8 L1458.0 1471.4 L1460.5 1473.0 L1463.0 1475.1 L1465.5 1477.6 L1468.0 1480.0 L1470.5 1482.0 L1473.0 1484.0 L1475.5 1486.4 L1478.0 1488.9 L1480.5 1491.0 L1483.0 1492.6 L1485.5 1494.3 L1488.0 1496.4 L1490.5 1498.4 L1493.0 1500.2 L1495.5 1501.9 L1498.0 1503.7 L1500.5 1505.3 L1503.0 1506.8 L1505.5 1508.5 L1508.0 1510.6 L1510.5 1512.6 L1513.0 1514.1 L1515.5 1515.3 L1518.0 1516.9 L1520.5 1518.6 L1523.0 1520.1 L1525.5 1521.3 L1528.0 1522.5 L1530.5 1524.1 L1533.0 1525.7 L1535.5 1527.2 L1538.0 1528.5 L1540.5 1529.9 L1543.0 1531.1 L1545.5 1532.2 L1548.0 1533.5 L1550.5 1535.1 L1553.0 1536.9 L1555.5 1538.3 L1558.0 1539.5 L1560.5 1540.9 L1563.0 1542.5 L1565.5 1544.0 L1568.0 1545.1 L1570.5 1546.2 L1573.0 1547.5 L1575.5 1548.9 L1578.0 1550.2 L1580.5 1551.4 L1583.0 1552.7 L1585.5 1553.9 L1588.0 1554.8 L1590.5 1555.8 L1593.0 1557.0 L1595.5 1558.3 L1598.0 1559.4 L1600.5 1560.2 L1603.0 1561.0 L1605.5 1562.0 L1608.0 1563.0 L1610.5 1563.7 L1613.0 1564.2 L1615.5 1564.9 L1618.0 1565.7 L1620.5 1566.5 L1623.0 1567.3 L1625.5 1568.2 L1628.0 1569.1 L1630.5 1569.6 L1633.0 1570.1 L1635.5 1570.9 L1638.0 1571.8 L1640.5 1572.6 L1643.0 1573.1 L1645.5 1573.6 L1648.0 1574.3 L1650.5 1575.2 L1653.0 1575.8 L1655.5 1576.4 L1658.0 1577.2 L1660.5 1578.1 L1663.0 1578.9 L1665.5 1579.7 L1668.0 1580.6 L1670.5 1581.4 L1673.0 1581.9 L1675.5 1582.3 L1678.0 1583.0 L1680.5 1584.0 L1683.0 1585.0 L1685.5 1585.8 L1688.0 1586.5 L1690.5 1587.4 L1693.0 1588.3 L1695.5 1589.0 L1698.0 1589.5 L1700.5 1590.0 L1703.0 1590.7 L1705.5 1591.4 L1708.0 1592.2 L1710.5 1593.2 L1713.0 1594.4 L1715.5 1595.3 L1718.0 1595.9 L1720.5 1596.6 L1723.0 1597.7 L1725.5 1598.6 L1728.0 1599.3 L1730.5 1599.9 L1733.0 1600.6 L1735.5 1601.5 L1738.0 1602.2 L1740.5 1602.8 L1743.0 1603.5 L1745.5 1604.2 L1748.0 1604.7 L1750.5 1605.1 L1753.0 1605.7 L1755.5 1606.2 L1758.0 1606.4 L1760.5 1606.4 L1763.0 1606.4 L1765.5 1606.7 L1768.0 1607.3 L1770.5 1607.7 L1773.0 1607.9 L1775.5 1608.2 L1778.0 1608.6 L1780.5 1608.9 L1783.0 1608.9 L1785.5 1609.0 L1788.0 1609.2 L1790.5 1609.4 L1793.0 1609.6 L1795.5 1610.1 L1798.0 1610.8 L1800.5 1611.5 L1803.0 1611.8 L1805.5 1612.0 L1808.0 1612.5 L1810.5 1613.1 L1813.0 1613.6 L1815.5 1613.9 L1818.0 1614.3 L1820.5 1614.9 L1823.0 1615.4 L1825.5 1615.8 L1828.0 1616.1 L1830.5 1616.4 L1833.0 1616.7 L1835.5 1616.8 L1838.0 1617.0 L1840.5 1617.4 L1843.0 1617.8 L1845.5 1617.8 L1848.0 1617.7 L1850.5 1617.7 L1853.0 1618.1 L1855.5 1618.5 L1858.0 1618.6 L1860.5 1618.8 L1863.0 1619.1 L1865.5 1619.3 L1868.0 1619.5 L1870.5 1619.6 L1873.0 1619.9 L1875.5 1620.1 L1878.0 1620.2 L1880.5 1620.5 L1883.0 1621.1 L1885.5 1621.8 L1888.0 1622.2 L1890.5 1622.4 L1893.0 1622.6 L1895.5 1623.1 L1898.0 1623.7 L1900.5 1624.1 L1903.0 1624.4 L1905.5 1624.9 L1908.0 1625.4 L1910.5 1625.7 L1913.0 1626.0 L1915.5 1626.3 L1918.0 1626.5 L1920.5 1626.4 L1923.0 1626.4 L1925.5 1626.7 L1928.0 1627.2 L1930.5 1627.4 L1933.0 1627.3 L1935.5 1627.2 L1938.0 1627.3 L1940.5 1627.4 L1943.0 1627.4 L1945.5 1627.4 L1948.0 1627.5 L1950.5 1627.7 L1953.0 1627.8 L1955.5 1627.9 L1958.0 1628.2 L1960.5 1628.3 L1963.0 1628.3 L1965.5 1628.1 L1968.0 1628.3 L1970.5 1628.7 L1973.0 1628.9 L1975.5 1628.9 L1978.0 1628.8 L1980.5 1629.0 L1983.0 1629.4 L1985.5 1629.7 L1988.0 1629.9 L1990.5 1630.2 L1993.0 1630.4 L1995.5 1630.6 L1998.0 1630.7 L2000.5 1630.9 L2003.0 1631.1 L2005.5 1631.2 L2008.0 1631.1 L2010.5 1631.4 L2013.0 1632.0 L2015.5 1632.6 L2018.0 1632.8 L2020.5 1632.9 L2023.0 1633.0 L2025.5 1633.2 L2028.0 1633.3 L2030.5 1633.4 L2033.0 1633.6 L2035.5 1634.0 L2038.0 1634.3 L2040.5 1634.6 L2043.0 1635.1" stroke="#7e1a90" stroke-width="5.0" fill="none" stroke-linejoin="round" stroke-linecap="round"/>
<path d="M413.0 1566.0 L415.5 1563.8 L418.0 1561.4 L420.5 1559.0 L423.0 1556.4 L425.5 1553.8 L428.0 1551.2 L430.5 1548.5 L433.0 1545.9 L435.5 1543.4 L438.0 1540.8 L440.5 1538.1 L443.0 1535.3 L445.5 1532.5 L448.0 1529.6 L450.5 1526.6 L453.0 1523.6 L455.5 1520.7 L458.0 1517.7 L460.5 1514.9 L463.0 1512.1 L465.5 1509.5 L468.0 1506.8 L470.5 1504.0 L473.0 1501.3 L475.5 1498.4 L478.0 1495.6 L480.5 1492.9 L483.0 1490.1 L485.5 1487.5 L488.0 1484.9 L490.5 1482.4 L493.0 1480.0 L495.5 1477.7 L498.0 1475.4 L500.5 1473.2 L503.0 1471.1 L505.5 1469.0 L508.0 1466.9 L510.5 1464.8 L513.0 1462.6 L515.5 1460.3 L518.0 1458.1 L520.5 1455.8 L523.0 1453.7 L525.5 1451.5 L528.0 1449.2 L530.5 1446.8 L533.0 1444.2 L535.5 1441.4 L538.0 1438.4 L540.5 1435.3 L543.0 1432.3 L545.5 1429.5 L548.0 1426.9 L550.5 1424.4 L553.0 1421.8 L555.5 1419.2 L558.0 1416.4 L560.5 1413.4 L563.0 1410.4 L565.5 1407.4 L568.0 1404.6 L570.5 1402.0 L573.0 1399.6 L575.5 1397.2 L578.0 1394.6 L580.5 1391.9 L583.0 1388.9 L585.5 1385.8 L588.0 1382.5 L590.5 1379.3 L593.0 1376.1 L595.5 1373.0 L598.0 1369.9 L600.5 1366.7 L603.0 1363.3 L605.5 1359.8 L608.0 1356.2 L610.5 1352.4 L613.0 1348.3 L615.5 1343.9 L618.0 1339.3 L620.5 1334.5 L623.0 1329.6 L625.5 1324.8 L628.0 1319.9 L630.5 1315.2 L633.0 1310.6 L635.5 1306.1 L638.0 1301.6 L640.5 1297.1 L643.0 1292.4 L645.5 1287.6 L648.0 1282.9 L650.5 1278.4 L653.0 1274.2 L655.5 1270.4 L658.0 1266.7 L660.5 1263.0 L663.0 1258.9 L665.5 1254.5 L668.0 1249.6 L670.5 1244.6 L673.0 1239.4 L675.5 1234.5 L678.0 1229.8 L680.5 1225.4 L683.0 1221.0 L685.5 1216.4 L688.0 1211.5 L690.5 1206.3 L693.0 1200.7 L695.5 1195.1 L698.0 1189.6 L700.5 1184.3 L703.0 1179.3 L705.5 1174.5 L708.0 1169.8 L710.5 1165.0 L713.0 1159.9 L715.5 1154.5 L718.0 1148.8 L720.5 1142.9 L723.0 1136.9 L725.5 1130.9 L728.0 1124.7 L730.5 1118.4 L733.0 1112.1 L735.5 1105.6 L738.0 1099.0 L740.5 1092.4 L743.0 1085.8 L745.5 1079.3 L748.0 1073.0 L750.5 1066.9 L753.0 1061.0 L755.5 1055.3 L758.0 1049.6 L760.5 1043.8 L763.0 1037.9 L765.5 1031.9 L768.0 1025.8 L770.5 1019.5 L773.0 1013.1 L775.5 1006.4 L778.0 999.6 L780.5 992.3 L783.0 984.5 L785.5 976.1 L788.0 967.3 L790.5 958.4 L793.0 949.4 L795.5 940.7 L798.0 932.4 L800.5 924.4 L803.0 916.6 L805.5 908.7 L808.0 900.6 L810.5 891.8 L813.0 882.4 L815.5 872.2 L818.0 861.6 L820.5 850.7 L823.0 839.5 L825.5 827.2 L828.0 814.7 L830.5 803.8 L833.0 795.3 L835.5 788.1 L838.0 781.5 L840.5 774.5 L843.0 767.4 L845.5 760.1 L848.0 752.2 L850.5 743.9 L853.0 735.2 L855.5 725.8 L858.0 715.5 L860.5 704.2 L863.0 691.9 L865.5 678.8 L868.0 664.9 L870.5 648.9 L873.0 632.3 L875.5 617.6 L878.0 604.8 L880.5 592.9 L883.0 581.0 L885.5 568.0 L888.0 554.3 L890.5 541.3 L893.0 530.7 L895.5 521.4 L898.0 513.2 L900.5 506.3 L903.0 501.0 L905.5 496.1 L908.0 492.1 L910.5 490.1 L913.0 490.8 L915.5 493.6 L918.0 497.5 L920.5 501.9 L923.0 507.8 L925.5 515.3 L928.0 524.0 L930.5 534.5 L933.0 547.3 L935.5 561.0 L938.0 574.5 L940.5 586.9 L943.0 599.1 L945.5 611.4 L948.0 624.2 L950.5 637.3 L953.0 650.7 L955.5 663.6 L958.0 672.1 L960.5 678.4 L963.0 682.8 L965.5 686.3 L968.0 689.2 L970.5 691.7 L973.0 694.1 L975.5 696.4 L978.0 698.7 L980.5 701.1 L983.0 703.6 L985.5 706.3 L988.0 709.3 L990.5 712.7 L993.0 716.4 L995.5 720.3 L998.0 724.3 L1000.5 728.4 L1003.0 732.4 L1005.5 736.3 L1008.0 740.0 L1010.5 743.5 L1013.0 746.9 L1015.5 750.3 L1018.0 753.7 L1020.5 757.1 L1023.0 760.5 L1025.5 763.9 L1028.0 767.5 L1030.5 771.2 L1033.0 775.0 L1035.5 779.0 L1038.0 783.1 L1040.5 787.5 L1043.0 792.1 L1045.5 797.1 L1048.0 802.5 L1050.5 808.4 L1053.0 814.8 L1055.5 821.6 L1058.0 829.3 L1060.5 838.4 L1063.0 847.7 L1065.5 856.0 L1068.0 862.2 L1070.5 867.4 L1073.0 872.1 L1075.5 876.3 L1078.0 880.1 L1080.5 883.7 L1083.0 887.0 L1085.5 890.3 L1088.0 893.4 L1090.5 896.5 L1093.0 899.5 L1095.5 902.4 L1098.0 905.3 L1100.5 908.0 L1103.0 910.5 L1105.5 912.9 L1108.0 915.2 L1110.5 917.4 L1113.0 919.4 L1115.5 921.4 L1118.0 923.1 L1120.5 924.8 L1123.0 926.2 L1125.5 927.6 L1128.0 929.0 L1130.5 930.3 L1133.0 931.8 L1135.5 933.2 L1138.0 934.6 L1140.5 936.0 L1143.0 937.4 L1145.5 938.8 L1148.0 940.4 L1150.5 942.3 L1153.0 944.6 L1155.5 947.3 L1158.0 950.1 L1160.5 952.8 L1163.0 955.4 L1165.5 957.7 L1168.0 959.7 L1170.5 961.5 L1173.0 963.2 L1175.5 965.2 L1178.0 967.3 L1180.5 969.6 L1183.0 971.7 L1185.5 973.7 L1188.0 975.2 L1190.5 976.4 L1193.0 977.5 L1195.5 978.6 L1198.0 980.2 L1200.5 982.2 L1203.0 984.6 L1205.5 987.4 L1208.0 990.2 L1210.5 992.7 L1213.0 995.0 L1215.5 997.1 L1218.0 999.2 L1220.5 1001.4 L1223.0 1003.9 L1225.5 1006.8 L1228.0 1009.8 L1230.5 1013.0 L1233.0 1016.1 L1235.5 1019.0 L1238.0 1021.7 L1240.5 1024.3 L1243.0 1026.9 L1245.5 1029.4 L1248.0 1032.1 L1250.5 1034.9 L1253.0 1037.7 L1255.5 1040.5 L1258.0 1043.2 L1260.5 1045.8 L1263.0 1048.3 L1265.5 1050.8 L1268.0 1053.1 L1270.5 1055.3 L1273.0 1057.5 L1275.5 1059.8 L1278.0 1062.3 L1280.5 1065.0 L1283.0 1068.1 L1285.5 1071.4 L1288.0 1074.8 L1290.5 1078.1 L1293.0 1081.3 L1295.5 1084.2 L1298.0 1087.0 L1300.5 1089.8 L1303.0 1092.8 L1305.5 1096.2 L1308.0 1099.8 L1310.5 1103.7 L1313.0 1107.6 L1315.5 1111.4 L1318.0 1115.0 L1320.5 1118.2 L1323.0 1121.4 L1325.5 1124.6 L1328.0 1128.2 L1330.5 1132.1 L1333.0 1136.4 L1335.5 1141.2 L1338.0 1146.2 L1340.5 1151.3 L1343.0 1156.3 L1345.5 1161.1 L1348.0 1165.8 L1350.5 1170.5 L1353.0 1175.3 L1355.5 1180.3 L1358.0 1185.4 L1360.5 1190.7 L1363.0 1196.0 L1365.5 1201.2 L1368.0 1206.2 L1370.5 1211.1 L1373.0 1215.7 L1375.5 1220.2 L1378.0 1224.8 L1380.5 1229.5 L1383.0 1234.4 L1385.5 1239.6 L1388.0 1245.0 L1390.5 1250.5 L1393.0 1256.1 L1395.5 1261.6 L1398.0 1266.9 L1400.5 1272.1 L1403.0 1277.2 L1405.5 1282.3 L1408.0 1287.3 L1410.5 1292.2 L1413.0 1296.9 L1415.5 1301.4 L1418.0 1305.7 L1420.5 1309.8 L1423.0 1313.6 L1425.5 1317.4 L1428.0 1321.0 L1430.5 1324.5 L1433.0 1328.0 L1435.5 1331.3 L1438.0 1334.4 L1440.5 1337.5 L1443.0 1340.3 L1445.5 1343.2 L1448.0 1346.0 L1450.5 1348.8 L1453.0 1351.5 L1455.5 1354.0 L1458.0 1356.3 L1460.5 1358.5 L1463.0 1360.5 L1465.5 1362.6 L1468.0 1364.8 L1470.5 1367.3 L1473.0 1370.0 L1475.5 1372.8 L1478.0 1375.5 L1480.5 1378.2 L1483.0 1380.5 L1485.5 1382.7 L1488.0 1384.8 L1490.5 1387.0 L1493.0 1389.6 L1495.5 1392.5 L1498.0 1395.6 L1500.5 1398.9 L1503.0 1402.2 L1505.5 1405.5 L1508.0 1408.7 L1510.5 1411.9 L1513.0 1415.2 L1515.5 1418.6 L1518.0 1422.1 L1520.5 1425.7 L1523.0 1429.3 L1525.5 1432.8 L1528.0 1436.1 L1530.5 1439.2 L1533.0 1442.2 L1535.5 1445.2 L1538.0 1448.1 L1540.5 1451.0 L1543.0 1453.9 L1545.5 1456.7 L1548.0 1459.6 L1550.5 1462.4 L1553.0 1465.3 L1555.5 1468.1 L1558.0 1471.0 L1560.5 1473.8 L1563.0 1476.5 L1565.5 1479.0 L1568.0 1481.4 L1570.5 1483.6 L1573.0 1485.8 L1575.5 1488.1 L1578.0 1490.4 L1580.5 1492.9 L1583.0 1495.3 L1585.5 1497.7 L1588.0 1499.8 L1590.5 1501.7 L1593.0 1503.4 L1595.5 1504.9 L1598.0 1506.4 L1600.5 1507.8 L1603.0 1509.4 L1605.5 1511.0 L1608.0 1512.5 L1610.5 1514.0 L1613.0 1515.2 L1615.5 1516.2 L1618.0 1517.1 L1620.5 1517.9 L1623.0 1518.8 L1625.5 1519.8 L1628.0 1521.0 L1630.5 1522.2 L1633.0 1523.4 L1635.5 1524.6 L1638.0 1525.6 L1640.5 1526.5 L1643.0 1527.3 L1645.5 1528.1 L1648.0 1528.9 L1650.5 1529.9 L1653.0 1531.0 L1655.5 1532.2 L1658.0 1533.5 L1660.5 1534.9 L1663.0 1536.1 L1665.5 1537.3 L1668.0 1538.4 L1670.5 1539.4 L1673.0 1540.5 L1675.5 1541.6 L1678.0 1542.7 L1680.5 1544.0 L1683.0 1545.3 L1685.5 1546.6 L1688.0 1547.9 L1690.5 1549.1 L1693.0 1550.1 L1695.5 1551.1 L1698.0 1552.1 L1700.5 1553.0 L1703.0 1554.1 L1705.5 1555.1 L1708.0 1556.2 L1710.5 1557.3 L1713.0 1558.4 L1715.5 1559.5 L1718.0 1560.4 L1720.5 1561.4 L1723.0 1562.2 L1725.5 1563.1 L1728.0 1564.1 L1730.5 1565.0 L1733.0 1565.9 L1735.5 1566.9 L1738.0 1567.8 L1740.5 1568.8 L1743.0 1569.7 L1745.5 1570.6 L1748.0 1571.4 L1750.5 1572.2 L1753.0 1573.0 L1755.5 1573.7 L1758.0 1574.4 L1760.5 1575.2 L1763.0 1575.9 L1765.5 1576.8 L1768.0 1577.6 L1770.5 1578.4 L1773.0 1579.1 L1775.5 1579.7 L1778.0 1580.3 L1780.5 1580.9 L1783.0 1581.6 L1785.5 1582.3 L1788.0 1583.1 L1790.5 1584.0 L1793.0 1584.9 L1795.5 1585.7 L1798.0 1586.5 L1800.5 1587.3 L1803.0 1588.1 L1805.5 1589.0 L1808.0 1589.9 L1810.5 1590.9 L1813.0 1592.0 L1815.5 1593.1 L1818.0 1594.1 L1820.5 1594.9 L1823.0 1595.7 L1825.5 1596.4 L1828.0 1596.9 L1830.5 1597.5 L1833.0 1598.0 L1835.5 1598.6 L1838.0 1599.1 L1840.5 1599.6 L1843.0 1600.0 L1845.5 1600.3 L1848.0 1600.7 L1850.5 1601.0 L1853.0 1601.4 L1855.5 1601.8 L1858.0 1602.2 L1860.5 1602.6 L1863.0 1603.0 L1865.5 1603.4 L1868.0 1603.7 L1870.5 1604.1 L1873.0 1604.5 L1875.5 1605.0 L1878.0 1605.6 L1880.5 1606.3 L1883.0 1607.0 L1885.5 1607.7 L1888.0 1608.3 L1890.5 1608.9 L1893.0 1609.5 L1895.5 1610.2 L1898.0 1611.0 L1900.5 1611.7 L1903.0 1612.5 L1905.5 1613.2 L1908.0 1613.9 L1910.5 1614.4 L1913.0 1614.8 L1915.5 1615.2 L1918.0 1615.5 L1920.5 1615.8 L1923.0 1616.0 L1925.5 1616.2 L1928.0 1616.4 L1930.5 1616.6 L1933.0 1616.7 L1935.5 1616.8 L1938.0 1616.9 L1940.5 1616.9 L1943.0 1616.9 L1945.5 1617.0 L1948.0 1617.1 L1950.5 1617.2 L1953.0 1617.3 L1955.5 1617.4 L1958.0 1617.5 L1960.5 1617.7 L1963.0 1617.8 L1965.5 1617.8 L1968.0 1617.9 L1970.5 1618.0 L1973.0 1618.2 L1975.5 1618.4 L1978.0 1618.6 L1980.5 1618.9 L1983.0 1619.2 L1985.5 1619.5 L1988.0 1619.7 L1990.5 1620.0 L1993.0 1620.2 L1995.5 1620.5 L1998.0 1620.7 L2000.5 1621.0 L2003.0 1621.3 L2005.5 1621.6 L2008.0 1621.9 L2010.5 1622.3 L2013.0 1622.6 L2015.5 1622.9 L2018.0 1623.2 L2020.5 1623.5 L2023.0 1623.9 L2025.5 1624.2 L2028.0 1624.5 L2030.5 1624.9 L2033.0 1625.3 L2035.5 1625.7 L2038.0 1626.1 L2040.5 1626.5 L2043.0 1626.9" stroke="#2b1a8a" stroke-width="6.0" fill="none" stroke-linejoin="round" stroke-linecap="round"/>
<path d="M413.0 1626.6 L415.5 1626.4 L418.0 1626.0 L420.5 1625.4 L423.0 1625.0 L425.5 1624.7 L428.0 1624.6 L430.5 1624.2 L433.0 1623.6 L435.5 1622.7 L438.0 1622.2 L440.5 1622.1 L443.0 1622.3 L445.5 1622.4 L448.0 1622.1 L450.5 1621.4 L453.0 1620.8 L455.5 1620.7 L458.0 1621.2 L460.5 1621.7 L463.0 1621.8 L465.5 1621.4 L468.0 1620.6 L470.5 1620.1 L473.0 1619.9 L475.5 1620.1 L478.0 1620.2 L480.5 1620.2 L483.0 1620.2 L485.5 1620.2 L488.0 1620.3 L490.5 1620.2 L493.0 1619.9 L495.5 1619.3 L498.0 1618.8 L500.5 1618.7 L503.0 1619.0 L505.5 1619.3 L508.0 1619.2 L510.5 1618.8 L513.0 1618.3 L515.5 1618.1 L518.0 1618.3 L520.5 1618.6 L523.0 1618.7 L525.5 1618.4 L528.0 1617.8 L530.5 1617.3 L533.0 1617.1 L535.5 1617.2 L538.0 1617.4 L540.5 1617.3 L543.0 1617.2 L545.5 1617.0 L548.0 1617.1 L550.5 1617.1 L553.0 1616.9 L555.5 1616.5 L558.0 1616.1 L560.5 1615.8 L563.0 1615.8 L565.5 1615.9 L568.0 1615.9 L570.5 1615.8 L573.0 1615.6 L575.5 1615.5 L578.0 1615.6 L580.5 1615.7 L583.0 1615.6 L585.5 1615.1 L588.0 1614.6 L590.5 1614.2 L593.0 1614.2 L595.5 1614.5 L598.0 1614.7 L600.5 1614.7 L603.0 1614.4 L605.5 1614.0 L608.0 1613.7 L610.5 1613.5 L613.0 1613.4 L615.5 1613.2 L618.0 1613.0 L620.5 1612.7 L623.0 1612.4 L625.5 1612.1 L628.0 1611.7 L630.5 1611.4 L633.0 1611.3 L635.5 1611.3 L638.0 1611.3 L640.5 1611.1 L643.0 1610.6 L645.5 1609.9 L648.0 1609.1 L650.5 1608.6 L653.0 1608.5 L655.5 1608.5 L658.0 1608.6 L660.5 1608.5 L663.0 1608.2 L665.5 1607.7 L668.0 1607.0 L670.5 1606.4 L673.0 1605.8 L675.5 1605.5 L678.0 1605.2 L680.5 1605.0 L683.0 1604.6 L685.5 1604.0 L688.0 1603.2 L690.5 1602.3 L693.0 1601.7 L695.5 1601.3 L698.0 1600.9 L700.5 1600.4 L703.0 1599.6 L705.5 1598.7 L708.0 1598.0 L710.5 1597.5 L713.0 1597.2 L715.5 1597.0 L718.0 1596.8 L720.5 1596.5 L723.0 1596.1 L725.5 1595.6 L728.0 1595.0 L730.5 1594.2 L733.0 1593.3 L735.5 1592.2 L738.0 1591.4 L740.5 1590.7 L743.0 1589.9 L745.5 1589.0 L748.0 1587.9 L750.5 1586.8 L753.0 1586.0 L755.5 1585.4 L758.0 1584.8 L760.5 1584.0 L763.0 1582.9 L765.5 1581.7 L768.0 1580.8 L770.5 1580.2 L773.0 1579.8 L775.5 1579.2 L778.0 1578.1 L780.5 1576.8 L783.0 1575.4 L785.5 1574.3 L788.0 1573.3 L790.5 1572.1 L793.0 1570.7 L795.5 1569.0 L798.0 1567.4 L800.5 1566.0 L803.0 1564.7 L805.5 1563.3 L808.0 1561.7 L810.5 1560.0 L813.0 1558.6 L815.5 1557.4 L818.0 1556.2 L820.5 1554.7 L823.0 1552.8 L825.5 1551.0 L828.0 1549.6 L830.5 1548.8 L833.0 1548.2 L835.5 1547.4 L838.0 1545.8 L840.5 1543.4 L843.0 1540.7 L845.5 1538.0 L848.0 1535.6 L850.5 1533.1 L853.0 1530.2 L855.5 1526.8 L858.0 1522.9 L860.5 1519.1 L863.0 1515.4 L865.5 1511.8 L868.0 1508.2 L870.5 1504.5 L873.0 1500.9 L875.5 1497.7 L878.0 1494.7 L880.5 1491.5 L883.0 1487.9 L885.5 1484.0 L888.0 1480.4 L890.5 1477.5 L893.0 1475.4 L895.5 1473.8 L898.0 1472.2 L900.5 1470.0 L903.0 1467.8 L905.5 1465.9 L908.0 1464.8 L910.5 1464.3 L913.0 1464.1 L915.5 1463.9 L918.0 1463.7 L920.5 1463.7 L923.0 1464.0 L925.5 1464.3 L928.0 1464.4 L930.5 1464.2 L933.0 1464.0 L935.5 1464.1 L938.0 1464.5 L940.5 1464.9 L943.0 1465.0 L945.5 1464.8 L948.0 1464.4 L950.5 1464.3 L953.0 1464.4 L955.5 1464.5 L958.0 1464.2 L960.5 1463.4 L963.0 1462.5 L965.5 1461.7 L968.0 1461.5 L970.5 1461.4 L973.0 1461.0 L975.5 1460.3 L978.0 1459.4 L980.5 1458.7 L983.0 1458.4 L985.5 1458.3 L988.0 1457.8 L990.5 1457.0 L993.0 1455.8 L995.5 1454.7 L998.0 1454.0 L1000.5 1453.7 L1003.0 1453.8 L1005.5 1453.9 L1008.0 1454.1 L1010.5 1454.6 L1013.0 1455.2 L1015.5 1455.9 L1018.0 1456.4 L1020.5 1456.5 L1023.0 1456.9 L1025.5 1457.7 L1028.0 1459.2 L1030.5 1460.9 L1033.0 1462.5 L1035.5 1463.4 L1038.0 1463.8 L1040.5 1464.1 L1043.0 1464.7 L1045.5 1465.6 L1048.0 1466.6 L1050.5 1467.2 L1053.0 1467.5 L1055.5 1467.5 L1058.0 1467.6 L1060.5 1467.8 L1063.0 1468.2 L1065.5 1468.8 L1068.0 1469.5 L1070.5 1470.4 L1073.0 1471.5 L1075.5 1472.6 L1078.0 1473.5 L1080.5 1474.2 L1083.0 1474.7 L1085.5 1475.5 L1088.0 1476.5 L1090.5 1477.7 L1093.0 1478.8 L1095.5 1479.7 L1098.0 1480.4 L1100.5 1481.0 L1103.0 1481.8 L1105.5 1482.8 L1108.0 1483.8 L1110.5 1484.7 L1113.0 1485.4 L1115.5 1485.9 L1118.0 1486.5 L1120.5 1487.0 L1123.0 1487.6 L1125.5 1488.4 L1128.0 1489.2 L1130.5 1490.0 L1133.0 1490.9 L1135.5 1491.7 L1138.0 1492.3 L1140.5 1492.8 L1143.0 1493.3 L1145.5 1493.8 L1148.0 1494.4 L1150.5 1495.1 L1153.0 1495.7 L1155.5 1496.3 L1158.0 1497.0 L1160.5 1497.8 L1163.0 1498.8 L1165.5 1499.8 L1168.0 1500.7 L1170.5 1501.4 L1173.0 1502.2 L1175.5 1503.2 L1178.0 1504.5 L1180.5 1505.9 L1183.0 1507.5 L1185.5 1509.1 L1188.0 1510.9 L1190.5 1512.6 L1193.0 1514.2 L1195.5 1515.5 L1198.0 1516.8 L1200.5 1518.1 L1203.0 1519.6 L1205.5 1521.2 L1208.0 1522.6 L1210.5 1523.8 L1213.0 1524.5 L1215.5 1525.1 L1218.0 1525.9 L1220.5 1527.0 L1223.0 1528.3 L1225.5 1529.5 L1228.0 1530.4 L1230.5 1530.8 L1233.0 1531.2 L1235.5 1531.7 L1238.0 1532.3 L1240.5 1533.2 L1243.0 1534.1 L1245.5 1535.0 L1248.0 1536.1 L1250.5 1537.3 L1253.0 1538.3 L1255.5 1539.0 L1258.0 1539.3 L1260.5 1539.7 L1263.0 1540.3 L1265.5 1541.4 L1268.0 1542.7 L1270.5 1543.8 L1273.0 1544.5 L1275.5 1545.0 L1278.0 1545.5 L1280.5 1546.5 L1283.0 1547.8 L1285.5 1549.2 L1288.0 1550.2 L1290.5 1550.8 L1293.0 1551.5 L1295.5 1552.3 L1298.0 1553.5 L1300.5 1554.9 L1303.0 1556.1 L1305.5 1557.3 L1308.0 1558.5 L1310.5 1560.0 L1313.0 1561.4 L1315.5 1562.7 L1318.0 1563.5 L1320.5 1564.0 L1323.0 1564.6 L1325.5 1565.6 L1328.0 1566.9 L1330.5 1568.1 L1333.0 1569.1 L1335.5 1569.6 L1338.0 1570.2 L1340.5 1571.2 L1343.0 1572.5 L1345.5 1573.8 L1348.0 1574.7 L1350.5 1575.2 L1353.0 1575.8 L1355.5 1576.8 L1358.0 1578.4 L1360.5 1580.2 L1363.0 1581.8 L1365.5 1582.9 L1368.0 1583.9 L1370.5 1584.9 L1373.0 1586.2 L1375.5 1587.5 L1378.0 1588.4 L1380.5 1589.1 L1383.0 1589.6 L1385.5 1590.2 L1388.0 1591.2 L1390.5 1592.2 L1393.0 1593.1 L1395.5 1593.6 L1398.0 1594.1 L1400.5 1595.0 L1403.0 1596.2 L1405.5 1597.4 L1408.0 1598.2 L1410.5 1598.4 L1413.0 1598.4 L1415.5 1598.8 L1418.0 1599.8 L1420.5 1601.1 L1423.0 1602.3 L1425.5 1602.8 L1428.0 1602.8 L1430.5 1602.7 L1433.0 1602.9 L1435.5 1603.2 L1438.0 1603.6 L1440.5 1603.9 L1443.0 1604.0 L1445.5 1604.2 L1448.0 1604.6 L1450.5 1605.2 L1453.0 1605.7 L1455.5 1606.0 L1458.0 1606.3 L1460.5 1606.9 L1463.0 1607.8 L1465.5 1608.8 L1468.0 1609.5 L1470.5 1609.6 L1473.0 1609.3 L1475.5 1609.2 L1478.0 1609.5 L1480.5 1610.3 L1483.0 1611.2 L1485.5 1611.6 L1488.0 1611.6 L1490.5 1611.4 L1493.0 1611.3 L1495.5 1611.5 L1498.0 1611.8 L1500.5 1612.0 L1503.0 1612.1 L1505.5 1612.3 L1508.0 1612.7 L1510.5 1613.3 L1513.0 1613.9 L1515.5 1614.2 L1518.0 1614.3 L1520.5 1614.5 L1523.0 1614.8 L1525.5 1615.2 L1528.0 1615.5 L1530.5 1615.6 L1533.0 1615.5 L1535.5 1615.5 L1538.0 1615.8 L1540.5 1616.3 L1543.0 1616.9 L1545.5 1617.2 L1548.0 1617.2 L1550.5 1617.0 L1553.0 1617.0 L1555.5 1617.2 L1558.0 1617.5 L1560.5 1617.6 L1563.0 1617.6 L1565.5 1617.5 L1568.0 1617.5 L1570.5 1617.8 L1573.0 1618.2 L1575.5 1618.5 L1578.0 1618.7 L1580.5 1618.7 L1583.0 1618.7 L1585.5 1618.6 L1588.0 1618.5 L1590.5 1618.3 L1593.0 1618.3 L1595.5 1618.5 L1598.0 1618.9 L1600.5 1619.3 L1603.0 1619.6 L1605.5 1619.6 L1608.0 1619.3 L1610.5 1619.0 L1613.0 1619.0 L1615.5 1619.1 L1618.0 1619.4 L1620.5 1619.6 L1623.0 1619.6 L1625.5 1619.5 L1628.0 1619.4 L1630.5 1619.3 L1633.0 1619.5 L1635.5 1619.7 L1638.0 1620.0 L1640.5 1620.2 L1643.0 1620.3 L1645.5 1620.1 L1648.0 1619.8 L1650.5 1619.4 L1653.0 1619.4 L1655.5 1619.7 L1658.0 1620.2 L1660.5 1620.8 L1663.0 1621.0 L1665.5 1621.0 L1668.0 1620.7 L1670.5 1620.5 L1673.0 1620.4 L1675.5 1620.6 L1678.0 1620.8 L1680.5 1620.9 L1683.0 1621.1 L1685.5 1621.3 L1688.0 1621.5 L1690.5 1621.6 L1693.0 1621.7 L1695.5 1621.7 L1698.0 1621.9 L1700.5 1622.2 L1703.0 1622.5 L1705.5 1622.6 L1708.0 1622.6 L1710.5 1622.5 L1713.0 1622.6 L1715.5 1623.1 L1718.0 1623.8 L1720.5 1624.5 L1723.0 1624.9 L1725.5 1625.0 L1728.0 1625.0 L1730.5 1625.2 L1733.0 1625.6 L1735.5 1626.0 L1738.0 1626.2 L1740.5 1626.2 L1743.0 1626.2 L1745.5 1626.4 L1748.0 1626.9 L1750.5 1627.4 L1753.0 1627.6 L1755.5 1627.5 L1758.0 1627.3 L1760.5 1627.2 L1763.0 1627.2 L1765.5 1627.3 L1768.0 1627.2 L1770.5 1627.1 L1773.0 1627.1 L1775.5 1627.4 L1778.0 1627.9 L1780.5 1628.2 L1783.0 1628.1 L1785.5 1627.7 L1788.0 1627.3 L1790.5 1627.3 L1793.0 1627.7 L1795.5 1628.3 L1798.0 1628.5 L1800.5 1628.4 L1803.0 1628.2 L1805.5 1628.5 L1808.0 1629.2 L1810.5 1630.2 L1813.0 1631.0 L1815.5 1631.3 L1818.0 1631.2 L1820.5 1630.9 L1823.0 1630.8 L1825.5 1630.8 L1828.0 1630.6 L1830.5 1630.4 L1833.0 1630.3 L1835.5 1630.5 L1838.0 1631.0 L1840.5 1631.3 L1843.0 1631.2 L1845.5 1630.5 L1848.0 1629.7 L1850.5 1629.3 L1853.0 1629.6 L1855.5 1630.2 L1858.0 1630.5 L1860.5 1630.4 L1863.0 1629.9 L1865.5 1629.6 L1868.0 1629.8 L1870.5 1630.3 L1873.0 1630.8 L1875.5 1630.9 L1878.0 1630.7 L1880.5 1630.5 L1883.0 1630.6 L1885.5 1630.8 L1888.0 1631.1 L1890.5 1631.1 L1893.0 1631.1 L1895.5 1631.3 L1898.0 1631.8 L1900.5 1632.4 L1903.0 1632.6 L1905.5 1632.4 L1908.0 1631.9 L1910.5 1631.5 L1913.0 1631.6 L1915.5 1632.1 L1918.0 1632.5 L1920.5 1632.6 L1923.0 1632.3 L1925.5 1632.1 L1928.0 1632.3 L1930.5 1632.8 L1933.0 1633.2 L1935.5 1633.1 L1938.0 1632.7 L1940.5 1632.2 L1943.0 1632.1 L1945.5 1632.5 L1948.0 1632.9 L1950.5 1633.2 L1953.0 1633.2 L1955.5 1633.1 L1958.0 1633.1 L1960.5 1633.4 L1963.0 1633.7 L1965.5 1633.7 L1968.0 1633.5 L1970.5 1633.4 L1973.0 1633.5 L1975.5 1633.9 L1978.0 1634.2 L1980.5 1634.3 L1983.0 1634.1 L1985.5 1634.1 L1988.0 1634.4 L1990.5 1635.0 L1993.0 1635.5 L1995.5 1635.5 L1998.0 1635.1 L2000.5 1634.5 L2003.0 1634.2 L2005.5 1634.5 L2008.0 1635.0 L2010.5 1635.6 L2013.0 1635.9 L2015.5 1635.8 L2018.0 1635.7 L2020.5 1635.6 L2023.0 1635.6 L2025.5 1635.6 L2028.0 1635.5 L2030.5 1635.5 L2033.0 1635.7 L2035.5 1635.9 L2038.0 1636.1 L2040.5 1636.1 L2043.0 1635.9" stroke="#0a0a0a" stroke-width="5.5" fill="none" stroke-linejoin="round"/>
<line x1="413.5" y1="492" x2="413.5" y2="1647" stroke="#000" stroke-width="9.5"/>
<line x1="386" y1="1643" x2="2045" y2="1643" stroke="#000" stroke-width="9" stroke-linecap="round"/>
<line x1="386" y1="515" x2="413" y2="515" stroke="#000" stroke-width="8" stroke-linecap="round"/>
<line x1="386" y1="796" x2="413" y2="796" stroke="#000" stroke-width="8" stroke-linecap="round"/>
<line x1="386" y1="1077.5" x2="413" y2="1077.5" stroke="#000" stroke-width="8" stroke-linecap="round"/>
<line x1="386" y1="1362" x2="413" y2="1362" stroke="#000" stroke-width="8" stroke-linecap="round"/>
<line x1="398" y1="655" x2="413" y2="655" stroke="#000" stroke-width="8" stroke-linecap="round"/>
<line x1="398" y1="936" x2="413" y2="936" stroke="#000" stroke-width="8" stroke-linecap="round"/>
<line x1="398" y1="1220" x2="413" y2="1220" stroke="#000" stroke-width="8" stroke-linecap="round"/>
<line x1="398" y1="1502" x2="413" y2="1502" stroke="#000" stroke-width="8" stroke-linecap="round"/>
<line x1="582" y1="1643" x2="582" y2="1671" stroke="#000" stroke-width="8" stroke-linecap="round"/>
<line x1="820" y1="1643" x2="820" y2="1671" stroke="#000" stroke-width="8" stroke-linecap="round"/>
<line x1="1068.5" y1="1643" x2="1068.5" y2="1671" stroke="#000" stroke-width="8" stroke-linecap="round"/>
<line x1="1304.5" y1="1643" x2="1304.5" y2="1671" stroke="#000" stroke-width="8" stroke-linecap="round"/>
<line x1="1554" y1="1643" x2="1554" y2="1671" stroke="#000" stroke-width="8" stroke-linecap="round"/>
<line x1="1786" y1="1643" x2="1786" y2="1671" stroke="#000" stroke-width="8" stroke-linecap="round"/>
<line x1="2041.5" y1="1643" x2="2041.5" y2="1671" stroke="#000" stroke-width="8" stroke-linecap="round"/>

<line x1="1000" y1="856" x2="1222" y2="734" stroke="#16113a" stroke-width="5" stroke-linecap="round"/>
<path d="M1258 713.5 L1209 726 L1218 737 L1222 748 Z" fill="#16113a"/>
<line x1="1126" y1="1493" x2="1585" y2="1237" stroke="#16113a" stroke-width="5" stroke-linecap="round"/>
<path d="M1619 1218.5 L1573 1233 L1581 1243.6 L1583.5 1254 Z" fill="#16113a"/>


<text class="tick" x="370" y="533" text-anchor="end" textLength="114" lengthAdjust="spacingAndGlyphs">800</text>
<text class="tick" x="370" y="815" text-anchor="end" textLength="114" lengthAdjust="spacingAndGlyphs">600</text>
<text class="tick" x="368" y="1097" text-anchor="end" textLength="112" lengthAdjust="spacingAndGlyphs">400</text>
<text class="tick" x="370" y="1381" text-anchor="end" textLength="114" lengthAdjust="spacingAndGlyphs">200</text>
<text class="tick" x="373" y="1664" text-anchor="end" textLength="41" lengthAdjust="spacingAndGlyphs">0</text>
<text class="tickx" x="756" y="1745" textLength="124" lengthAdjust="spacingAndGlyphs">500</text>
<text class="tickx" x="1244" y="1745" textLength="121" lengthAdjust="spacingAndGlyphs">600</text>
<text class="tickx" x="1728" y="1745" textLength="124" lengthAdjust="spacingAndGlyphs">700</text>
<text class="ylab" transform="translate(172 1202) rotate(-90)" textLength="370" lengthAdjust="spacingAndGlyphs">Intensity</text>
<text class="xlab" x="873" y="1862" textLength="442" lengthAdjust="spacingAndGlyphs">Wavelength</text>
<text class="xlab" x="1338" y="1862" textLength="169.5" lengthAdjust="spacingAndGlyphs">(nm)</text>
<text class="ann" x="1008.6" y="650" textLength="237.8" lengthAdjust="spacingAndGlyphs">Assembly</text>
<text class="ann" x="1260.7" y="650" textLength="86" lengthAdjust="spacingAndGlyphs">and</text>
<text class="ann" x="1366.7" y="650" textLength="237.8" lengthAdjust="spacingAndGlyphs">Assembly</text>
<text class="ann" x="1618.7" y="650" textLength="29" lengthAdjust="spacingAndGlyphs">+</text>
<text class="ann" x="1658.9" y="650" textLength="126" lengthAdjust="spacingAndGlyphs">other</text>
<text class="ann" x="1799.3" y="650" textLength="129" lengthAdjust="spacingAndGlyphs">metal</text>
<text class="ann" x="1948.2" y="650" textLength="169" lengthAdjust="spacingAndGlyphs">cations</text>
<text class="ann" x="1499.5" y="1183" textLength="239.5" lengthAdjust="spacingAndGlyphs">Assembly</text>
<text class="ann" x="1748" y="1183" textLength="31" lengthAdjust="spacingAndGlyphs">+</text>
<text class="ann" x="1791" y="1183" textLength="52" lengthAdjust="spacingAndGlyphs">Fe</text>
<text class="sup" x="1846.5" y="1167" textLength="33.5" lengthAdjust="spacingAndGlyphs">3+</text>

</svg>
</body></html>
